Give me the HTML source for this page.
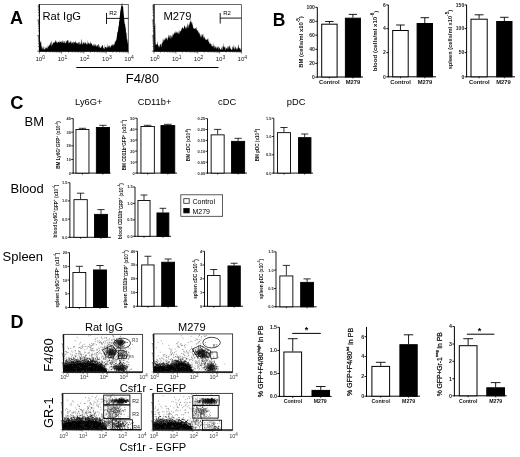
<!DOCTYPE html>
<html><head><meta charset="utf-8"><style>
html,body{margin:0;padding:0;background:#fff;overflow:hidden;width:520px;height:457px;}
svg{display:block;font-family:"Liberation Sans", sans-serif;filter:grayscale(1);}
</style></head><body>
<svg width="520" height="457" viewBox="0 0 520 457">
<defs><filter id="bl" x="-5%" y="-5%" width="110%" height="110%"><feGaussianBlur stdDeviation="0.3"/></filter><filter id="bl2"><feGaussianBlur stdDeviation="0.5"/></filter></defs>
<rect width="520" height="457" fill="#fff"/>
<text x="10" y="24.3" font-size="18" font-weight="bold" fill="#000">A</text>
<rect x="39.4" y="4.5" width="88.9" height="46.6" fill="none" stroke="#444" stroke-width="0.8"/>
<line x1="39.4" y1="4.2" x2="39.4" y2="51.6" stroke="#000" stroke-width="1.1"/>
<line x1="38.9" y1="51.1" x2="128.3" y2="51.1" stroke="#000" stroke-width="1.1"/>
<line x1="37.2" y1="51.1" x2="39.4" y2="51.1" stroke="#222" stroke-width="0.6"/>
<line x1="37.9" y1="46.42" x2="39.4" y2="46.42" stroke="#222" stroke-width="0.6"/>
<line x1="37.9" y1="43.69" x2="39.4" y2="43.69" stroke="#222" stroke-width="0.6"/>
<line x1="37.9" y1="41.75" x2="39.4" y2="41.75" stroke="#222" stroke-width="0.6"/>
<line x1="37.9" y1="40.24" x2="39.4" y2="40.24" stroke="#222" stroke-width="0.6"/>
<line x1="37.9" y1="39.01" x2="39.4" y2="39.01" stroke="#222" stroke-width="0.6"/>
<line x1="37.9" y1="37.97" x2="39.4" y2="37.97" stroke="#222" stroke-width="0.6"/>
<line x1="37.9" y1="37.07" x2="39.4" y2="37.07" stroke="#222" stroke-width="0.6"/>
<line x1="37.9" y1="36.28" x2="39.4" y2="36.28" stroke="#222" stroke-width="0.6"/>
<line x1="37.2" y1="35.57" x2="39.4" y2="35.57" stroke="#222" stroke-width="0.6"/>
<line x1="37.9" y1="30.89" x2="39.4" y2="30.89" stroke="#222" stroke-width="0.6"/>
<line x1="37.9" y1="28.16" x2="39.4" y2="28.16" stroke="#222" stroke-width="0.6"/>
<line x1="37.9" y1="26.21" x2="39.4" y2="26.21" stroke="#222" stroke-width="0.6"/>
<line x1="37.9" y1="24.71" x2="39.4" y2="24.71" stroke="#222" stroke-width="0.6"/>
<line x1="37.9" y1="23.48" x2="39.4" y2="23.48" stroke="#222" stroke-width="0.6"/>
<line x1="37.9" y1="22.44" x2="39.4" y2="22.44" stroke="#222" stroke-width="0.6"/>
<line x1="37.9" y1="21.54" x2="39.4" y2="21.54" stroke="#222" stroke-width="0.6"/>
<line x1="37.9" y1="20.74" x2="39.4" y2="20.74" stroke="#222" stroke-width="0.6"/>
<line x1="37.2" y1="20.03" x2="39.4" y2="20.03" stroke="#222" stroke-width="0.6"/>
<line x1="37.9" y1="15.36" x2="39.4" y2="15.36" stroke="#222" stroke-width="0.6"/>
<line x1="37.9" y1="12.62" x2="39.4" y2="12.62" stroke="#222" stroke-width="0.6"/>
<line x1="37.9" y1="10.68" x2="39.4" y2="10.68" stroke="#222" stroke-width="0.6"/>
<line x1="37.9" y1="9.18" x2="39.4" y2="9.18" stroke="#222" stroke-width="0.6"/>
<line x1="37.9" y1="7.95" x2="39.4" y2="7.95" stroke="#222" stroke-width="0.6"/>
<line x1="37.9" y1="6.91" x2="39.4" y2="6.91" stroke="#222" stroke-width="0.6"/>
<line x1="37.9" y1="6.01" x2="39.4" y2="6.01" stroke="#222" stroke-width="0.6"/>
<line x1="37.9" y1="5.21" x2="39.4" y2="5.21" stroke="#222" stroke-width="0.6"/>
<line x1="39.4" y1="51.1" x2="39.4" y2="53.6" stroke="#222" stroke-width="0.6"/>
<line x1="46.09" y1="51.1" x2="46.09" y2="52.6" stroke="#222" stroke-width="0.6"/>
<line x1="50" y1="51.1" x2="50" y2="52.6" stroke="#222" stroke-width="0.6"/>
<line x1="52.78" y1="51.1" x2="52.78" y2="52.6" stroke="#222" stroke-width="0.6"/>
<line x1="54.93" y1="51.1" x2="54.93" y2="52.6" stroke="#222" stroke-width="0.6"/>
<line x1="56.69" y1="51.1" x2="56.69" y2="52.6" stroke="#222" stroke-width="0.6"/>
<line x1="58.18" y1="51.1" x2="58.18" y2="52.6" stroke="#222" stroke-width="0.6"/>
<line x1="59.47" y1="51.1" x2="59.47" y2="52.6" stroke="#222" stroke-width="0.6"/>
<line x1="60.61" y1="51.1" x2="60.61" y2="52.6" stroke="#222" stroke-width="0.6"/>
<line x1="61.62" y1="51.1" x2="61.62" y2="53.6" stroke="#222" stroke-width="0.6"/>
<line x1="68.32" y1="51.1" x2="68.32" y2="52.6" stroke="#222" stroke-width="0.6"/>
<line x1="72.23" y1="51.1" x2="72.23" y2="52.6" stroke="#222" stroke-width="0.6"/>
<line x1="75.01" y1="51.1" x2="75.01" y2="52.6" stroke="#222" stroke-width="0.6"/>
<line x1="77.16" y1="51.1" x2="77.16" y2="52.6" stroke="#222" stroke-width="0.6"/>
<line x1="78.92" y1="51.1" x2="78.92" y2="52.6" stroke="#222" stroke-width="0.6"/>
<line x1="80.41" y1="51.1" x2="80.41" y2="52.6" stroke="#222" stroke-width="0.6"/>
<line x1="81.7" y1="51.1" x2="81.7" y2="52.6" stroke="#222" stroke-width="0.6"/>
<line x1="82.83" y1="51.1" x2="82.83" y2="52.6" stroke="#222" stroke-width="0.6"/>
<line x1="83.85" y1="51.1" x2="83.85" y2="53.6" stroke="#222" stroke-width="0.6"/>
<line x1="90.54" y1="51.1" x2="90.54" y2="52.6" stroke="#222" stroke-width="0.6"/>
<line x1="94.45" y1="51.1" x2="94.45" y2="52.6" stroke="#222" stroke-width="0.6"/>
<line x1="97.23" y1="51.1" x2="97.23" y2="52.6" stroke="#222" stroke-width="0.6"/>
<line x1="99.38" y1="51.1" x2="99.38" y2="52.6" stroke="#222" stroke-width="0.6"/>
<line x1="101.14" y1="51.1" x2="101.14" y2="52.6" stroke="#222" stroke-width="0.6"/>
<line x1="102.63" y1="51.1" x2="102.63" y2="52.6" stroke="#222" stroke-width="0.6"/>
<line x1="103.92" y1="51.1" x2="103.92" y2="52.6" stroke="#222" stroke-width="0.6"/>
<line x1="105.06" y1="51.1" x2="105.06" y2="52.6" stroke="#222" stroke-width="0.6"/>
<line x1="106.08" y1="51.1" x2="106.08" y2="53.6" stroke="#222" stroke-width="0.6"/>
<line x1="112.77" y1="51.1" x2="112.77" y2="52.6" stroke="#222" stroke-width="0.6"/>
<line x1="116.68" y1="51.1" x2="116.68" y2="52.6" stroke="#222" stroke-width="0.6"/>
<line x1="119.46" y1="51.1" x2="119.46" y2="52.6" stroke="#222" stroke-width="0.6"/>
<line x1="121.61" y1="51.1" x2="121.61" y2="52.6" stroke="#222" stroke-width="0.6"/>
<line x1="123.37" y1="51.1" x2="123.37" y2="52.6" stroke="#222" stroke-width="0.6"/>
<line x1="124.86" y1="51.1" x2="124.86" y2="52.6" stroke="#222" stroke-width="0.6"/>
<line x1="126.15" y1="51.1" x2="126.15" y2="52.6" stroke="#222" stroke-width="0.6"/>
<line x1="127.28" y1="51.1" x2="127.28" y2="52.6" stroke="#222" stroke-width="0.6"/>
<line x1="128.3" y1="51.1" x2="128.3" y2="53.6" stroke="#222" stroke-width="0.6"/>
<text x="40.2" y="61.3" font-size="6.1" text-anchor="middle" fill="#222">10<tspan font-size="5" dy="-2.6">0</tspan></text>
<text x="62.42" y="61.3" font-size="6.1" text-anchor="middle" fill="#222">10<tspan font-size="5" dy="-2.6">1</tspan></text>
<text x="84.65" y="61.3" font-size="6.1" text-anchor="middle" fill="#222">10<tspan font-size="5" dy="-2.6">2</tspan></text>
<text x="106.88" y="61.3" font-size="6.1" text-anchor="middle" fill="#222">10<tspan font-size="5" dy="-2.6">3</tspan></text>
<text x="129.1" y="61.3" font-size="6.1" text-anchor="middle" fill="#222">10<tspan font-size="5" dy="-2.6">4</tspan></text>
<path d="M40 51.1 L39.6 42.57 L39.9 43.11 L40.2 42.11 L40.5 43.02 L40.8 40.56 L41.1 41.52 L41.4 45.81 L41.7 46.6 L42 49.51 L42.3 48.98 L42.6 46.2 L42.9 48.33 L43.2 46.03 L43.5 47.81 L43.8 49.45 L44.1 49.61 L44.4 49.1 L44.7 49.63 L45 45.42 L45.3 49.66 L45.6 48.21 L45.9 47.64 L46.2 46.93 L46.5 47.81 L46.8 48.13 L47.1 48.77 L47.4 44.84 L47.7 49.06 L48 47.37 L48.3 45.84 L48.6 47.24 L48.9 45.08 L49.2 45.52 L49.5 44.32 L49.8 46.18 L50.1 42.73 L50.4 42.58 L50.7 43.6 L51 46.1 L51.3 46.02 L51.6 42.11 L51.9 40.31 L52.2 43.79 L52.5 44.77 L52.8 44.91 L53.1 42.32 L53.4 42.67 L53.7 42.76 L54 42.63 L54.3 42.19 L54.6 43.09 L54.9 41.4 L55.2 42.33 L55.5 40.27 L55.8 40.4 L56.1 40.6 L56.4 42.2 L56.7 41.76 L57 43.14 L57.3 43.13 L57.6 41.42 L57.9 42.84 L58.2 41.93 L58.5 41.98 L58.8 41.73 L59.1 41.63 L59.4 43.55 L59.7 41.48 L60 40.01 L60.3 42.21 L60.6 41.81 L60.9 42.16 L61.2 40.99 L61.5 42.88 L61.8 41.99 L62.1 40.57 L62.4 40.78 L62.7 42.34 L63 43.14 L63.3 43.06 L63.6 40.23 L63.9 42.86 L64.2 40.96 L64.5 41.19 L64.8 43.14 L65.1 43.17 L65.4 43.28 L65.7 43.05 L66 40.01 L66.3 42.63 L66.6 41.44 L66.9 40.83 L67.2 39.83 L67.5 40.83 L67.8 39.96 L68.1 42.72 L68.4 43.66 L68.7 39.78 L69 40.93 L69.3 43.04 L69.6 42.14 L69.9 43.06 L70.2 41.64 L70.5 42.57 L70.8 40.15 L71.1 41.14 L71.4 44.43 L71.7 41.78 L72 43.24 L72.3 41.81 L72.6 42.46 L72.9 43.72 L73.2 41.03 L73.5 44.75 L73.8 41.14 L74.1 42.09 L74.4 42.25 L74.7 43.23 L75 41.63 L75.3 41.37 L75.6 43.8 L75.9 39.88 L76.2 43.38 L76.5 42.48 L76.8 43.48 L77.1 42.47 L77.4 43.84 L77.7 43.82 L78 42 L78.3 42.32 L78.6 42.77 L78.9 44.87 L79.2 44.72 L79.5 42.14 L79.8 41.59 L80.1 43.81 L80.4 44.36 L80.7 44.14 L81 41.58 L81.3 38.41 L81.6 41.02 L81.9 44.73 L82.2 41.63 L82.5 44 L82.8 45.16 L83.1 41.79 L83.4 43.4 L83.7 41.77 L84 44 L84.3 43.67 L84.6 41.48 L84.9 43.92 L85.2 43.03 L85.5 43.06 L85.8 41.37 L86.1 45.45 L86.4 42.06 L86.7 44.6 L87 43.65 L87.3 44.18 L87.6 39.49 L87.9 45.33 L88.2 43.45 L88.5 42.47 L88.8 42.58 L89.1 43.12 L89.4 44.72 L89.7 43.17 L90 43.71 L90.3 44.48 L90.6 41.32 L90.9 42.49 L91.2 43.6 L91.5 42.94 L91.8 44.37 L92.1 44.39 L92.4 45.9 L92.7 44.57 L93 46.17 L93.3 45.73 L93.6 44.71 L93.9 43.82 L94.2 45.68 L94.5 46.48 L94.8 43.83 L95.1 43.89 L95.4 46.72 L95.7 44.35 L96 44.68 L96.3 46.13 L96.6 46.98 L96.9 45.13 L97.2 45.31 L97.5 45.63 L97.8 44.8 L98.1 47.93 L98.4 45.35 L98.7 43.73 L99 44.62 L99.3 45.92 L99.6 47.57 L99.9 47.33 L100.2 47.96 L100.5 47.86 L100.8 47.65 L101.1 45.47 L101.4 46.56 L101.7 48.01 L102 46.09 L102.3 44.83 L102.6 44.89 L102.9 46.26 L103.2 48.74 L103.5 48.18 L103.8 47.89 L104.1 44.21 L104.4 49.06 L104.7 48.92 L105 46.9 L105.3 47.47 L105.6 46.66 L105.9 47.01 L106.2 47.12 L106.5 48.54 L106.8 47.79 L107.1 42.82 L107.4 47.42 L107.7 46.75 L108 48.29 L108.3 45.86 L108.6 45.59 L108.9 47.03 L109.2 45.65 L109.5 44.66 L109.8 48.09 L110.1 45.93 L110.4 46.65 L110.7 48.16 L111 45.3 L111.3 45.95 L111.6 44.07 L111.9 46.48 L112.2 45.82 L112.5 44.38 L112.8 43.64 L113.1 46.03 L113.4 45.6 L113.7 43.98 L114 44.35 L114.3 41.33 L114.6 45.33 L114.9 44.31 L115.2 40.53 L115.5 41.65 L115.8 41.34 L116.1 39.04 L116.4 40.66 L116.7 37.32 L117 35.76 L117.3 32.65 L117.6 31.39 L117.9 31.99 L118.2 28.92 L118.5 26.34 L118.8 26.09 L119.1 21.44 L119.4 20.94 L119.7 16.81 L120 15.03 L120.3 10.81 L120.6 10.54 L120.9 8 L121.2 6.6 L121.5 5.14 L121.8 4.49 L122.1 2.18 L122.4 6.56 L122.7 6.46 L123 5.74 L123.3 9.18 L123.6 13.07 L123.9 16.03 L124.2 19.87 L124.5 22.06 L124.8 24.61 L125.1 23.87 L125.4 28.42 L125.7 26.3 L126 33.55 L126.3 31.69 L126.6 34.9 L126.9 39.47 L127.2 39.09 L127.5 41.21 L127.8 44.01 L128.1 41.41 L128.1 51.1 Z" fill="#000"/>
<text x="42.5" y="20" font-size="11.2" fill="#000">Rat IgG</text>
<line x1="106.5" y1="12.9" x2="106.5" y2="24" stroke="#000" stroke-width="0.9"/>
<line x1="106.5" y1="18.4" x2="128.3" y2="18.4" stroke="#000" stroke-width="0.9"/>
<text x="109.2" y="15.3" font-size="6" fill="#000">R2</text>
<rect x="154" y="4.6" width="87.5" height="46.5" fill="none" stroke="#444" stroke-width="0.8"/>
<line x1="154" y1="4.3" x2="154" y2="51.6" stroke="#000" stroke-width="1.1"/>
<line x1="153.5" y1="51.1" x2="241.5" y2="51.1" stroke="#000" stroke-width="1.1"/>
<line x1="151.8" y1="51.1" x2="154" y2="51.1" stroke="#222" stroke-width="0.6"/>
<line x1="152.5" y1="46.43" x2="154" y2="46.43" stroke="#222" stroke-width="0.6"/>
<line x1="152.5" y1="43.7" x2="154" y2="43.7" stroke="#222" stroke-width="0.6"/>
<line x1="152.5" y1="41.77" x2="154" y2="41.77" stroke="#222" stroke-width="0.6"/>
<line x1="152.5" y1="40.27" x2="154" y2="40.27" stroke="#222" stroke-width="0.6"/>
<line x1="152.5" y1="39.04" x2="154" y2="39.04" stroke="#222" stroke-width="0.6"/>
<line x1="152.5" y1="38" x2="154" y2="38" stroke="#222" stroke-width="0.6"/>
<line x1="152.5" y1="37.1" x2="154" y2="37.1" stroke="#222" stroke-width="0.6"/>
<line x1="152.5" y1="36.31" x2="154" y2="36.31" stroke="#222" stroke-width="0.6"/>
<line x1="151.8" y1="35.6" x2="154" y2="35.6" stroke="#222" stroke-width="0.6"/>
<line x1="152.5" y1="30.93" x2="154" y2="30.93" stroke="#222" stroke-width="0.6"/>
<line x1="152.5" y1="28.2" x2="154" y2="28.2" stroke="#222" stroke-width="0.6"/>
<line x1="152.5" y1="26.27" x2="154" y2="26.27" stroke="#222" stroke-width="0.6"/>
<line x1="152.5" y1="24.77" x2="154" y2="24.77" stroke="#222" stroke-width="0.6"/>
<line x1="152.5" y1="23.54" x2="154" y2="23.54" stroke="#222" stroke-width="0.6"/>
<line x1="152.5" y1="22.5" x2="154" y2="22.5" stroke="#222" stroke-width="0.6"/>
<line x1="152.5" y1="21.6" x2="154" y2="21.6" stroke="#222" stroke-width="0.6"/>
<line x1="152.5" y1="20.81" x2="154" y2="20.81" stroke="#222" stroke-width="0.6"/>
<line x1="151.8" y1="20.1" x2="154" y2="20.1" stroke="#222" stroke-width="0.6"/>
<line x1="152.5" y1="15.43" x2="154" y2="15.43" stroke="#222" stroke-width="0.6"/>
<line x1="152.5" y1="12.7" x2="154" y2="12.7" stroke="#222" stroke-width="0.6"/>
<line x1="152.5" y1="10.77" x2="154" y2="10.77" stroke="#222" stroke-width="0.6"/>
<line x1="152.5" y1="9.27" x2="154" y2="9.27" stroke="#222" stroke-width="0.6"/>
<line x1="152.5" y1="8.04" x2="154" y2="8.04" stroke="#222" stroke-width="0.6"/>
<line x1="152.5" y1="7" x2="154" y2="7" stroke="#222" stroke-width="0.6"/>
<line x1="152.5" y1="6.1" x2="154" y2="6.1" stroke="#222" stroke-width="0.6"/>
<line x1="152.5" y1="5.31" x2="154" y2="5.31" stroke="#222" stroke-width="0.6"/>
<line x1="154" y1="51.1" x2="154" y2="53.6" stroke="#222" stroke-width="0.6"/>
<line x1="160.59" y1="51.1" x2="160.59" y2="52.6" stroke="#222" stroke-width="0.6"/>
<line x1="164.44" y1="51.1" x2="164.44" y2="52.6" stroke="#222" stroke-width="0.6"/>
<line x1="167.17" y1="51.1" x2="167.17" y2="52.6" stroke="#222" stroke-width="0.6"/>
<line x1="169.29" y1="51.1" x2="169.29" y2="52.6" stroke="#222" stroke-width="0.6"/>
<line x1="171.02" y1="51.1" x2="171.02" y2="52.6" stroke="#222" stroke-width="0.6"/>
<line x1="172.49" y1="51.1" x2="172.49" y2="52.6" stroke="#222" stroke-width="0.6"/>
<line x1="173.76" y1="51.1" x2="173.76" y2="52.6" stroke="#222" stroke-width="0.6"/>
<line x1="174.87" y1="51.1" x2="174.87" y2="52.6" stroke="#222" stroke-width="0.6"/>
<line x1="175.88" y1="51.1" x2="175.88" y2="53.6" stroke="#222" stroke-width="0.6"/>
<line x1="182.46" y1="51.1" x2="182.46" y2="52.6" stroke="#222" stroke-width="0.6"/>
<line x1="186.31" y1="51.1" x2="186.31" y2="52.6" stroke="#222" stroke-width="0.6"/>
<line x1="189.05" y1="51.1" x2="189.05" y2="52.6" stroke="#222" stroke-width="0.6"/>
<line x1="191.16" y1="51.1" x2="191.16" y2="52.6" stroke="#222" stroke-width="0.6"/>
<line x1="192.9" y1="51.1" x2="192.9" y2="52.6" stroke="#222" stroke-width="0.6"/>
<line x1="194.36" y1="51.1" x2="194.36" y2="52.6" stroke="#222" stroke-width="0.6"/>
<line x1="195.63" y1="51.1" x2="195.63" y2="52.6" stroke="#222" stroke-width="0.6"/>
<line x1="196.75" y1="51.1" x2="196.75" y2="52.6" stroke="#222" stroke-width="0.6"/>
<line x1="197.75" y1="51.1" x2="197.75" y2="53.6" stroke="#222" stroke-width="0.6"/>
<line x1="204.34" y1="51.1" x2="204.34" y2="52.6" stroke="#222" stroke-width="0.6"/>
<line x1="208.19" y1="51.1" x2="208.19" y2="52.6" stroke="#222" stroke-width="0.6"/>
<line x1="210.92" y1="51.1" x2="210.92" y2="52.6" stroke="#222" stroke-width="0.6"/>
<line x1="213.04" y1="51.1" x2="213.04" y2="52.6" stroke="#222" stroke-width="0.6"/>
<line x1="214.77" y1="51.1" x2="214.77" y2="52.6" stroke="#222" stroke-width="0.6"/>
<line x1="216.24" y1="51.1" x2="216.24" y2="52.6" stroke="#222" stroke-width="0.6"/>
<line x1="217.51" y1="51.1" x2="217.51" y2="52.6" stroke="#222" stroke-width="0.6"/>
<line x1="218.62" y1="51.1" x2="218.62" y2="52.6" stroke="#222" stroke-width="0.6"/>
<line x1="219.62" y1="51.1" x2="219.62" y2="53.6" stroke="#222" stroke-width="0.6"/>
<line x1="226.21" y1="51.1" x2="226.21" y2="52.6" stroke="#222" stroke-width="0.6"/>
<line x1="230.06" y1="51.1" x2="230.06" y2="52.6" stroke="#222" stroke-width="0.6"/>
<line x1="232.8" y1="51.1" x2="232.8" y2="52.6" stroke="#222" stroke-width="0.6"/>
<line x1="234.91" y1="51.1" x2="234.91" y2="52.6" stroke="#222" stroke-width="0.6"/>
<line x1="236.65" y1="51.1" x2="236.65" y2="52.6" stroke="#222" stroke-width="0.6"/>
<line x1="238.11" y1="51.1" x2="238.11" y2="52.6" stroke="#222" stroke-width="0.6"/>
<line x1="239.38" y1="51.1" x2="239.38" y2="52.6" stroke="#222" stroke-width="0.6"/>
<line x1="240.5" y1="51.1" x2="240.5" y2="52.6" stroke="#222" stroke-width="0.6"/>
<line x1="241.5" y1="51.1" x2="241.5" y2="53.6" stroke="#222" stroke-width="0.6"/>
<text x="154.8" y="61.3" font-size="6.1" text-anchor="middle" fill="#222">10<tspan font-size="5" dy="-2.6">0</tspan></text>
<text x="176.68" y="61.3" font-size="6.1" text-anchor="middle" fill="#222">10<tspan font-size="5" dy="-2.6">1</tspan></text>
<text x="198.55" y="61.3" font-size="6.1" text-anchor="middle" fill="#222">10<tspan font-size="5" dy="-2.6">2</tspan></text>
<text x="220.43" y="61.3" font-size="6.1" text-anchor="middle" fill="#222">10<tspan font-size="5" dy="-2.6">3</tspan></text>
<text x="242.3" y="61.3" font-size="6.1" text-anchor="middle" fill="#222">10<tspan font-size="5" dy="-2.6">4</tspan></text>
<path d="M154.3 51.1 L154.3 25.15 L154.6 25.91 L154.9 25.67 L155.2 22.53 L155.5 42.09 L155.8 45.29 L156.1 44.29 L156.4 44.96 L156.7 44.56 L157 43.67 L157.3 44.07 L157.6 40.68 L157.9 44.5 L158.2 47.96 L158.5 44.92 L158.8 46.04 L159.1 44.59 L159.4 46.76 L159.7 47.68 L160 44.78 L160.3 44.06 L160.6 43.82 L160.9 45.31 L161.2 47.46 L161.5 45.26 L161.8 43.2 L162.1 43.47 L162.4 42.44 L162.7 41.81 L163 37.93 L163.3 39.72 L163.6 42.41 L163.9 39.67 L164.2 40.32 L164.5 38.33 L164.8 41.22 L165.1 37.71 L165.4 37.8 L165.7 39.95 L166 38.6 L166.3 39.26 L166.6 37.7 L166.9 37.01 L167.2 40.32 L167.5 40.21 L167.8 37.39 L168.1 37.98 L168.4 37.11 L168.7 35.1 L169 34.74 L169.3 35.4 L169.6 38.7 L169.9 36.24 L170.2 35.06 L170.5 35.65 L170.8 38.72 L171.1 38.56 L171.4 36.36 L171.7 36.27 L172 34.41 L172.3 37.99 L172.6 35.91 L172.9 33.09 L173.2 35.64 L173.5 33.3 L173.8 34.65 L174.1 33.81 L174.4 32.43 L174.7 32 L175 34.1 L175.3 31.94 L175.6 33.45 L175.9 30.57 L176.2 31.57 L176.5 32.45 L176.8 33.2 L177.1 31.82 L177.4 33.48 L177.7 31.71 L178 33.95 L178.3 34.35 L178.6 32.27 L178.9 30.65 L179.2 33.88 L179.5 32.54 L179.8 29.42 L180.1 31.55 L180.4 30.59 L180.7 31.91 L181 30.79 L181.3 29.93 L181.6 28.7 L181.9 28.43 L182.2 27.75 L182.5 27.72 L182.8 27.02 L183.1 28.35 L183.4 29.08 L183.7 28.68 L184 27.3 L184.3 26.38 L184.6 24.93 L184.9 25.89 L185.2 26.87 L185.5 29.55 L185.8 27.12 L186.1 28.06 L186.4 25.79 L186.7 27.61 L187 29.35 L187.3 26.57 L187.6 22.76 L187.9 25.18 L188.2 28.39 L188.5 25.68 L188.8 24.39 L189.1 24.1 L189.4 25.79 L189.7 22.22 L190 22.59 L190.3 21.36 L190.6 21.67 L190.9 18.73 L191.2 21.56 L191.5 24.11 L191.8 21.76 L192.1 23.86 L192.4 26.86 L192.7 21.48 L193 26.2 L193.3 27.75 L193.6 29.07 L193.9 27.67 L194.2 28.58 L194.5 28.51 L194.8 29.14 L195.1 28.17 L195.4 27.98 L195.7 28.14 L196 29.82 L196.3 26.49 L196.6 28.84 L196.9 30.61 L197.2 30.13 L197.5 30.23 L197.8 31.66 L198.1 29.98 L198.4 33.17 L198.7 31.89 L199 33.31 L199.3 34.1 L199.6 31.38 L199.9 35.42 L200.2 36.69 L200.5 33.43 L200.8 37.89 L201.1 33.63 L201.4 35.04 L201.7 38.53 L202 35.16 L202.3 36.49 L202.6 34.47 L202.9 34.03 L203.2 33.64 L203.5 39.1 L203.8 36.66 L204.1 37.71 L204.4 38.73 L204.7 35.75 L205 37.73 L205.3 39.55 L205.6 40.02 L205.9 38.98 L206.2 39.22 L206.5 39.77 L206.8 40.34 L207.1 39.79 L207.4 39.59 L207.7 37.69 L208 40.95 L208.3 42.32 L208.6 41.19 L208.9 37.32 L209.2 44.11 L209.5 41.91 L209.8 44.64 L210.1 42.62 L210.4 43.87 L210.7 44.07 L211 44.44 L211.3 43.8 L211.6 46.36 L211.9 45.72 L212.2 46.29 L212.5 46.7 L212.8 45.94 L213.1 41.9 L213.4 46.76 L213.7 44.79 L214 48.88 L214.3 47 L214.6 45.09 L214.9 47.08 L215.2 48.48 L215.5 45.84 L215.8 46.93 L216.1 46.14 L216.4 47.63 L216.7 49.05 L217 48.09 L217.3 46.53 L217.6 47.3 L217.9 48.45 L218.2 46.13 L218.5 46.37 L218.8 50.33 L219.1 47.4 L219.4 47.28 L219.7 48.26 L220 49 L220.3 48.89 L220.6 50.11 L220.9 49.48 L221.2 46.24 L221.5 50.42 L221.8 47.32 L222.1 50.02 L222.4 49.24 L222.7 46.28 L223 46.32 L223.3 47.86 L223.6 42.5 L223.9 46.86 L224.2 47.84 L224.5 46.44 L224.8 46.55 L225.1 50.14 L225.4 49.86 L225.7 46.15 L226 48.23 L226.3 47.75 L226.6 49.29 L226.9 47.45 L227.2 49.74 L227.5 46.6 L227.8 46.48 L228.1 49.72 L228.4 45.72 L228.7 46.47 L229 48.65 L229.3 46.38 L229.6 45.2 L229.9 46.12 L230.2 47.5 L230.5 48.57 L230.8 49.01 L231.1 48.66 L231.4 49.73 L231.7 50.34 L232 49.23 L232.3 49.72 L232.6 46.05 L232.9 47.29 L233.2 44.42 L233.5 48.4 L233.8 46.72 L234.1 49.94 L234.4 48.85 L234.7 48.04 L235 45.33 L235.3 49.81 L235.6 46.58 L235.9 46.91 L236.2 48.13 L236.5 48.44 L236.8 50.21 L237.1 48.09 L237.4 49.56 L237.7 48.53 L238 45.63 L238.3 44.22 L238.6 46.32 L238.9 48.31 L239.2 47.92 L239.5 47.41 L239.8 48.67 L240.1 49.51 L240.4 47.75 L240.7 50.54 L241 49.95 L241.3 44.73 L241.3 51.1 Z" fill="#000"/>
<text x="163.4" y="20" font-size="11.2" fill="#000">M279</text>
<line x1="220.2" y1="13" x2="220.2" y2="23.6" stroke="#000" stroke-width="0.9"/>
<line x1="220.2" y1="18.1" x2="241.5" y2="18.1" stroke="#000" stroke-width="0.9"/>
<text x="223.2" y="14.8" font-size="6" fill="#000">R2</text>
<line x1="76.3" y1="67.5" x2="218.5" y2="67.5" stroke="#000" stroke-width="1"/>
<text x="125.8" y="82.9" font-size="13" fill="#000">F4/80</text>
<text x="272.8" y="25.8" font-size="17.5" font-weight="bold" fill="#000">B</text>
<line x1="317.3" y1="7.3" x2="317.3" y2="77.5" stroke="#000" stroke-width="1"/>
<line x1="316.8" y1="77" x2="363" y2="77" stroke="#000" stroke-width="1"/>
<line x1="315.3" y1="7.3" x2="317.3" y2="7.3" stroke="#000" stroke-width="0.9"/>
<text x="314.9" y="9.1" font-size="5" font-weight="bold" text-anchor="end" fill="#222">100</text>
<line x1="315.3" y1="21.3" x2="317.3" y2="21.3" stroke="#000" stroke-width="0.9"/>
<text x="314.9" y="23.1" font-size="5" font-weight="bold" text-anchor="end" fill="#222">80</text>
<line x1="315.3" y1="35.2" x2="317.3" y2="35.2" stroke="#000" stroke-width="0.9"/>
<text x="314.9" y="37" font-size="5" font-weight="bold" text-anchor="end" fill="#222">60</text>
<line x1="315.3" y1="49.3" x2="317.3" y2="49.3" stroke="#000" stroke-width="0.9"/>
<text x="314.9" y="51.1" font-size="5" font-weight="bold" text-anchor="end" fill="#222">40</text>
<line x1="315.3" y1="63.4" x2="317.3" y2="63.4" stroke="#000" stroke-width="0.9"/>
<text x="314.9" y="65.2" font-size="5" font-weight="bold" text-anchor="end" fill="#222">20</text>
<line x1="315.3" y1="77.2" x2="317.3" y2="77.2" stroke="#000" stroke-width="0.9"/>
<text x="314.9" y="79" font-size="5" font-weight="bold" text-anchor="end" fill="#222">0</text>
<line x1="329.4" y1="23.7" x2="329.4" y2="21.5" stroke="#000" stroke-width="0.9"/>
<line x1="325.14" y1="21.5" x2="333.66" y2="21.5" stroke="#000" stroke-width="0.9"/>
<rect x="321.7" y="24.2" width="15.4" height="52.8" fill="#fff" stroke="#000" stroke-width="1"/>
<line x1="329.4" y1="77" x2="329.4" y2="78.5" stroke="#000" stroke-width="0.8"/>
<line x1="352.9" y1="17.7" x2="352.9" y2="14.4" stroke="#000" stroke-width="0.9"/>
<line x1="348.74" y1="14.4" x2="357.06" y2="14.4" stroke="#000" stroke-width="0.9"/>
<rect x="345.4" y="18.2" width="15" height="58.8" fill="#000" stroke="#000" stroke-width="1"/>
<line x1="352.9" y1="77" x2="352.9" y2="78.5" stroke="#000" stroke-width="0.8"/>
<text x="329.4" y="84" font-size="5.8" font-weight="bold" text-anchor="middle" fill="#111">Control</text>
<text x="352.9" y="84" font-size="5.8" font-weight="bold" text-anchor="middle" fill="#111">M279</text>
<text x="300.6" y="42" font-size="5.85" font-weight="bold" text-anchor="middle" fill="#111" transform="rotate(-90 300.6 42)" dominant-baseline="central">BM (cells/ml x10<tspan font-size="4.6" dy="-2.7">-5</tspan><tspan dy="2.7">)</tspan></text>
<line x1="388.3" y1="4.9" x2="388.3" y2="77.3" stroke="#000" stroke-width="1"/>
<line x1="387.8" y1="76.8" x2="436" y2="76.8" stroke="#000" stroke-width="1"/>
<line x1="386.3" y1="4.9" x2="388.3" y2="4.9" stroke="#000" stroke-width="0.9"/>
<text x="385.9" y="6.7" font-size="5" font-weight="bold" text-anchor="end" fill="#222">6</text>
<line x1="386.3" y1="28.6" x2="388.3" y2="28.6" stroke="#000" stroke-width="0.9"/>
<text x="385.9" y="30.4" font-size="5" font-weight="bold" text-anchor="end" fill="#222">4</text>
<line x1="386.3" y1="52.6" x2="388.3" y2="52.6" stroke="#000" stroke-width="0.9"/>
<text x="385.9" y="54.4" font-size="5" font-weight="bold" text-anchor="end" fill="#222">2</text>
<line x1="386.3" y1="76.8" x2="388.3" y2="76.8" stroke="#000" stroke-width="0.9"/>
<text x="385.9" y="78.6" font-size="5" font-weight="bold" text-anchor="end" fill="#222">0</text>
<line x1="400.45" y1="30" x2="400.45" y2="25" stroke="#000" stroke-width="0.9"/>
<line x1="396.16" y1="25" x2="404.74" y2="25" stroke="#000" stroke-width="0.9"/>
<rect x="392.7" y="30.5" width="15.5" height="46.3" fill="#fff" stroke="#000" stroke-width="1"/>
<line x1="400.45" y1="76.8" x2="400.45" y2="78.3" stroke="#000" stroke-width="0.8"/>
<line x1="424.8" y1="23" x2="424.8" y2="17.7" stroke="#000" stroke-width="0.9"/>
<line x1="420.54" y1="17.7" x2="429.06" y2="17.7" stroke="#000" stroke-width="0.9"/>
<rect x="417.1" y="23.5" width="15.4" height="53.3" fill="#000" stroke="#000" stroke-width="1"/>
<line x1="424.8" y1="76.8" x2="424.8" y2="78.3" stroke="#000" stroke-width="0.8"/>
<text x="400.6" y="84" font-size="5.8" font-weight="bold" text-anchor="middle" fill="#111">Control</text>
<text x="424.9" y="84" font-size="5.8" font-weight="bold" text-anchor="middle" fill="#111">M279</text>
<text x="374.9" y="41" font-size="6.1" font-weight="bold" text-anchor="middle" fill="#111" transform="rotate(-90 374.9 41)" dominant-baseline="central">blood (cells/ml x10<tspan font-size="4.6" dy="-2.7">-6</tspan><tspan dy="2.7">)</tspan></text>
<line x1="466.6" y1="4.9" x2="466.6" y2="77.3" stroke="#000" stroke-width="1"/>
<line x1="466.1" y1="76.8" x2="515" y2="76.8" stroke="#000" stroke-width="1"/>
<line x1="464.6" y1="4.9" x2="466.6" y2="4.9" stroke="#000" stroke-width="0.9"/>
<text x="464.2" y="6.7" font-size="5" font-weight="bold" text-anchor="end" fill="#222">150</text>
<line x1="464.6" y1="28.6" x2="466.6" y2="28.6" stroke="#000" stroke-width="0.9"/>
<text x="464.2" y="30.4" font-size="5" font-weight="bold" text-anchor="end" fill="#222">100</text>
<line x1="464.6" y1="52.6" x2="466.6" y2="52.6" stroke="#000" stroke-width="0.9"/>
<text x="464.2" y="54.4" font-size="5" font-weight="bold" text-anchor="end" fill="#222">50</text>
<line x1="464.6" y1="76.8" x2="466.6" y2="76.8" stroke="#000" stroke-width="0.9"/>
<text x="464.2" y="78.6" font-size="5" font-weight="bold" text-anchor="end" fill="#222">0</text>
<line x1="479.1" y1="18.7" x2="479.1" y2="14.8" stroke="#000" stroke-width="0.9"/>
<line x1="474.63" y1="14.8" x2="483.57" y2="14.8" stroke="#000" stroke-width="0.9"/>
<rect x="471" y="19.2" width="16.2" height="57.6" fill="#fff" stroke="#000" stroke-width="1"/>
<line x1="479.1" y1="76.8" x2="479.1" y2="78.3" stroke="#000" stroke-width="0.8"/>
<line x1="504.35" y1="21" x2="504.35" y2="17.3" stroke="#000" stroke-width="0.9"/>
<line x1="500.11" y1="17.3" x2="508.59" y2="17.3" stroke="#000" stroke-width="0.9"/>
<rect x="496.7" y="21.5" width="15.3" height="55.3" fill="#000" stroke="#000" stroke-width="1"/>
<line x1="504.35" y1="76.8" x2="504.35" y2="78.3" stroke="#000" stroke-width="0.8"/>
<text x="479.4" y="84" font-size="5.8" font-weight="bold" text-anchor="middle" fill="#111">Control</text>
<text x="503.5" y="84" font-size="5.8" font-weight="bold" text-anchor="middle" fill="#111">M279</text>
<text x="450.1" y="39.6" font-size="5.7" font-weight="bold" text-anchor="middle" fill="#111" transform="rotate(-90 450.1 39.6)" dominant-baseline="central">spleen (cells/ml x10<tspan font-size="4.6" dy="-2.7">-5</tspan><tspan dy="2.7">)</tspan></text>
<text x="10.2" y="109.3" font-size="18.3" font-weight="bold" fill="#000">C</text>
<text x="24.5" y="125.9" font-size="13" fill="#000">BM</text>
<text x="10.5" y="193.1" font-size="13" fill="#000">Blood</text>
<text x="2.6" y="260.6" font-size="13" fill="#000">Spleen</text>
<text x="75.1" y="104.9" font-size="9.3" fill="#000">Ly6G+</text>
<text x="137.7" y="104.9" font-size="9.3" fill="#000">CD11b+</text>
<text x="218.1" y="104.9" font-size="9.3" fill="#000">cDC</text>
<text x="286.8" y="104.9" font-size="9.3" fill="#000">pDC</text>
<line x1="73.2" y1="118.5" x2="73.2" y2="173.6" stroke="#000" stroke-width="0.9"/>
<line x1="72.7" y1="173.1" x2="110.6" y2="173.1" stroke="#000" stroke-width="0.9"/>
<line x1="71.2" y1="118.6" x2="73.2" y2="118.6" stroke="#000" stroke-width="0.81"/>
<text x="70.8" y="120" font-size="3.9" font-weight="bold" text-anchor="end" fill="#222">40</text>
<line x1="71.2" y1="132.2" x2="73.2" y2="132.2" stroke="#000" stroke-width="0.81"/>
<text x="70.8" y="133.6" font-size="3.9" font-weight="bold" text-anchor="end" fill="#222">30</text>
<line x1="71.2" y1="145.8" x2="73.2" y2="145.8" stroke="#000" stroke-width="0.81"/>
<text x="70.8" y="147.2" font-size="3.9" font-weight="bold" text-anchor="end" fill="#222">20</text>
<line x1="71.2" y1="159.5" x2="73.2" y2="159.5" stroke="#000" stroke-width="0.81"/>
<text x="70.8" y="160.9" font-size="3.9" font-weight="bold" text-anchor="end" fill="#222">10</text>
<line x1="71.2" y1="173.1" x2="73.2" y2="173.1" stroke="#000" stroke-width="0.81"/>
<text x="70.8" y="174.5" font-size="3.9" font-weight="bold" text-anchor="end" fill="#222">0</text>
<line x1="82.45" y1="129" x2="82.45" y2="128.3" stroke="#000" stroke-width="0.81"/>
<line x1="78.84" y1="128.3" x2="86.06" y2="128.3" stroke="#000" stroke-width="0.81"/>
<rect x="75.95" y="129.45" width="13" height="43.65" fill="#fff" stroke="#000" stroke-width="0.9"/>
<line x1="82.45" y1="173.1" x2="82.45" y2="174.6" stroke="#000" stroke-width="0.72"/>
<line x1="102.9" y1="127" x2="102.9" y2="125.3" stroke="#000" stroke-width="0.81"/>
<line x1="99.26" y1="125.3" x2="106.54" y2="125.3" stroke="#000" stroke-width="0.81"/>
<rect x="96.35" y="127.45" width="13.1" height="45.65" fill="#000" stroke="#000" stroke-width="0.9"/>
<line x1="102.9" y1="173.1" x2="102.9" y2="174.6" stroke="#000" stroke-width="0.72"/>
<text x="58.4" y="145" font-size="4.6" font-weight="bold" text-anchor="middle" fill="#111" transform="rotate(-90 58.4 145)" dominant-baseline="central">BM Ly6G<tspan font-size="3" dy="-1.5">+</tspan><tspan dy="1.5">GFP<tspan font-size="3" dy="-1.5">+</tspan><tspan dy="1.5"> (x10<tspan font-size="3" dy="-1.8">-4</tspan><tspan dy="1.8">)</tspan></text>
<line x1="137.1" y1="118.2" x2="137.1" y2="173.6" stroke="#000" stroke-width="0.9"/>
<line x1="136.6" y1="173.1" x2="177" y2="173.1" stroke="#000" stroke-width="0.9"/>
<line x1="135.1" y1="118.2" x2="137.1" y2="118.2" stroke="#000" stroke-width="0.81"/>
<text x="134.7" y="119.6" font-size="3.9" font-weight="bold" text-anchor="end" fill="#222">50</text>
<line x1="135.1" y1="129.2" x2="137.1" y2="129.2" stroke="#000" stroke-width="0.81"/>
<text x="134.7" y="130.6" font-size="3.9" font-weight="bold" text-anchor="end" fill="#222">40</text>
<line x1="135.1" y1="140.1" x2="137.1" y2="140.1" stroke="#000" stroke-width="0.81"/>
<text x="134.7" y="141.5" font-size="3.9" font-weight="bold" text-anchor="end" fill="#222">30</text>
<line x1="135.1" y1="151.1" x2="137.1" y2="151.1" stroke="#000" stroke-width="0.81"/>
<text x="134.7" y="152.5" font-size="3.9" font-weight="bold" text-anchor="end" fill="#222">20</text>
<line x1="135.1" y1="162.1" x2="137.1" y2="162.1" stroke="#000" stroke-width="0.81"/>
<text x="134.7" y="163.5" font-size="3.9" font-weight="bold" text-anchor="end" fill="#222">10</text>
<line x1="135.1" y1="173.1" x2="137.1" y2="173.1" stroke="#000" stroke-width="0.81"/>
<text x="134.7" y="174.5" font-size="3.9" font-weight="bold" text-anchor="end" fill="#222">0</text>
<line x1="147.65" y1="126" x2="147.65" y2="125.3" stroke="#000" stroke-width="0.81"/>
<line x1="143.93" y1="125.3" x2="151.37" y2="125.3" stroke="#000" stroke-width="0.81"/>
<rect x="140.95" y="126.45" width="13.4" height="46.65" fill="#fff" stroke="#000" stroke-width="0.9"/>
<line x1="147.65" y1="173.1" x2="147.65" y2="174.6" stroke="#000" stroke-width="0.72"/>
<line x1="167.85" y1="125.1" x2="167.85" y2="124.3" stroke="#000" stroke-width="0.81"/>
<line x1="164.03" y1="124.3" x2="171.67" y2="124.3" stroke="#000" stroke-width="0.81"/>
<rect x="160.95" y="125.55" width="13.8" height="47.55" fill="#000" stroke="#000" stroke-width="0.9"/>
<line x1="167.85" y1="173.1" x2="167.85" y2="174.6" stroke="#000" stroke-width="0.72"/>
<text x="124.1" y="145" font-size="4.6" font-weight="bold" text-anchor="middle" fill="#111" transform="rotate(-90 124.1 145)" dominant-baseline="central">BM CD11b<tspan font-size="3" dy="-1.5">+</tspan><tspan dy="1.5">GFP<tspan font-size="3" dy="-1.5">+</tspan><tspan dy="1.5"> (x10<tspan font-size="3" dy="-1.8">-4</tspan><tspan dy="1.8">)</tspan></text>
<line x1="207.5" y1="118.6" x2="207.5" y2="173.6" stroke="#000" stroke-width="0.9"/>
<line x1="207" y1="173.1" x2="247" y2="173.1" stroke="#000" stroke-width="0.9"/>
<line x1="205.5" y1="118.6" x2="207.5" y2="118.6" stroke="#000" stroke-width="0.81"/>
<text x="205.1" y="120" font-size="3.9" font-weight="bold" text-anchor="end" fill="#222">0.25</text>
<line x1="205.5" y1="129.5" x2="207.5" y2="129.5" stroke="#000" stroke-width="0.81"/>
<text x="205.1" y="130.9" font-size="3.9" font-weight="bold" text-anchor="end" fill="#222">0.20</text>
<line x1="205.5" y1="140.4" x2="207.5" y2="140.4" stroke="#000" stroke-width="0.81"/>
<text x="205.1" y="141.8" font-size="3.9" font-weight="bold" text-anchor="end" fill="#222">0.15</text>
<line x1="205.5" y1="151.3" x2="207.5" y2="151.3" stroke="#000" stroke-width="0.81"/>
<text x="205.1" y="152.7" font-size="3.9" font-weight="bold" text-anchor="end" fill="#222">0.10</text>
<line x1="205.5" y1="162.2" x2="207.5" y2="162.2" stroke="#000" stroke-width="0.81"/>
<text x="205.1" y="163.6" font-size="3.9" font-weight="bold" text-anchor="end" fill="#222">0.05</text>
<line x1="205.5" y1="173.1" x2="207.5" y2="173.1" stroke="#000" stroke-width="0.81"/>
<text x="205.1" y="174.5" font-size="3.9" font-weight="bold" text-anchor="end" fill="#222">0.00</text>
<line x1="217.65" y1="134.4" x2="217.65" y2="129.4" stroke="#000" stroke-width="0.81"/>
<line x1="214.04" y1="129.4" x2="221.26" y2="129.4" stroke="#000" stroke-width="0.81"/>
<rect x="211.15" y="134.85" width="13" height="38.25" fill="#fff" stroke="#000" stroke-width="0.9"/>
<line x1="217.65" y1="173.1" x2="217.65" y2="174.6" stroke="#000" stroke-width="0.72"/>
<line x1="238.1" y1="140.9" x2="238.1" y2="138.3" stroke="#000" stroke-width="0.81"/>
<line x1="234.46" y1="138.3" x2="241.74" y2="138.3" stroke="#000" stroke-width="0.81"/>
<rect x="231.55" y="141.35" width="13.1" height="31.75" fill="#000" stroke="#000" stroke-width="0.9"/>
<line x1="238.1" y1="173.1" x2="238.1" y2="174.6" stroke="#000" stroke-width="0.72"/>
<text x="188.4" y="145" font-size="4.6" font-weight="bold" text-anchor="middle" fill="#111" transform="rotate(-90 188.4 145)" dominant-baseline="central">BM cDC (x10<tspan font-size="3" dy="-1.8">-6</tspan><tspan dy="1.8">)</tspan></text>
<line x1="273.8" y1="118.2" x2="273.8" y2="173.6" stroke="#000" stroke-width="0.9"/>
<line x1="273.3" y1="173.1" x2="313" y2="173.1" stroke="#000" stroke-width="0.9"/>
<line x1="271.8" y1="118.2" x2="273.8" y2="118.2" stroke="#000" stroke-width="0.81"/>
<text x="271.4" y="119.6" font-size="3.9" font-weight="bold" text-anchor="end" fill="#222">1.5</text>
<line x1="271.8" y1="136.5" x2="273.8" y2="136.5" stroke="#000" stroke-width="0.81"/>
<text x="271.4" y="137.9" font-size="3.9" font-weight="bold" text-anchor="end" fill="#222">1.0</text>
<line x1="271.8" y1="154.8" x2="273.8" y2="154.8" stroke="#000" stroke-width="0.81"/>
<text x="271.4" y="156.2" font-size="3.9" font-weight="bold" text-anchor="end" fill="#222">0.5</text>
<line x1="271.8" y1="173.1" x2="273.8" y2="173.1" stroke="#000" stroke-width="0.81"/>
<text x="271.4" y="174.5" font-size="3.9" font-weight="bold" text-anchor="end" fill="#222">0.0</text>
<line x1="283.95" y1="132.2" x2="283.95" y2="127.5" stroke="#000" stroke-width="0.81"/>
<line x1="280.34" y1="127.5" x2="287.56" y2="127.5" stroke="#000" stroke-width="0.81"/>
<rect x="277.45" y="132.65" width="13" height="40.45" fill="#fff" stroke="#000" stroke-width="0.9"/>
<line x1="283.95" y1="173.1" x2="283.95" y2="174.6" stroke="#000" stroke-width="0.72"/>
<line x1="304.7" y1="137.2" x2="304.7" y2="134" stroke="#000" stroke-width="0.81"/>
<line x1="301.22" y1="134" x2="308.18" y2="134" stroke="#000" stroke-width="0.81"/>
<rect x="298.45" y="137.65" width="12.5" height="35.45" fill="#000" stroke="#000" stroke-width="0.9"/>
<line x1="304.7" y1="173.1" x2="304.7" y2="174.6" stroke="#000" stroke-width="0.72"/>
<text x="257.4" y="145" font-size="4.6" font-weight="bold" text-anchor="middle" fill="#111" transform="rotate(-90 257.4 145)" dominant-baseline="central">BM pDC (x10<tspan font-size="3" dy="-1.8">-6</tspan><tspan dy="1.8">)</tspan></text>
<line x1="69.9" y1="182.7" x2="69.9" y2="237.8" stroke="#000" stroke-width="0.9"/>
<line x1="69.4" y1="237.3" x2="111" y2="237.3" stroke="#000" stroke-width="0.9"/>
<line x1="67.9" y1="182.7" x2="69.9" y2="182.7" stroke="#000" stroke-width="0.81"/>
<text x="67.5" y="184.1" font-size="3.9" font-weight="bold" text-anchor="end" fill="#222">1.5</text>
<line x1="67.9" y1="200.9" x2="69.9" y2="200.9" stroke="#000" stroke-width="0.81"/>
<text x="67.5" y="202.3" font-size="3.9" font-weight="bold" text-anchor="end" fill="#222">1.0</text>
<line x1="67.9" y1="219.1" x2="69.9" y2="219.1" stroke="#000" stroke-width="0.81"/>
<text x="67.5" y="220.5" font-size="3.9" font-weight="bold" text-anchor="end" fill="#222">0.5</text>
<line x1="67.9" y1="237.3" x2="69.9" y2="237.3" stroke="#000" stroke-width="0.81"/>
<text x="67.5" y="238.7" font-size="3.9" font-weight="bold" text-anchor="end" fill="#222">0.0</text>
<line x1="80.6" y1="199.2" x2="80.6" y2="193.2" stroke="#000" stroke-width="0.81"/>
<line x1="76.91" y1="193.2" x2="84.29" y2="193.2" stroke="#000" stroke-width="0.81"/>
<rect x="73.95" y="199.65" width="13.3" height="37.65" fill="#fff" stroke="#000" stroke-width="0.9"/>
<line x1="80.6" y1="237.3" x2="80.6" y2="238.8" stroke="#000" stroke-width="0.72"/>
<line x1="101" y1="213.9" x2="101" y2="209.6" stroke="#000" stroke-width="0.81"/>
<line x1="97.41" y1="209.6" x2="104.59" y2="209.6" stroke="#000" stroke-width="0.81"/>
<rect x="94.55" y="214.35" width="12.9" height="22.95" fill="#000" stroke="#000" stroke-width="0.9"/>
<line x1="101" y1="237.3" x2="101" y2="238.8" stroke="#000" stroke-width="0.72"/>
<text x="55.7" y="211" font-size="4.6" font-weight="bold" text-anchor="middle" fill="#111" transform="rotate(-90 55.7 211)" dominant-baseline="central">blood Ly6G<tspan font-size="3" dy="-1.5">+</tspan><tspan dy="1.5">GFP<tspan font-size="3" dy="-1.5">+</tspan><tspan dy="1.5"> (x10<tspan font-size="3" dy="-1.8">-4</tspan><tspan dy="1.8">)</tspan></text>
<line x1="135" y1="187" x2="135" y2="236.8" stroke="#000" stroke-width="0.9"/>
<line x1="134.5" y1="236.3" x2="171" y2="236.3" stroke="#000" stroke-width="0.9"/>
<line x1="133" y1="187" x2="135" y2="187" stroke="#000" stroke-width="0.81"/>
<text x="132.6" y="188.4" font-size="3.9" font-weight="bold" text-anchor="end" fill="#222">1.5</text>
<line x1="133" y1="203.4" x2="135" y2="203.4" stroke="#000" stroke-width="0.81"/>
<text x="132.6" y="204.8" font-size="3.9" font-weight="bold" text-anchor="end" fill="#222">1.0</text>
<line x1="133" y1="219.9" x2="135" y2="219.9" stroke="#000" stroke-width="0.81"/>
<text x="132.6" y="221.3" font-size="3.9" font-weight="bold" text-anchor="end" fill="#222">0.5</text>
<line x1="133" y1="236.3" x2="135" y2="236.3" stroke="#000" stroke-width="0.81"/>
<text x="132.6" y="237.7" font-size="3.9" font-weight="bold" text-anchor="end" fill="#222">0.0</text>
<line x1="144" y1="200" x2="144" y2="195" stroke="#000" stroke-width="0.81"/>
<line x1="140.62" y1="195" x2="147.38" y2="195" stroke="#000" stroke-width="0.81"/>
<rect x="137.95" y="200.45" width="12.1" height="35.85" fill="#fff" stroke="#000" stroke-width="0.9"/>
<line x1="144" y1="236.3" x2="144" y2="237.8" stroke="#000" stroke-width="0.72"/>
<line x1="162.9" y1="212.5" x2="162.9" y2="208.3" stroke="#000" stroke-width="0.81"/>
<line x1="159.57" y1="208.3" x2="166.23" y2="208.3" stroke="#000" stroke-width="0.81"/>
<rect x="156.95" y="212.95" width="11.9" height="23.35" fill="#000" stroke="#000" stroke-width="0.9"/>
<line x1="162.9" y1="236.3" x2="162.9" y2="237.8" stroke="#000" stroke-width="0.72"/>
<text x="120.9" y="211" font-size="4.6" font-weight="bold" text-anchor="middle" fill="#111" transform="rotate(-90 120.9 211)" dominant-baseline="central">blood CD11b<tspan font-size="3" dy="-1.5">+</tspan><tspan dy="1.5">GFP<tspan font-size="3" dy="-1.5">+</tspan><tspan dy="1.5"> (x10<tspan font-size="3" dy="-1.8">-4</tspan><tspan dy="1.8">)</tspan></text>
<rect x="180.8" y="194.8" width="41.8" height="21.5" fill="none" stroke="#333" stroke-width="0.8"/>
<rect x="183.8" y="198.7" width="5.4" height="4.6" fill="#fff" stroke="#222" stroke-width="0.8"/>
<rect x="183.8" y="208.5" width="5.4" height="4.4" fill="#000" stroke="#000" stroke-width="0.8"/>
<text x="192.5" y="203.9" font-size="7" fill="#000">Control</text>
<text x="192.5" y="214" font-size="7" fill="#000">M279</text>
<line x1="69.5" y1="252.5" x2="69.5" y2="308" stroke="#000" stroke-width="0.9"/>
<line x1="69" y1="307.5" x2="108.75" y2="307.5" stroke="#000" stroke-width="0.9"/>
<line x1="67.5" y1="252.7" x2="69.5" y2="252.7" stroke="#000" stroke-width="0.81"/>
<text x="67.1" y="254.1" font-size="3.9" font-weight="bold" text-anchor="end" fill="#222">20</text>
<line x1="67.5" y1="266.4" x2="69.5" y2="266.4" stroke="#000" stroke-width="0.81"/>
<text x="67.1" y="267.8" font-size="3.9" font-weight="bold" text-anchor="end" fill="#222">15</text>
<line x1="67.5" y1="280.1" x2="69.5" y2="280.1" stroke="#000" stroke-width="0.81"/>
<text x="67.1" y="281.5" font-size="3.9" font-weight="bold" text-anchor="end" fill="#222">10</text>
<line x1="67.5" y1="293.8" x2="69.5" y2="293.8" stroke="#000" stroke-width="0.81"/>
<text x="67.1" y="295.2" font-size="3.9" font-weight="bold" text-anchor="end" fill="#222">5</text>
<line x1="67.5" y1="307.5" x2="69.5" y2="307.5" stroke="#000" stroke-width="0.81"/>
<text x="67.1" y="308.9" font-size="3.9" font-weight="bold" text-anchor="end" fill="#222">0</text>
<line x1="79.38" y1="272" x2="79.38" y2="266.3" stroke="#000" stroke-width="0.81"/>
<line x1="75.8" y1="266.3" x2="82.95" y2="266.3" stroke="#000" stroke-width="0.81"/>
<rect x="72.95" y="272.45" width="12.85" height="35.05" fill="#fff" stroke="#000" stroke-width="0.9"/>
<line x1="79.38" y1="307.5" x2="79.38" y2="309" stroke="#000" stroke-width="0.72"/>
<line x1="100" y1="269.5" x2="100" y2="265.5" stroke="#000" stroke-width="0.81"/>
<line x1="96.36" y1="265.5" x2="103.64" y2="265.5" stroke="#000" stroke-width="0.81"/>
<rect x="93.45" y="269.95" width="13.1" height="37.55" fill="#000" stroke="#000" stroke-width="0.9"/>
<line x1="100" y1="307.5" x2="100" y2="309" stroke="#000" stroke-width="0.72"/>
<text x="57.1" y="280" font-size="4.6" font-weight="bold" text-anchor="middle" fill="#111" transform="rotate(-90 57.1 280)" dominant-baseline="central">spleen Ly6G<tspan font-size="3" dy="-1.5">+</tspan><tspan dy="1.5">GFP<tspan font-size="3" dy="-1.5">+</tspan><tspan dy="1.5"> (x10<tspan font-size="3" dy="-1.8">-4</tspan><tspan dy="1.8">)</tspan></text>
<line x1="137.5" y1="251.25" x2="137.5" y2="306.75" stroke="#000" stroke-width="0.9"/>
<line x1="137" y1="306.25" x2="177.5" y2="306.25" stroke="#000" stroke-width="0.9"/>
<line x1="135.5" y1="251.25" x2="137.5" y2="251.25" stroke="#000" stroke-width="0.81"/>
<text x="135.1" y="252.65" font-size="3.9" font-weight="bold" text-anchor="end" fill="#222">40</text>
<line x1="135.5" y1="265" x2="137.5" y2="265" stroke="#000" stroke-width="0.81"/>
<text x="135.1" y="266.4" font-size="3.9" font-weight="bold" text-anchor="end" fill="#222">30</text>
<line x1="135.5" y1="278.75" x2="137.5" y2="278.75" stroke="#000" stroke-width="0.81"/>
<text x="135.1" y="280.15" font-size="3.9" font-weight="bold" text-anchor="end" fill="#222">20</text>
<line x1="135.5" y1="292.5" x2="137.5" y2="292.5" stroke="#000" stroke-width="0.81"/>
<text x="135.1" y="293.9" font-size="3.9" font-weight="bold" text-anchor="end" fill="#222">10</text>
<line x1="135.5" y1="306.25" x2="137.5" y2="306.25" stroke="#000" stroke-width="0.81"/>
<text x="135.1" y="307.65" font-size="3.9" font-weight="bold" text-anchor="end" fill="#222">0</text>
<line x1="147.88" y1="264.5" x2="147.88" y2="256.25" stroke="#000" stroke-width="0.81"/>
<line x1="144.43" y1="256.25" x2="151.32" y2="256.25" stroke="#000" stroke-width="0.81"/>
<rect x="141.7" y="264.95" width="12.35" height="41.3" fill="#fff" stroke="#000" stroke-width="0.9"/>
<line x1="147.88" y1="306.25" x2="147.88" y2="307.75" stroke="#000" stroke-width="0.72"/>
<line x1="168.12" y1="261.75" x2="168.12" y2="259" stroke="#000" stroke-width="0.81"/>
<line x1="164.55" y1="259" x2="171.7" y2="259" stroke="#000" stroke-width="0.81"/>
<rect x="161.7" y="262.2" width="12.85" height="44.05" fill="#000" stroke="#000" stroke-width="0.9"/>
<line x1="168.12" y1="306.25" x2="168.12" y2="307.75" stroke="#000" stroke-width="0.72"/>
<text x="125.5" y="279" font-size="4.6" font-weight="bold" text-anchor="middle" fill="#111" transform="rotate(-90 125.5 279)" dominant-baseline="central">spleen CD11b<tspan font-size="3" dy="-1.5">+</tspan><tspan dy="1.5">GFP<tspan font-size="3" dy="-1.5">+</tspan><tspan dy="1.5"> (x10<tspan font-size="3" dy="-1.8">-4</tspan><tspan dy="1.8">)</tspan></text>
<line x1="204.5" y1="251.25" x2="204.5" y2="306.75" stroke="#000" stroke-width="0.9"/>
<line x1="204" y1="306.25" x2="243" y2="306.25" stroke="#000" stroke-width="0.9"/>
<line x1="202.5" y1="251.25" x2="204.5" y2="251.25" stroke="#000" stroke-width="0.81"/>
<text x="202.1" y="252.65" font-size="3.9" font-weight="bold" text-anchor="end" fill="#222">4</text>
<line x1="202.5" y1="265" x2="204.5" y2="265" stroke="#000" stroke-width="0.81"/>
<text x="202.1" y="266.4" font-size="3.9" font-weight="bold" text-anchor="end" fill="#222">3</text>
<line x1="202.5" y1="278.75" x2="204.5" y2="278.75" stroke="#000" stroke-width="0.81"/>
<text x="202.1" y="280.15" font-size="3.9" font-weight="bold" text-anchor="end" fill="#222">2</text>
<line x1="202.5" y1="292.5" x2="204.5" y2="292.5" stroke="#000" stroke-width="0.81"/>
<text x="202.1" y="293.9" font-size="3.9" font-weight="bold" text-anchor="end" fill="#222">1</text>
<line x1="202.5" y1="306.25" x2="204.5" y2="306.25" stroke="#000" stroke-width="0.81"/>
<text x="202.1" y="307.65" font-size="3.9" font-weight="bold" text-anchor="end" fill="#222">0</text>
<line x1="213.75" y1="275" x2="213.75" y2="269.5" stroke="#000" stroke-width="0.81"/>
<line x1="210.24" y1="269.5" x2="217.26" y2="269.5" stroke="#000" stroke-width="0.81"/>
<rect x="207.45" y="275.45" width="12.6" height="30.8" fill="#fff" stroke="#000" stroke-width="0.9"/>
<line x1="213.75" y1="306.25" x2="213.75" y2="307.75" stroke="#000" stroke-width="0.72"/>
<line x1="234.12" y1="265.5" x2="234.12" y2="263.25" stroke="#000" stroke-width="0.81"/>
<line x1="230.68" y1="263.25" x2="237.57" y2="263.25" stroke="#000" stroke-width="0.81"/>
<rect x="227.95" y="265.95" width="12.35" height="40.3" fill="#000" stroke="#000" stroke-width="0.9"/>
<line x1="234.12" y1="306.25" x2="234.12" y2="307.75" stroke="#000" stroke-width="0.72"/>
<text x="195.5" y="279" font-size="4.6" font-weight="bold" text-anchor="middle" fill="#111" transform="rotate(-90 195.5 279)" dominant-baseline="central">spleen cDC (x10<tspan font-size="3" dy="-1.8">-5</tspan><tspan dy="1.8">)</tspan></text>
<line x1="276" y1="251.8" x2="276" y2="307.3" stroke="#000" stroke-width="0.9"/>
<line x1="275.5" y1="306.8" x2="316.6" y2="306.8" stroke="#000" stroke-width="0.9"/>
<line x1="274" y1="251.8" x2="276" y2="251.8" stroke="#000" stroke-width="0.81"/>
<text x="273.6" y="253.2" font-size="3.9" font-weight="bold" text-anchor="end" fill="#222">1.5</text>
<line x1="274" y1="270.1" x2="276" y2="270.1" stroke="#000" stroke-width="0.81"/>
<text x="273.6" y="271.5" font-size="3.9" font-weight="bold" text-anchor="end" fill="#222">1.0</text>
<line x1="274" y1="288.5" x2="276" y2="288.5" stroke="#000" stroke-width="0.81"/>
<text x="273.6" y="289.9" font-size="3.9" font-weight="bold" text-anchor="end" fill="#222">0.5</text>
<line x1="274" y1="306.8" x2="276" y2="306.8" stroke="#000" stroke-width="0.81"/>
<text x="273.6" y="308.2" font-size="3.9" font-weight="bold" text-anchor="end" fill="#222">0.0</text>
<line x1="286.35" y1="275.5" x2="286.35" y2="265.4" stroke="#000" stroke-width="0.81"/>
<line x1="282.74" y1="265.4" x2="289.96" y2="265.4" stroke="#000" stroke-width="0.81"/>
<rect x="279.85" y="275.95" width="13" height="30.85" fill="#fff" stroke="#000" stroke-width="0.9"/>
<line x1="286.35" y1="306.8" x2="286.35" y2="308.3" stroke="#000" stroke-width="0.72"/>
<line x1="307.1" y1="281.9" x2="307.1" y2="278.9" stroke="#000" stroke-width="0.81"/>
<line x1="303.51" y1="278.9" x2="310.69" y2="278.9" stroke="#000" stroke-width="0.81"/>
<rect x="300.65" y="282.35" width="12.9" height="24.45" fill="#000" stroke="#000" stroke-width="0.9"/>
<line x1="307.1" y1="306.8" x2="307.1" y2="308.3" stroke="#000" stroke-width="0.72"/>
<text x="261.25" y="279" font-size="4.6" font-weight="bold" text-anchor="middle" fill="#111" transform="rotate(-90 261.25 279)" dominant-baseline="central">spleen pDC (x10<tspan font-size="3" dy="-1.8">-5</tspan><tspan dy="1.8">)</tspan></text>
<text x="10.6" y="327.7" font-size="18" font-weight="bold" fill="#000">D</text>
<text x="104" y="331" font-size="11" text-anchor="middle" fill="#000">Rat IgG</text>
<text x="191.8" y="330.6" font-size="11" text-anchor="middle" fill="#000">M279</text>
<text x="53.4" y="355" font-size="13" text-anchor="middle" fill="#000" transform="rotate(-90 53.4 355)">F4/80</text>
<text x="52.7" y="412.7" font-size="12.8" text-anchor="middle" fill="#000" transform="rotate(-90 52.7 412.7)">GR-1</text>
<text x="119.7" y="391.7" font-size="11.1" fill="#000">Csf1r - EGFP</text>
<text x="119.5" y="450.8" font-size="11.1" fill="#000">Csf1r - EGFP</text>
<path d="M65.3 354.3h.8M78.8 344h.8M78.8 361.6h.8M89.5 345.9h.8M67.1 369.9h.8M85.7 368.2h.8M88.7 371.2h.8M98.1 365.4h.8M66.5 366.6h.8M66.3 364.3h.8M102.9 357h.8M84.9 352.3h.8M91.5 357.5h.8M117 342.1h.8M83.9 349.7h.8M67.6 368.7h.8M101 370.2h.8M99.3 342.6h.8M96.9 357.7h.8M105.9 337.9h.8M71.6 366.7h.8M109.2 367.9h.8M77.4 362.5h.8M101.4 343.2h.8M96.3 368.2h.8M88.1 346.5h.8M91.9 360h.8M93.2 360.8h.8M107.6 351.7h.8M79.5 361.6h.8M89.7 365h.8M89.7 350.1h.8M112.5 342.4h.8M86.4 367.5h.8M106.4 338h.8M102.9 349.5h.8M87.2 347h.8M91.6 356.3h.8M66.5 367.6h.8M79.7 358h.8M83.5 364.1h.8M86.1 362.4h.8M85.6 355h.8M104.3 369.5h.8M84.4 364h.8M80.8 370.1h.8M96.9 338h.8M76 368.9h.8M70.5 367h.8M94.5 343.9h.8M75.7 356.7h.8M74.6 360.7h.8M82.2 358h.8M97.1 349.4h.8M89.2 344.4h.8M84.3 359.3h.8M81.7 359.7h.8M90.9 367.1h.8M72 360.6h.8M83.5 361h.8M119.2 339.6h.8M73.4 347.1h.8M73.4 346.9h.8M92.3 344.6h.8M69.1 367.3h.8M89.9 361.9h.8M91.1 350.8h.8M105.6 369.5h.8M85.7 358.4h.8M115.7 350.8h.8M90.8 360.6h.8M98.1 369.6h.8M94.6 361.9h.8M72.7 363.6h.8M86.8 363.2h.8M87.2 361.8h.8M67.9 365.3h.8M95.5 370h.8M68.5 362.7h.8M72.2 362h.8M69.1 364.9h.8M72 355.6h.8M68.8 359.2h.8M96.3 352.7h.8M90 347.7h.8M82.5 358.8h.8M69.1 368.1h.8M99.1 348.7h.8M85.2 369h.8M78.4 347.8h.8M100 341.9h.8M103.4 370.6h.8M77.3 361.3h.8M69.1 359.3h.8M104.4 352.8h.8M100.7 369.7h.8M67.7 360.8h.8M68.3 352.3h.8M84.1 357.3h.8M94.9 371h.8M91.3 362.5h.8M91.8 354.6h.8M93 358.9h.8M90.1 366.8h.8M109.1 338.7h.8M65.7 360.3h.8M93.7 364.9h.8M79 347.4h.8M105.9 369h.8M74.3 363.3h.8M92.3 360.2h.8M90.3 335.3h.8M91.7 371.2h.8M80.2 358.4h.8M83.8 362.6h.8M85.6 361.5h.8M64.2 355h.8M105.2 356.2h.8M89.3 355.6h.8M65.3 362.8h.8M77.3 370.9h.8M83.1 361.6h.8M107.7 345.7h.8M93.3 345h.8M66.4 352.6h.8M93.1 369.3h.8M85.2 359.4h.8M89.1 358.3h.8M92.5 358.3h.8M71 356.2h.8M71.8 369.4h.8M119.5 354.2h.8M66.3 360.4h.8M92.5 369.4h.8M68 360.5h.8M85.8 355.2h.8M109.7 344.6h.8M80 342.7h.8M86.5 362.6h.8M75.1 362.4h.8M119.7 343.4h.8M106.8 343.8h.8M112.1 349.1h.8M76.9 367.2h.8M85.2 356.4h.8M103.4 341.7h.8M113.9 339h.8M83.3 363.3h.8M100.9 369.4h.8M77.9 353.4h.8M86.4 359.2h.8M91.3 356.1h.8M96 356.6h.8M64.7 362.4h.8M116.2 338.6h.8M71.4 361.4h.8M94.2 365h.8M97.5 354.7h.8M90.6 358.8h.8M78 369.5h.8M92.3 361.6h.8M112.7 343.6h.8M80.1 362.3h.8M87 364.9h.8M65.2 351.5h.8M84.7 357.8h.8M90.2 359.6h.8M67.9 362.6h.8M72.1 368.4h.8M88.2 360.5h.8M86.6 357.8h.8M110.7 343.9h.8M105.4 364.4h.8M74.7 351h.8M73.2 357.6h.8M80.3 361.8h.8M95.7 361.3h.8M77.6 365.8h.8M113.2 343.5h.8M97.1 356.1h.8M95.5 370.9h.8M118.6 343.1h.8M72.2 367.7h.8M97.3 341h.8M87 362.6h.8M111.3 352h.8M80.2 357.6h.8M100.2 364h.8M91.5 364h.8M65.5 354h.8M100.8 343.1h.8M76.4 367.9h.8M66.8 367.2h.8M109.7 350.2h.8M106.3 370.2h.8M113.5 339.3h.8M100.3 370.2h.8M80.5 369.2h.8M80.4 366.2h.8M82.3 363.2h.8M107.6 369.2h.8M70 348.4h.8M86.6 361.3h.8M73.6 368.1h.8M86.6 349h.8M67.4 370.7h.8M111.2 348.1h.8M95.9 368.1h.8M77 361.8h.8M97.3 370.8h.8M104.7 349.8h.8M92.4 350.1h.8M67.2 365h.8M84.7 363.8h.8M80.1 359.4h.8M83 363.2h.8M98.5 353.3h.8M91.6 358h.8M113.4 336.1h.8M67.6 370h.8M90.5 370h.8M96.2 354.4h.8M91.3 343.5h.8M106 357.8h.8M112.7 338h.8M78.9 363.4h.8M77.8 360.3h.8M99.5 352.2h.8M98 351.5h.8M84.4 346.3h.8M100.4 370.4h.8M118.8 344.1h.8M101.5 344.8h.8M70.7 367.2h.8M77.5 360.4h.8M66.1 359.3h.8M80.9 355.2h.8M83.8 370.6h.8M69.7 362.4h.8M105.8 346.9h.8M80.1 347.9h.8M69 364.5h.8M83.1 365.5h.8M88.7 353.8h.8M95.3 367.1h.8M73.9 370.8h.8M77.9 367.9h.8M70.5 364.6h.8M70.8 365.7h.8M71 358.2h.8M71.9 365.7h.8M80.5 363h.8M101.8 347.9h.8M83.8 365.1h.8M67 367.9h.8M83.6 357.1h.8M99.7 365.4h.8M95.9 356.2h.8M85.9 365.5h.8M94.7 355h.8M102.8 359.4h.8M94.6 358.9h.8M89.9 345.9h.8M92.4 345.3h.8M87.5 353.3h.8M90.9 368.2h.8M77.9 355h.8M67.5 361.8h.8M82 368.2h.8M72.1 359.4h.8M85.5 346.5h.8M82.7 354.4h.8M82.3 357.8h.8M85.3 369.5h.8M72.1 366h.8M90.9 346h.8M92.2 360.2h.8M99.8 353.3h.8M91 369h.8M75.4 356.2h.8M95.6 353.8h.8M66.9 352.7h.8M97 352.5h.8M80.1 364.7h.8M86.5 365.7h.8M74.3 355.2h.8M79.2 360.5h.8M90.4 348.1h.8M65.4 364.5h.8M77.1 365.8h.8M101.2 353.7h.8M110.9 360.6h.8M93.9 350.7h.8M70.3 368.6h.8M96.9 367.3h.8M75.7 361.6h.8M92.2 363h.8M73.8 363.4h.8M80.2 361.5h.8M68 348.7h.8M113.9 364.7h.8M90 368.5h.8M94 362.8h.8M75.1 350.6h.8M100.1 365.5h.8M83 370h.8M68.1 362.8h.8M71.3 351.2h.8M94.3 364.4h.8M72.5 352.1h.8M79 351.5h.8M96.9 352.6h.8M79.7 353.3h.8M102.3 362.1h.8M84.7 358.5h.8M96.6 365.6h.8M84.1 362.5h.8M92.9 350.9h.8M89.6 364.9h.8M80.3 366h.8M94.3 360.3h.8M65 360.7h.8M94 370.1h.8M91.7 353.4h.8M92.5 359h.8M105.8 369.3h.8M101.6 343.2h.8M69 361.8h.8M93.3 359.1h.8M90.7 370.5h.8M87.9 352.7h.8M107 346.5h.8M100.1 365.8h.8M80.5 348.5h.8M100.9 337.9h.8M93.1 359.8h.8M84.8 367.9h.8M74.3 346.5h.8M90 363.4h.8M70.7 362.3h.8M113.5 354h.8M74.1 370.3h.8M79.4 360.8h.8M65.1 368.2h.8M72.7 367.7h.8M100.1 370.7h.8M70.7 369.5h.8M94.4 353.2h.8M72.7 364.8h.8M81.1 354.2h.8M92.7 348.3h.8M79.7 365.6h.8M104.8 370.5h.8M82 369.9h.8M86.6 370.5h.8M110.4 351.5h.8M91 345.9h.8M79.3 357h.8M66.9 369.6h.8M109.6 353.9h.8M76.5 362.9h.8M102.6 365.1h.8M96.2 369.3h.8M96.1 367h.8M78.9 353.9h.8M101.5 356h.8M88.5 370.7h.8M73.1 359.5h.8M101.9 347.7h.8M80 364h.8M69.2 360h.8M96.1 361.9h.8M77.6 369.4h.8M85.2 355.5h.8M99 359.2h.8M75 363.6h.8M98.3 347.9h.8M97.5 359.2h.8M80.6 368.9h.8M90.7 366.3h.8M86.7 368.1h.8M94 368.5h.8M88.5 357.9h.8M75.4 353.4h.8M105.2 369.4h.8M103.7 350.9h.8M91.2 354.6h.8M88.9 352.3h.8M85.6 366.4h.8M80.9 346.5h.8M92.3 366.8h.8M104.5 368h.8M99.1 370.4h.8M100.6 370.4h.8M67.9 365.3h.8M77.5 361h.8M98.2 359.4h.8M71.6 371h.8M80.8 365.2h.8M72.9 364.1h.8M105.2 356.7h.8M103.8 353.7h.8M75.8 367h.8M114.1 340.5h.8M102.2 370.9h.8M65.8 364.5h.8M110.1 362.4h.8M112.3 340.1h.8M90 360.9h.8M100.4 346.8h.8M97.4 362.1h.8M66.4 365.5h.8M94.6 339.5h.8M93.4 357.4h.8M78.9 356.3h.8M90.2 369.9h.8M77.6 361.4h.8M78.1 350.7h.8M94.9 369.3h.8M91.2 349.1h.8M94.6 361h.8M92 357.8h.8M87.6 359.4h.8M64.2 356.6h.8M88.1 360.6h.8M71.7 354.3h.8M108.7 348.8h.8M74.7 369.4h.8M82.9 357.1h.8M89 347.3h.8M97.9 359.7h.8M81 370.3h.8M104.8 364.9h.8M116.1 349.1h.8M90.5 367.1h.8M102 343.9h.8M76.1 365.9h.8M81.2 356.6h.8M121.8 345.1h.8M83.5 367.2h.8M67.9 359.2h.8M93.2 367.2h.8M91.8 359.5h.8M67.5 366.3h.8M80.2 360h.8M104.3 350.3h.8M90.5 361.9h.8M103.1 370.4h.8M112.3 335.6h.8M81.9 345.3h.8M97.5 361.9h.8M107.2 342.7h.8M100.5 369.2h.8M97.9 342h.8M67.5 347h.8M66.5 359.7h.8M116 341.6h.8M94.4 365.9h.8M118.5 341.8h.8M84 357.7h.8M99.5 359.9h.8M83.4 361.4h.8M71.6 366.8h.8M111.2 342.6h.8M104.5 369.5h.8M93.8 370.9h.8M81.5 348.4h.8M104.1 338h.8M74 360.6h.8M67.4 369.3h.8M99.9 366.8h.8M91.9 362.1h.8M101.3 362h.8M66.2 351.5h.8M68 367.4h.8M82 366.2h.8M80.1 369.9h.8M76.2 353.7h.8M103.8 347.5h.8M69.9 360.5h.8M95.3 341.4h.8M69.2 366.2h.8M73.1 371h.8M105.6 346.9h.8M69.3 371.2h.8M70.4 366.3h.8M78.8 352h.8M86.2 364.2h.8M70.1 367.5h.8M113.8 345.1h.8M76.5 367.6h.8M105.6 337.6h.8M108.7 344.5h.8M76.8 337.4h.8M101.7 369.9h.8M90.5 350h.8M104.7 341h.8M85.5 357.5h.8M100.7 342.2h.8M103.8 365.1h.8M91.2 363.3h.8M85.3 363.3h.8M82.7 370.6h.8M79.7 357.9h.8M70.7 362.3h.8M99 342.8h.8M89.1 359.5h.8M80.9 355.2h.8M113.3 336.4h.8M95.9 349.2h.8M91.8 350.5h.8M101.2 337h.8M78.9 365.9h.8M79.5 362.5h.8M102.3 366.2h.8M87.2 369.9h.8M101.4 368.8h.8M83.2 366.2h.8M81.6 362.7h.8M64.8 358.6h.8M91.9 348.5h.8M89.5 358.7h.8M69.6 365.2h.8M92 361.3h.8M97.3 360.3h.8M70.2 354.1h.8M90.7 355.6h.8M84.7 364.4h.8M74.9 356.7h.8M84.3 352.3h.8M90.8 367.6h.8M96.5 350.5h.8M73.7 357.7h.8M78.6 361.6h.8M100.8 349.9h.8M66.5 357.5h.8M69.5 363.7h.8M81.3 370.2h.8M71.7 365.7h.8M93.1 343.5h.8M93.6 354.9h.8M100.8 369.2h.8M85.9 365.6h.8M81.5 360.5h.8M66.7 359.7h.8M86 370.8h.8M99 357.9h.8M72.2 366.3h.8M99.3 340.7h.8M92.6 357.9h.8M93.1 364.1h.8M70.5 358.2h.8M118.3 342.8h.8M95.5 360.7h.8M72.9 357.2h.8M89.8 358.6h.8M72.9 363.4h.8M97.3 365.7h.8M80.3 354.4h.8M94 367.5h.8M68.6 357.4h.8M80.3 354h.8M81.9 360.6h.8M102.3 338.9h.8M69 368.3h.8M80.2 352.1h.8M96.7 371.2h.8M69.4 365h.8M79.8 363.7h.8M80.8 357h.8M82.6 360.9h.8M111.3 340h.8M82.1 347.3h.8M83.5 356.5h.8M85.6 355.3h.8M82.6 365.6h.8M83.6 363.9h.8M104.7 363.8h.8M99.1 350.4h.8M96.2 344.7h.8M82.4 346.1h.8M69.9 364.4h.8M109.4 342.1h.8M80.3 369.1h.8M85.4 364.2h.8M71.3 359.7h.8M102.8 365.2h.8M83.7 344.4h.8M70.7 358.7h.8M86.8 360.2h.8M106.1 371.1h.8M112.8 342.5h.8M88.6 362.3h.8M68.8 369.9h.8M88.5 367.5h.8M74.7 340.8h.8M69.6 367.5h.8M108.6 344.6h.8M86.8 361.2h.8M82.7 368.3h.8M94.8 364.2h.8M90.4 360.9h.8M119.7 343h.8M74.8 363h.8M66 365.3h.8M95.4 338.7h.8M77.2 358h.8M65.2 360.5h.8M87.6 364.5h.8M80.3 369h.8M67.8 348.7h.8M78.7 367.6h.8M80.9 365.8h.8M97.5 365.1h.8M88.1 361.1h.8M92.3 354.8h.8M88.3 335.8h.8M82.9 363h.8M104.9 350.3h.8M83.3 365.5h.8M97.6 359.2h.8M107.4 340h.8M85.5 364.4h.8M75.1 356.6h.8M81.3 367.8h.8M112 347h.8M86.8 358.5h.8M95.3 369.8h.8M80.4 359.8h.8M78.7 351.7h.8M104.3 358.4h.8M75.4 355.3h.8M76.7 362.9h.8M79.9 366h.8" stroke="#4a4a4a" stroke-width="0.8" stroke-opacity="0.75" filter="url(#bl)"/>
<path d="M64.5 365.3h.9M96.1 363.5h.9M90.9 361.7h.9M74.8 364.8h.9M78.4 361.5h.9M103.4 367.9h.9M98.6 365.7h.9M87.8 361.4h.9M75.4 361.3h.9M101.2 366.1h.9M87.2 364.6h.9M72.8 364h.9M73.2 364.6h.9M98.7 362.9h.9M96.7 363.7h.9M80.6 363.2h.9M64.3 365h.9M95 362.8h.9M66.1 364.9h.9M97 365.6h.9M92.4 364.4h.9M100 366.4h.9M87.6 361.2h.9M68.4 363h.9M87.6 363.7h.9M67.3 364.9h.9M100.6 363.2h.9M66.4 360.2h.9M91 361h.9M103.7 367h.9M73.3 362.9h.9M97.6 366h.9M101.7 364.3h.9M72.5 361.8h.9M99.8 366.6h.9M75.2 362.4h.9M86.2 365h.9M78.8 362.3h.9M64.2 364h.9M95.3 361.5h.9M76.4 359.9h.9M65.4 366.2h.9M64.9 364.7h.9M87.9 365.7h.9M84.6 359.8h.9M76.8 363.3h.9M70.8 364.8h.9M97.3 364.1h.9M66.1 364.1h.9M69.5 363.9h.9M70.6 364h.9M85.3 364.3h.9M100.4 368.3h.9M75.5 361.2h.9M91 362.1h.9M74.9 362.9h.9M101.3 364.3h.9M82.7 363.2h.9M69.5 358.5h.9M80.2 364.4h.9M73.3 358.4h.9M65.6 365h.9M99.5 365.7h.9M88 363.1h.9M79.3 363.5h.9M77.3 363.9h.9M100.7 364h.9M103.9 369.9h.9M73.5 358.6h.9M91.5 363.5h.9M97.6 363.7h.9M70.4 364.2h.9M71 359.2h.9M94.8 364h.9M70.4 364h.9M71.7 362.8h.9M69.4 364h.9M76.5 360.9h.9M72.2 364.4h.9M76.4 363.7h.9M73.6 364.3h.9M77.6 363.3h.9M77.1 364.9h.9M95.5 365.4h.9M84.7 361h.9M100.2 363.8h.9M91.7 363.7h.9M92.7 363h.9M84.2 363.2h.9M89 361.9h.9M80.7 363.2h.9M71.3 362.4h.9M90 361.2h.9M88.1 360.8h.9M78.3 363.6h.9M99.5 364.7h.9M72.8 363h.9M72.6 361.6h.9M86.7 363h.9M81.8 364.8h.9M92.7 360.2h.9M81.3 361.9h.9M68.7 364.9h.9M78.2 363.1h.9M91.6 361.1h.9M104.7 370.7h.9M101.9 362h.9M96.6 362.8h.9M67.5 366.7h.9M102.5 368.3h.9M103.9 362.4h.9M72.1 362.3h.9M95.5 359.7h.9M89.9 362.6h.9M71.6 359.4h.9M79.8 363.1h.9M68.9 366.2h.9M104.1 366.6h.9M74.9 363.6h.9M86.3 363.6h.9M70.1 364.9h.9M86.7 364.1h.9M83.8 358.2h.9M77.9 362.4h.9M96.6 365h.9M85.4 362h.9M100.3 365.4h.9M64.7 363.9h.9M101.7 367.4h.9M85.9 363.8h.9M85 362.9h.9M93.1 364.7h.9M68.9 363.1h.9M77.1 361.4h.9M89.3 364.6h.9M65.4 361.8h.9M100.5 366.1h.9M85.7 363.1h.9M77.9 364.8h.9M104.3 368.1h.9M96 360.9h.9M84.4 362.6h.9M67.2 366.2h.9M83.1 360h.9M97.2 359.1h.9M92.7 361.4h.9M71.2 361.7h.9M77.5 363.7h.9M72 363h.9M73.9 362.2h.9M65.3 365.9h.9M102.4 366.2h.9M85.2 363.2h.9M87.4 358.4h.9M82.9 363.8h.9M96.9 365.7h.9M98.6 366.1h.9M78.4 359.2h.9M80.2 365.2h.9M77 361.4h.9M92.9 363.7h.9M99.4 365.8h.9M88.6 361.6h.9M74.2 362.5h.9M105.6 370.7h.9M83.7 363.2h.9M71.2 363h.9M98.1 365h.9M65.6 364.1h.9M93.4 360.3h.9M69.4 363.9h.9M74.7 365.1h.9M70.2 364.5h.9M85.2 365.2h.9M88.8 358.9h.9M93.4 365.7h.9M92 360.6h.9M72.4 364.1h.9M76.6 361.8h.9M85.4 360.1h.9M98.3 363.6h.9M105.9 370h.9M76.7 359.4h.9M104.1 370.3h.9M67.9 363.6h.9M101.1 366.1h.9M103.1 368.1h.9M94.6 364.2h.9M87.1 363.1h.9M100.8 365.2h.9M85.3 361.5h.9M85.5 365.3h.9M84.5 361.1h.9M84.8 365.2h.9M92.5 361h.9M66.9 365.2h.9M74.7 359.6h.9M81.9 362.2h.9M77.6 364.9h.9M103.9 366.2h.9M88.6 364h.9M73 361.7h.9M69.2 363.3h.9M71.4 362.1h.9M92.1 362.7h.9M93.3 364.7h.9M88.2 363.1h.9M67 363.7h.9M99.9 367.5h.9M85.5 361.6h.9M95.5 364.8h.9M88.6 363.4h.9M75.9 362.2h.9M68.6 362.6h.9M75.6 364.3h.9M67 363.3h.9M77.8 362h.9M99.4 364.8h.9M86.1 363.5h.9M89.9 359.7h.9M66 365.2h.9M81.8 362.9h.9M78.1 364.3h.9M98.5 364.9h.9M94.8 364.1h.9M82.6 362.2h.9M92.2 363.5h.9M64.8 366.1h.9M78.6 363.2h.9M82.5 360.6h.9M64.3 364.6h.9M67.2 365.2h.9M75.1 364.2h.9M101.6 366.4h.9M74.4 363.2h.9M77.6 361.9h.9M84.1 360h.9M77.7 364.4h.9M81.6 363.1h.9M75.7 363.8h.9M101 364.4h.9M99.5 364.4h.9M92.9 358.9h.9M85.8 359.6h.9M72.7 362.9h.9M101.7 364.8h.9M88.5 363.6h.9M98.5 364.9h.9M98.5 367.4h.9M88.1 362.6h.9M84.6 363.8h.9M67.4 364.2h.9M94.5 361.1h.9M99.4 366.8h.9M79.7 364.6h.9M79.9 359.3h.9M98.5 366.6h.9M92.4 361.5h.9M92.8 361.2h.9M74.7 359.1h.9M72.9 362.4h.9M91.2 361.4h.9M103.4 367.7h.9M75.5 362.4h.9M80.2 361.3h.9M89.7 362h.9M93.3 365.1h.9M90.2 364.1h.9M76.8 363.1h.9M88.9 363.6h.9M71.7 365h.9M70.9 362.3h.9M93.2 363.7h.9M88.5 364.7h.9M87.2 363.3h.9M64.6 364h.9M92.3 363.5h.9M82 364.4h.9M99 362.1h.9M89.9 362.8h.9M103.3 369.8h.9M97.5 364.9h.9M103.3 370.5h.9M104 369h.9M98.7 367.3h.9M78.5 361.6h.9M92.4 361.8h.9M97 365.5h.9M103.1 369.4h.9M99.8 364.2h.9M73.2 361h.9M76.1 361.7h.9M80.2 358h.9M89.5 362.7h.9M66.9 362.6h.9M90.3 360h.9M71.3 361.6h.9M100.4 365.1h.9M71.6 362.8h.9M69.7 365.6h.9M87.2 362.9h.9M90.3 362.3h.9M104.7 368.9h.9M81.4 358.9h.9M103.1 370.7h.9M102.3 368.4h.9M102.3 367.6h.9M97.5 365.6h.9M98.3 362.8h.9M105.4 368.6h.9M85.8 362.8h.9M97.7 364.9h.9M68.8 365.5h.9M66.7 366.2h.9M86.4 360.2h.9M71.1 363.9h.9M82.4 362.9h.9M105.5 370.4h.9M83.2 362.9h.9M79.4 363.2h.9M86.6 360.3h.9M82 362.4h.9M67.1 361.7h.9M86.8 364.3h.9M99.4 365.1h.9M76.4 363h.9M90.8 364.1h.9M72.5 359.5h.9M85.8 363.4h.9M91.4 364.5h.9M69.6 361.9h.9M77.2 361.4h.9M102.4 367.2h.9M85.5 364.2h.9M89.3 361.6h.9M103.6 369.6h.9M81.5 360.7h.9M80.1 365.1h.9M96.7 358h.9M67.5 363.2h.9M91.4 361.1h.9M71.9 364.2h.9M71.1 364.6h.9M103.3 369.5h.9M75.7 364.9h.9M72.8 361.9h.9M72.5 363.6h.9M78.5 363.4h.9M74.6 363.5h.9M99.8 365.1h.9M99.2 365.2h.9M72.9 363.5h.9M82.5 362.9h.9M94.9 362.1h.9M65.8 365.7h.9M104 366.8h.9M70.2 364.4h.9M75.8 364.3h.9M98.5 365h.9M72.9 361.4h.9M90.4 360.1h.9M102.1 367.7h.9M74.1 360.3h.9M103 369.7h.9M102.9 367.5h.9M97.1 363.7h.9M80.8 361.1h.9M104.8 369.4h.9M75.2 362.5h.9M94.8 365.5h.9M98 365.6h.9M90.4 360.8h.9M73.3 363.8h.9M71.1 361.2h.9M89.6 361.9h.9M85.9 362.6h.9M95.9 364.1h.9M96.4 363.2h.9M95.2 362.3h.9M65.6 363.6h.9M87.2 362.1h.9M72.5 363.8h.9M65.7 363.9h.9M86.7 358.7h.9M101.8 365.5h.9M87.5 362.1h.9M76.2 363.5h.9M97.2 361.8h.9M97.3 365.8h.9M86.9 365.4h.9M76.3 359.5h.9M86.9 362h.9M65.1 363h.9M79.8 364.4h.9M101.8 367h.9M68.4 361.4h.9M105.7 369.1h.9M104.3 365.4h.9M68.8 364.5h.9M92.3 364.2h.9M95 358.3h.9M77 362.9h.9M71 363.9h.9M76 360.7h.9M65 365.9h.9M104.5 370.4h.9M100.8 364.6h.9M75.6 361h.9M103.1 366h.9M66.3 363.5h.9M99.2 367.2h.9M82.5 363h.9M64.8 364h.9M101.4 366h.9M104.5 370.1h.9M74 365.1h.9M79.9 363.5h.9M75.1 364.4h.9M65.6 361.3h.9M68.4 358.4h.9M92.4 363.3h.9M103.7 370h.9M70 363.5h.9M70 360.4h.9M88.5 365.1h.9M101.3 364.2h.9M81.1 363.4h.9M101 366.4h.9M64.5 363h.9M74.8 364.5h.9M83.9 359.9h.9M91.8 361.4h.9M68.8 364.2h.9M71.9 364.2h.9M84.1 362.2h.9M95.6 361.5h.9M94.1 361.6h.9M72.6 364.6h.9M90.2 363.3h.9M102.2 369.2h.9M69.4 360h.9M83.5 361.6h.9M74.4 361.9h.9M65.6 362.9h.9M82.7 365.3h.9M83.2 363h.9M79.8 363.4h.9M66.7 363.8h.9M82.3 364.2h.9M97.2 362.5h.9M85 363.8h.9M93.6 362.2h.9M72.1 363.7h.9M72.3 364.9h.9M78.6 360.8h.9M66.1 366.2h.9M90.9 364.5h.9M79.8 362.3h.9M89.1 363.6h.9M69.7 363h.9M104.9 368.8h.9M103.9 369.7h.9M66.5 361.7h.9M90 363.2h.9M101.2 366.6h.9M89 363.2h.9M66 361.1h.9M86.4 364.6h.9M94.5 362.5h.9M79.8 362h.9M91.1 361.8h.9M79.6 361.9h.9M78.3 361h.9M80.5 363.6h.9M71.8 363.3h.9M86.9 361.8h.9M84.2 360.7h.9M70.2 362.2h.9M87.9 361.5h.9M105.2 368.2h.9M99.2 362.7h.9M87.2 361.6h.9M103.3 368.4h.9M65.9 362.3h.9M103.7 370.3h.9M82.3 360.7h.9M104.5 369.9h.9M98.9 364.3h.9M93.8 361.8h.9" stroke="#111" stroke-width="0.9" stroke-opacity="0.85" filter="url(#bl)"/>
<path d="M63.6 365.01 L64.31 363.56 L65.02 363.66 L65.73 364.89 L66.44 364.21 L67.16 363.76 L67.87 362.97 L68.58 363.24 L69.29 363.28 L70 363.49 L70.71 363.71 L71.43 362.75 L72.14 363.83 L72.86 362.41 L73.57 363.96 L74.29 363.06 L75 363.53 L75.71 363.42 L76.43 362.78 L77.14 363.41 L77.86 363.64 L78.57 363.58 L79.29 363.36 L80 362.5 L80.71 363.24 L81.43 362.74 L82.14 363.21 L82.86 362 L83.57 362.98 L84.29 362.41 L85 362.86 L85.71 363.24 L86.43 362.29 L87.14 362.42 L87.86 363.24 L88.57 362.6 L89.29 363.03 L90 362.49 L90.7 363.26 L91.4 363.25 L92.1 363.11 L92.8 362.92 L93.5 363.05 L94.2 363.87 L94.9 364.02 L95.6 363.26 L96.3 363.41 L97 363.51 L97.8 364.62 L98.6 365.52 L99.4 364.45 L100.2 366.07 L101 365.47 L101.75 367.2 L102.5 367.69 L103.25 368.03 L104 369.48 L104.83 369.46 L105.67 371.05 L106.5 372.1 L63.6 372.1 Z" fill="#3c3c3c" fill-opacity="1"/>
<path d="M70.7 366.8h1M82.3 368.4h1M92.3 364.5h1M66.5 366.8h1M73.3 365.7h1M90.2 369h1M91.6 369.3h1M84.2 367.4h1M67.4 369.8h1M79.6 364.6h1M66.5 365.4h1M76.9 370.6h1M104.2 371h1M76.6 365.1h1M69.8 365.6h1M88 367.2h1M74.8 369.8h1M84.9 370.1h1M100.3 368.8h1M80.2 370.7h1M81.5 366.1h1M74.5 367.3h1M88.3 368.5h1M79.8 363.9h1M97 367.8h1M64.1 369.3h1M95.4 367.5h1M75.3 366.5h1M102.7 369.7h1M84.7 370.8h1M77.3 365h1M93.7 367.8h1M74.1 370.8h1M93.8 364.3h1M89.9 364h1M70.6 367.4h1M100 366.3h1M67.5 369.3h1M68.6 367.2h1M97.9 366.1h1M85.1 363.9h1M75.8 365.1h1M75.9 366.4h1M71.4 369.6h1M89.4 364h1M91.8 364.9h1M69.5 370h1M91.4 364.4h1M104.3 370h1M66.4 368.1h1M71.4 367.2h1M77 370.1h1M75.7 367.3h1M98.3 369.3h1M94.2 366.9h1M79.3 368.4h1M93 365.6h1M90.8 363.7h1M67.2 366.8h1M65.3 365.4h1M83.8 368.1h1M73.2 364h1M77.2 364.3h1M98.9 369.3h1M69 367.2h1M74 365.7h1M93.9 369.8h1M97.8 369.6h1M84.1 369.3h1M94.5 370.7h1M74.5 370h1M91.5 367.6h1M89.3 363.4h1M67.5 369.8h1M75.2 369.3h1M66.3 370.7h1M67.5 367.9h1M93.8 370.4h1M102.7 370.7h1M85.5 369.2h1M72.2 368.4h1M95.3 366.2h1M84.8 370.5h1M101.7 369.1h1M103.2 370.6h1M97.5 370h1M103.3 370.6h1M73.5 370.7h1M76.3 364.6h1M82.5 365.1h1M84.7 365.7h1M70.4 366h1M92.3 368.3h1M101 368.2h1M83 364.7h1M93.9 369.6h1M97.3 367.9h1M87.6 364.5h1M71.1 369h1M66.7 370h1M71.6 366.6h1M79.7 367.9h1M64.6 367.4h1M102.1 368.9h1M74.2 365.7h1M77.1 367.1h1M67.9 371h1M64.3 368.1h1M81.4 368.8h1M93.2 367h1M78.7 371h1M105.4 371.1h1M94.5 371.1h1M93.8 363.9h1M98.3 366.3h1M103.4 369h1M85.1 365.9h1M99.6 369.4h1M98.2 365.5h1M78 371h1M99.3 367.1h1M87.7 363.5h1M81 363.8h1M91.3 367.9h1M86.8 370.3h1M82.8 365.5h1M94.3 365.7h1M103.9 369.3h1M73.5 368.1h1M82.7 366.8h1M93.4 364.5h1M89.5 364h1M85.7 364.1h1M98.6 367.7h1M77.3 368.4h1M98.9 368.9h1M81.2 369.5h1M100.4 369.9h1M77.7 368.3h1M93.1 363.8h1M99.2 369.5h1M105.5 371.2h1M91.6 370.3h1M103.3 368.7h1M79.2 363.9h1M91.7 367.3h1M92.8 365.2h1M92.4 367h1M66.4 367.3h1M88.6 368.5h1M99.5 365.9h1M68.1 367.9h1M74.4 369.4h1M101.4 368.1h1M103.4 368.8h1M90.3 368.8h1M101.5 369.2h1M73.3 367.4h1M92 368.9h1M74.4 366h1M70.1 366.3h1M84.6 371.1h1M103.7 370.3h1M98.8 369.1h1M85.1 365.8h1M90.8 370.8h1M95.1 365.2h1M99.4 370.3h1M75.5 368h1M69.6 366.8h1M77.1 364h1M91 368.3h1M84.7 369h1M85.2 366.7h1M98.3 367.4h1M95.5 368.7h1M72.5 366.2h1M82.5 367.9h1M81.7 367.2h1M82 367.2h1M100 366.6h1M91.6 366.9h1M105.3 371h1M80.9 370.6h1M82.1 365.9h1M81.5 370.2h1M102.8 369h1M68.8 365.4h1M81.7 366.1h1M101.3 368.5h1M103.4 369.2h1M91.9 367.8h1M74 366.9h1M93.2 369.6h1M85.3 366.1h1M67.6 368.8h1M95.5 364.5h1M101.5 368.1h1M95.8 367.5h1M82.4 366.3h1M101.5 367.6h1M92.2 370.4h1M65.5 367.1h1M63.8 368.7h1M92.6 369.4h1M86.3 366.1h1M88.8 367h1M87.9 363.6h1M89.5 369h1M81.3 364.5h1M73.7 363.9h1M80.7 364.7h1M90.5 369.7h1M87.1 367h1M84.7 365.3h1M91.9 370.1h1M96.5 368.9h1M75.3 368.7h1M99.6 367.1h1M72.9 369.5h1M91.3 364.4h1M77 366.2h1M63.9 370.9h1M80.5 368.5h1M73.6 366.2h1M98.7 369.2h1M92.1 367.8h1M99.5 365.7h1M99.8 370.2h1M98.1 365.4h1M92.3 370.6h1M71.5 368.6h1M68.1 364.8h1M69.3 370.9h1M103.5 368.9h1M72.3 367h1M73.9 365.4h1M66.9 367.1h1M89.1 367.6h1M70.2 368.1h1M93 366.7h1M99 370.7h1M72.5 367.6h1M68.4 369.4h1M78.9 368.1h1M70.4 365.6h1M78 369.8h1M95.7 364.5h1M94.8 365.2h1M98.4 365.9h1M71.3 368.4h1M70.3 365.9h1M77.8 367.5h1M90 365.3h1M72.5 369.6h1M103.3 370.4h1M103.4 369.6h1M78.7 364.6h1M72.7 369.3h1M94.1 364.3h1M100.7 371h1M99 369h1M63.9 365.7h1M67 365.2h1M83.1 363.6h1M72 364.6h1M91.4 366.4h1M98.7 366.8h1M96.3 365.6h1M69.4 368.5h1M75.4 369.2h1M89.3 364h1M102 371h1M77.9 368.6h1M73.6 366.2h1M102.2 369.1h1M75.6 369.5h1M104.1 369.8h1M77.6 364.5h1M100.7 367.9h1M104 370.7h1M95.1 366.7h1M92.3 363.9h1M73.2 370.8h1M84.5 363.8h1M87.6 365.5h1M91.3 369.9h1M100.1 366.5h1M103.9 370.7h1M64.8 368.7h1M73.1 367.8h1M67.9 369.9h1M100.2 368h1M73.2 369.7h1M89 369.9h1M84.2 363.8h1M77.1 366.3h1M80.5 363.8h1M82.3 369.8h1M68.4 370.1h1M81.7 366.6h1M87.3 370.4h1M68.4 370.9h1M74.7 364.4h1M72.3 364.8h1M90.5 370.3h1M65.2 370.3h1M86.2 365.9h1M65.7 368.8h1M81 366h1M70.5 368.3h1M64.1 369.7h1M65.3 370.1h1M102.6 368h1M94 366.2h1M82.3 367.4h1M65 370.7h1M73 371.1h1M67.7 367.6h1M65.2 370.7h1M95.2 365h1M93.6 367.2h1M99.2 369.8h1M100 367.4h1M75.3 365.9h1M81.3 364.5h1M77.6 365.1h1M77.6 369.4h1M105.4 371.1h1M67.2 370.1h1M87.2 365.6h1M81.4 366.5h1M65.5 367.7h1M69.9 367.2h1M84.2 363.4h1M67.2 370h1M95 367.4h1M97.5 367.5h1M89.3 370.6h1M93.4 366.5h1M89.8 369.3h1M101.5 367.2h1M80.8 369.9h1M67.6 371h1M92.3 371h1M99.8 368.5h1M79.4 370.7h1M80.9 365.4h1M69.5 368.4h1M99.5 370.6h1M91 368.6h1M92.3 369.9h1M91.6 367.8h1M83.1 366.7h1M70.2 365.9h1M99.6 370.6h1M95.3 364.9h1M90.9 363.7h1M67.1 370.6h1M95.8 364.7h1M98.8 370.7h1M86.6 367.6h1M77.2 367.9h1M84.5 370.3h1M83.5 370.1h1M92.8 368.1h1M88.4 363.4h1M90.5 370.9h1M66.4 369.3h1M71.4 369.2h1M92 364.4h1M93.5 367.7h1M94.4 368.7h1M69.7 370.2h1M69 368.7h1M97.6 369.5h1M103 369.2h1M104.5 370.3h1M79.9 368.9h1M75.5 365h1M72.9 370.1h1M96.9 370.7h1M78.4 366.2h1M73 365h1M80.8 363.5h1M71.1 370.9h1M73.2 367.4h1M101.1 370.1h1M95.6 366.2h1M67.2 366.5h1M103.3 370.8h1M94.1 369.8h1M66.7 366.6h1M72.3 370.8h1M99.4 365.9h1M65.9 370.7h1M79.6 364.9h1M96.5 366.4h1M84.3 367.7h1M95.2 365.1h1M69.8 369.2h1M78.7 368.3h1M98 369.1h1M82.9 366.6h1M104.8 370.4h1M76.4 365.5h1M68 366.8h1M75.1 364.5h1M104.8 370.6h1M66.9 370.3h1M83.1 368.6h1M91.9 365.9h1M91.8 365.6h1M105.4 371.1h1M98.2 370.9h1M79.2 369.8h1M70 370.1h1M91.8 366.2h1M84.1 363.4h1M97.8 368.8h1M103.3 369.8h1M78.5 363.8h1M65.9 370.7h1M97.9 369.2h1M67.8 369.2h1M68.9 369.9h1M73.6 367.7h1M96.8 365.1h1M66.9 366.9h1M67.3 369h1M82.6 367.1h1M102.7 369.9h1M101.6 367.8h1M92.7 365.2h1M89.6 367.5h1M86.5 367h1M69.7 369.8h1M91 369.3h1M65 366h1M102.6 369.9h1M67.8 370.3h1M102.9 370.2h1M83.7 365.9h1M66.8 366.9h1M105.4 371.1h1M77.4 366.9h1M86.6 364.6h1M104.7 370.5h1M102.5 369.3h1M79.1 367.3h1M86.9 363.7h1M95.7 370.8h1M87.1 363.8h1M66 369.9h1M64.1 367.8h1M99.3 368h1M75 367.5h1M89.3 365.4h1M101.1 366.9h1M68.3 368.2h1M82.7 369.6h1M72.5 368.6h1M80.1 365.4h1M88.1 369.9h1M91.1 364.7h1M100.8 369.5h1M97.7 366.6h1M86.6 363.3h1M92.8 368.2h1M82.7 366.6h1M89.4 369.7h1M71.7 370.9h1M78.8 367.6h1M82.4 369.5h1M85.1 365.8h1M66.4 368.3h1M101.9 370.9h1M71.3 368.7h1M102.6 370.8h1M67.6 369.3h1M100 366.1h1M74.4 366.8h1M65.4 369.8h1M89.7 368.1h1M90.9 366.5h1M76.4 363.7h1M85 364h1M74.6 369.8h1M79.8 364.5h1M86.2 366.9h1M98.9 366h1M69 367.7h1M79.1 364.9h1M87.8 370h1M101.4 367.2h1M98.5 365.9h1M101.5 368.1h1M76.9 367.7h1M89.8 363.3h1M68.5 369.9h1M84.2 366.3h1M88.6 369.7h1M70.6 364.8h1M95.1 365.8h1M99.6 370h1M78.1 370.4h1M103.2 369.3h1M66.7 366.6h1M89.6 365.1h1M83 369.1h1M69.9 366.1h1M77.4 364.1h1M78.6 363.6h1M98.3 366.6h1M99.5 366.6h1M95.4 366.4h1M73 363.9h1M91.1 365.4h1M86.5 367h1M68.1 368.5h1M66.1 367h1M96.3 367.2h1M94.4 368.5h1M73.2 367.9h1M99.3 369.8h1M98.3 369.7h1M94.2 364.9h1M73.7 364.5h1M98.1 367.3h1M85.6 368.8h1M90.6 370.9h1M82.7 364.7h1M69.9 366.5h1M87.3 369.9h1M82.7 368.3h1M83.1 369.5h1M82.6 363.8h1M103.6 369.5h1M71.2 365.4h1M68.3 367.7h1M91.9 368.7h1M65.3 366.9h1M74.9 366.3h1M102.4 368.9h1M98.8 369.6h1M93.5 366.7h1M92.6 369.9h1M101.1 368.2h1M84.9 368.6h1M80.6 363.4h1M86.9 368.1h1M100.5 370.2h1M80.7 370.5h1M98.3 366.1h1M71.4 370.7h1M70.1 367.5h1M78.2 366.8h1M105.5 371.2h1M89.5 370.2h1M86.5 365.5h1M95.2 370.5h1M74.7 369.9h1M104.2 369.9h1M86.6 370.3h1M67.2 370.5h1M98.9 366.5h1M78.1 368.1h1M94.5 370.7h1M77.1 369.3h1M82.1 366.3h1M104.6 370h1M80.5 366.7h1M92.8 364.2h1M97.3 368.8h1M66.7 368.4h1M67.3 365.5h1M66.8 366.7h1M86.6 368.6h1M102.8 370.2h1M90.8 369.9h1M63.7 366.2h1M87 364.1h1M85.6 363.6h1M81.1 368.7h1M103.4 368.9h1M91.7 369h1M75.6 367.4h1M91.3 370.7h1M64.8 370.4h1M70.6 366.8h1M91.8 368.6h1M88.3 365.4h1M75.8 365.4h1M101.6 368.5h1M102 368h1M87.6 364.2h1M69.6 365h1M80 371h1M80.9 364.5h1M66.5 367.9h1M72.1 369.1h1M98.5 368.6h1M70.9 366.7h1M81.7 369.6h1M77.9 365.2h1M95.2 368.3h1M95.3 370h1M79 368.6h1M67.5 367h1M64.7 366.3h1M81.1 369.4h1M73.8 370.8h1M80 369.8h1M68.8 366.3h1M77.7 370.4h1M93.2 366.8h1M80 368.1h1M99.6 370.7h1M67.6 367.2h1M72.5 366.7h1M103.8 370h1M71.3 364.7h1M68.6 370.7h1M77.3 370.7h1M104.6 370.8h1M94.3 368.4h1M71.1 364.1h1M73.5 364.7h1M76.8 370.6h1M89.6 365.3h1M76.6 365.9h1M66.3 369h1M80.6 366.4h1M70.2 365.4h1M75.2 370.4h1M81.6 368.5h1M81.6 367.2h1M94.8 369.7h1M64.5 370.2h1M79.8 366.6h1M97.9 369.8h1M94.8 365.5h1M89 363.9h1M86 368.6h1M84.9 367.8h1M72.3 368h1M69 364.9h1M95.5 366.7h1M73.7 369.4h1M95.1 369.9h1M84.3 366.5h1M69.3 368.2h1M89.7 365.6h1M79.3 370.6h1M70.2 365.8h1M67 364.8h1M95.2 365.7h1M79.2 370.5h1M71.1 366.4h1M85.9 368.1h1M89.9 369.6h1M70.2 364.6h1M64.2 366.7h1M82.2 364.6h1M100.9 368.4h1M88.4 368.3h1M71.1 368h1M78.8 368.4h1M95.7 366.9h1M73.6 365.4h1M97.1 369.4h1M66.8 367.1h1M103.8 369.6h1M91 369.1h1M94.1 364.8h1M95.3 364.7h1M98.5 368.6h1M93.5 365.8h1M94.7 366.5h1M85.1 363.7h1M105.5 371.2h1M89.3 365.7h1M69.7 369.2h1M66.8 367h1M97.6 366.6h1M91.6 364h1M90.1 368h1M83.8 369h1M98.2 368.8h1M76.7 370.5h1M98 370.2h1M95.1 369.2h1M70.7 370.8h1M79.5 363.4h1M66.1 365.5h1M64.8 365.8h1M76.7 364.6h1M79.7 364.3h1M66.1 367.2h1M84 367.7h1M70.9 369.9h1M71.4 367.5h1M86.5 369.3h1M84 369.5h1M91 367.3h1M96.5 370.4h1M92.6 365.1h1M65 370.7h1M102.4 369.2h1M102.3 371h1M75.1 368.9h1M84.7 363.5h1M67.4 369.4h1M86.9 366.4h1M67.5 365.2h1M69.4 368.8h1M89 365.2h1M81.3 369.1h1M84.4 365.7h1M86.5 368.8h1M91.1 364.8h1M102.5 369h1M97.9 369.2h1M81.3 365.1h1M100.2 369.5h1M72 368.3h1M69 370.1h1M96 368.9h1M96.3 370.5h1M80.3 366.5h1M91.4 366.3h1M87.9 369h1M103.4 370.8h1M101.9 370.5h1M70.9 370.6h1M77.6 369.3h1M73.8 367.2h1M80.1 368.8h1M79.4 370.1h1M65.6 365.8h1M85.6 366.9h1" stroke="#000" stroke-width="1" stroke-opacity="0.9" filter="url(#bl)"/>
<path d="M118 342.9h.8M115.7 345.9h.8M119.5 341.5h.8M125.7 342.3h.8M119.6 344.5h.8M119 347.3h.8M119.5 343h.8M121.2 339.2h.8M115.5 342.5h.8M120.9 342.5h.8M118 340.2h.8M119.1 341.7h.8M121.7 342.6h.8M119.4 343.2h.8M121.3 343.9h.8M121 343.1h.8M121.5 346h.8M123.1 343h.8M120.4 345.6h.8M117.4 341.2h.8M121.2 341.6h.8M122.2 341.8h.8M118.6 344.1h.8M121.2 342.6h.8M121.9 341h.8M124.4 343.1h.8M120.6 343.8h.8M116.5 340.9h.8M115.3 344.1h.8M120.7 341.8h.8M120.3 340.3h.8M116.4 342.6h.8M118.8 342.7h.8M115.8 343.7h.8M121.5 343.5h.8M118.3 343.3h.8M120.5 341.6h.8M119.8 345.8h.8M119.5 342.3h.8M119.9 342.6h.8M122.2 344.3h.8M119.7 341.8h.8M124.1 341.7h.8M120.5 341.9h.8M118.7 345.4h.8M117.7 341h.8M123.4 341h.8M119.9 343.1h.8M116.3 341.8h.8M121.4 343.7h.8M121.8 340.2h.8M116.1 340.4h.8M119.3 344.7h.8M123.8 345.5h.8M116.6 341.3h.8M119.8 345.5h.8M127.2 342.5h.8M118.5 341.4h.8M121.8 342.3h.8M120.6 344.2h.8M119.5 342.9h.8M117 341.6h.8M121.5 343h.8M121.5 343.8h.8M120.5 344h.8M121.8 343h.8M120.9 344.6h.8M119.2 340.7h.8M118.7 342.4h.8M116.7 344.4h.8M120.2 342.3h.8M115.8 340.4h.8M121.2 342.1h.8M124.5 341.7h.8M120.4 340.4h.8M121.2 342.3h.8M118.8 344.4h.8M118.8 343.5h.8M116.8 345.1h.8M123.5 342.5h.8M118.3 343.1h.8M120 341.9h.8M124.1 342.7h.8M122.1 342.1h.8M121.3 343.1h.8M118.7 344.8h.8M114.8 342.6h.8M120.3 345.4h.8M117.1 343.7h.8M122.2 342.9h.8M117.4 342.8h.8M121 341.8h.8M119.4 343.3h.8M117.8 343h.8M121.7 340.6h.8M118.4 340h.8M118.9 341h.8M119.7 343.3h.8M123.1 343.4h.8M120.4 342.1h.8M117.8 342.8h.8M122.6 341.3h.8M121.3 344h.8M119.7 340.1h.8M119.8 345.3h.8M120.4 340.3h.8M120.4 344h.8M119.9 341.4h.8M122 340.2h.8M118.1 341.1h.8M119.6 346h.8M119.4 342.2h.8M122.9 340.4h.8M119.4 343.2h.8M119.4 342.6h.8M119.1 341.7h.8M121 343h.8M118.5 342.1h.8M121.1 342.4h.8M120.3 343.9h.8M122 341.1h.8M122.9 341.7h.8M118.9 343.2h.8M115.8 343.3h.8M119.5 342.9h.8M123.3 343.9h.8M120.2 343.5h.8M120.5 343.3h.8M119 343.8h.8M120.8 342.8h.8M120.9 341.2h.8M119.8 343.7h.8M120.2 342.8h.8M122.7 343.4h.8M117.6 341.9h.8M120.9 344.1h.8M115.2 343h.8M121.8 344.3h.8M121.3 340.4h.8M120 343.8h.8M115.4 341.4h.8M118.7 344.2h.8M124.3 341.9h.8M116.1 341.7h.8M119.6 341.2h.8M124.5 342.6h.8M119.1 343.4h.8M120.5 341.2h.8M122.1 344.4h.8M118.5 342.6h.8M118.3 346h.8M121.9 344.7h.8M120.4 342.4h.8M117.7 341.8h.8M118 344.9h.8M118.5 343.6h.8M117.7 343.4h.8M115.9 344h.8M121 346.8h.8M120.2 339.7h.8M123.4 346.5h.8M118.3 344h.8M118 346.2h.8M120 344h.8M118.3 340.7h.8M122.5 341.8h.8M114.4 342.8h.8M121.5 341.6h.8M118 344.7h.8M114.8 340.7h.8M117.6 342.8h.8M121.4 345.4h.8M117 340.5h.8M121.2 340.8h.8M119.8 341.1h.8M122.2 346.9h.8M119.5 338h.8M121.3 341.7h.8M117.4 340.2h.8M121.3 340.7h.8" stroke="#111" stroke-width="0.8" stroke-opacity="0.9" filter="url(#bl)"/>
<path d="M104.6 354.1h.8M107.2 352h.8M109.3 352.5h.8M107 350h.8M109.3 353.2h.8M106.9 352.5h.8M110.7 353.9h.8M109.3 353.4h.8M109.5 352.7h.8M106.3 350.5h.8M109.3 349.1h.8M108.7 353.4h.8M112.4 356.1h.8M109.9 353.6h.8M111.7 351.4h.8M108.8 354.9h.8M109.7 351.7h.8M115.3 350.7h.8M114.7 350.2h.8M109.1 351.4h.8M108.8 352.8h.8M113.1 355.7h.8M109.9 349.8h.8M109.2 354.5h.8M105.7 351.7h.8M110.9 353.8h.8M111.6 352.3h.8M110 352.1h.8M109.9 350.4h.8M109.1 354.5h.8M113.9 353.1h.8M118.3 346.6h.8M113.2 350.3h.8M111.1 354.2h.8M112.4 352.1h.8M109.1 350.9h.8M111 354.6h.8M113.3 350.2h.8M112.5 353.1h.8M113 351.4h.8M107.6 352.3h.8M109.1 354.3h.8M111 347h.8M112.2 349.9h.8M113.3 351.9h.8M107.2 350.4h.8M112.4 354.1h.8M111.1 353.4h.8M109 352.9h.8M113.7 354.5h.8M107.2 351.7h.8M114.9 354.5h.8M110.7 354h.8M112 352.7h.8M109.9 353.3h.8M113.3 354.4h.8M110.6 351.4h.8M113.2 352.7h.8M113.5 347.8h.8M105.2 351.9h.8M111.2 352.3h.8M106.5 353.3h.8M106 354.5h.8M108.6 355.9h.8M114.5 355.4h.8M120.1 348.9h.8M111.2 353.7h.8M107.5 351.7h.8M114 352.3h.8M109.2 353.9h.8M112 357h.8M110.1 352.4h.8M114.9 349.8h.8M111.5 354.3h.8M111.2 350.5h.8M109.5 352h.8M110.1 352.2h.8M114.1 353.5h.8M111.6 351.3h.8M111.6 353.4h.8M110.3 352.5h.8M111 353.1h.8M110.4 351.1h.8M113.3 349.9h.8M110.6 352.8h.8M110.6 357.2h.8M108.8 351.1h.8M108 356.1h.8M113.4 358.3h.8M109.6 354h.8M111.2 353.4h.8M112 349.7h.8M108.8 349.2h.8M110.2 350.1h.8M117 352.7h.8M112.1 355.1h.8M110 354.3h.8M117.3 350.3h.8M111.6 352.5h.8M110.2 353.6h.8M113.4 353.9h.8M108.5 354.8h.8M113.2 352.8h.8M106.4 353.9h.8M109.7 352.5h.8M110.8 355.6h.8M110.7 354.3h.8M106.9 349.3h.8M109.6 349.4h.8M113 348h.8M113.1 353.6h.8M111 354.3h.8M111.4 352.3h.8M105.2 357.9h.8M113.4 350.2h.8M111 352.5h.8M111.3 352.5h.8M107.1 352.8h.8M114.3 354.8h.8M113.4 350.8h.8M111 351.1h.8M110.7 354h.8M112.2 349.3h.8M111 352.1h.8M111.3 352.8h.8M108.8 348.5h.8M111.7 354.2h.8M111 349.1h.8M114 350.3h.8M114.7 352.6h.8M111.5 349.2h.8M113.1 350h.8M114.5 353.1h.8M107.5 353.5h.8M111 356.6h.8M111.3 354.6h.8M112.7 350.5h.8M109 354.5h.8M111 351.2h.8M111.3 352.7h.8M110.1 352h.8M110.5 351.9h.8M112.9 351.5h.8M112.6 349h.8M110 354h.8M112.3 353.7h.8M108.5 355.5h.8M108 354.4h.8M107.6 350.3h.8M112 352.8h.8M112.3 355.1h.8M112.7 356.6h.8M111.1 354.6h.8M106.4 352.5h.8M109.3 352.1h.8M110.9 357.5h.8M109.1 349.2h.8M111.4 354.3h.8M105.9 353.6h.8M112.4 352.4h.8M110.4 353.3h.8M110.1 350.4h.8M113.7 353h.8M115.5 351.8h.8M110.6 349.7h.8M110.5 351.6h.8M116.2 351.2h.8M108 350.8h.8M111.5 351.8h.8M112 350.3h.8M108.6 355.4h.8M110.3 356.9h.8M112.7 353h.8M110.3 356.2h.8M111.6 351.3h.8M111.7 354.8h.8M110.1 352.3h.8M108.6 351.4h.8M109.4 353.3h.8M104 353.1h.8M116.6 352.2h.8M108.3 353.1h.8M115.1 349.2h.8M109.2 351h.8M112.3 353.6h.8M106.7 355.2h.8M114.5 353h.8M110.5 349.3h.8M112.5 350.6h.8M111 351.9h.8M107.4 348.4h.8M111.2 352.5h.8M110 349.9h.8M110.1 349.3h.8M107.5 353.2h.8M111.5 351.6h.8M105.7 348.8h.8M107.3 348.1h.8M110.5 351.9h.8M111.7 351.3h.8M113.2 351.2h.8M111.5 351.3h.8M111.3 353.5h.8M112.2 351.2h.8M109.8 352.7h.8M114.5 351.3h.8M111.5 348.9h.8M107.5 349.2h.8M110.3 355.3h.8M109.1 352.1h.8M113.1 350.4h.8M113.2 354.5h.8M108.7 351.7h.8M114.1 350.7h.8M112.7 352.5h.8M111 351.2h.8M107.6 357h.8M114.5 352.7h.8M110.4 354.6h.8M113.2 351.5h.8M109.6 351.9h.8M112.6 350.6h.8M111 355.4h.8M109.5 354h.8M104.6 354.6h.8M110.2 354.1h.8M111 351.4h.8M110 353.7h.8M113.3 353.7h.8M110.1 349.4h.8M108.8 352.3h.8M104.3 346.2h.8M114.7 353.6h.8M112 354h.8M111 354.2h.8M113.1 350.6h.8M112.1 350.6h.8M115.9 351.4h.8M109.6 354.8h.8M109.4 352.4h.8M109.6 350.6h.8M112.9 353.1h.8M108.6 352.6h.8M110.2 354.3h.8M115.1 349.3h.8M112.7 356.1h.8M109.9 350.3h.8M111.7 351.5h.8M108 352.7h.8M108.1 354.1h.8M109.2 354.5h.8M107 348.1h.8M110.5 351.3h.8M112.7 354.9h.8M111 350h.8M106.4 352.2h.8M112.8 356.4h.8M109.4 353.1h.8M106.8 351.3h.8M112.4 351.2h.8" stroke="#111" stroke-width="0.8" stroke-opacity="0.9" filter="url(#bl)"/>
<path d="M117.3 355.2h.8M125.6 357.2h.8M124 352.4h.8M126.3 351h.8M126.1 356.3h.8M121.1 359.2h.8M118.9 355.8h.8M126.3 356.1h.8M121.6 352.7h.8M118.8 358.5h.8M126.3 356.7h.8M113.4 350.9h.8M124.5 355.3h.8M121.8 354h.8M121 356.1h.8M121.4 357.7h.8M123.2 355.2h.8M118.7 355h.8M120.6 358.1h.8M118.9 353.1h.8M123.5 352.4h.8M119 351.1h.8M121.6 352.2h.8M121.2 355.7h.8M123.4 356.7h.8M124.1 354.2h.8M118.4 355.8h.8M119.4 363.4h.8M120.3 355.3h.8M119.9 355.9h.8M128.6 354.2h.8M124.1 356.2h.8M122.8 355.7h.8M118.9 357.9h.8M119.7 355.6h.8M118.2 357.6h.8M121.5 354.1h.8M119 355.6h.8M118.5 353.7h.8M125.6 354.6h.8M121.8 357.2h.8M124.2 355.2h.8M122.2 357.2h.8M123.7 354.9h.8M122.4 356.3h.8M128.3 352.2h.8M123.9 356.1h.8M117.3 355.7h.8M119.2 356.5h.8M126.2 352.4h.8M128.4 355.7h.8M125.8 355.7h.8M119 354.3h.8M115.9 356.6h.8M120.4 352.6h.8M121.7 354.7h.8M118.2 353.5h.8M126.2 356.5h.8M119.7 355.3h.8M124.3 357.1h.8M122.2 356h.8M123.4 351.9h.8M123.2 353.8h.8M121.9 355h.8M121.6 356.3h.8M120.5 355.6h.8M119.7 353.5h.8M125.8 351.7h.8M122.8 357.2h.8M122.6 353.1h.8M124.5 355.7h.8M117.3 358.8h.8M115.9 359.4h.8M122.5 356h.8M122.9 360h.8M126.3 351.3h.8M125.6 353.4h.8M121.7 356.3h.8M116.3 353.6h.8M120.6 353.7h.8M121.8 355.2h.8M121.6 360.8h.8M118.2 356.3h.8M116.1 350.6h.8M117.8 355h.8M120.4 354.8h.8M120.3 354.4h.8M118.7 353.6h.8M124.7 355.6h.8M122 357.1h.8M121.7 354h.8M127.8 358.3h.8M122 354.9h.8M121.1 353.3h.8M121.1 357.3h.8M122.3 355.9h.8M124.8 353.4h.8M116.9 359.5h.8M119.2 355.2h.8M120 353.1h.8M117.9 357.1h.8M124.6 354.9h.8M121.2 353.9h.8M115.6 354h.8M128.6 357.9h.8M120.5 355.7h.8M126.3 355.1h.8M120.4 353.9h.8M120 355.9h.8M124 351.7h.8M121.6 351.6h.8M122.7 354.6h.8M125.5 351.5h.8M113.4 359.1h.8M123.4 358.3h.8M118 356.5h.8M125.6 358.4h.8M121.8 353h.8M119.1 360h.8M122.9 355.2h.8" stroke="#222" stroke-width="0.8" stroke-opacity="0.8" filter="url(#bl)"/>
<path d="M119 341.3h.8M121.2 344.6h.8M106.1 351.3h.8M121.4 353.5h.8M112 347.5h.8M103.8 354.9h.8M123.6 345.2h.8M118.5 358.2h.8M110.8 345.8h.8M123.8 354.8h.8M118.1 350.1h.8M103.7 348.1h.8M112.4 351.6h.8M105.7 347.8h.8M113.6 342.1h.8M121.7 340h.8M106.5 348.1h.8M108.7 350.9h.8M124.6 349.2h.8M132.3 344.7h.8M112.9 355.9h.8M116.6 348.2h.8M120.1 346.5h.8M111.1 351.7h.8M110.6 354.7h.8M125.7 355h.8M123.7 357.4h.8M122.6 344.8h.8M118.9 345.3h.8M123 353.2h.8M122 354.1h.8M122.4 350.2h.8M120.8 347.1h.8M111.2 346.6h.8M109.9 349h.8M127.6 346.6h.8M112.2 350.4h.8M122.8 351.4h.8M113 347.1h.8M104.7 354.7h.8M121.5 350h.8M108.6 342.3h.8M119.7 348.6h.8M120.4 346.4h.8M117.9 351.6h.8M117.6 359h.8M121.6 349.2h.8M120.8 339.3h.8M116.7 342.5h.8M106.7 345.6h.8M125.2 349.1h.8M107.1 348.2h.8M109 343h.8M114.7 353.8h.8M114.1 348.4h.8M117.9 356h.8M113.7 352.6h.8M123.3 352.4h.8M110.8 349h.8M123.2 350h.8M107.4 346.1h.8M123.1 343.1h.8M107 348h.8M114 348.4h.8M117.7 357.3h.8M104.5 343.8h.8M105.2 342.1h.8M111 351.1h.8M120.2 347.6h.8M108.6 339.9h.8M108.4 350.4h.8M118.5 347.6h.8M106.3 340.7h.8M110.8 343.1h.8M120.7 351.2h.8M122 354.7h.8M120.3 349h.8M116.2 351.4h.8M125.7 356.3h.8M112.8 344.1h.8M116 348.5h.8M118.7 347.9h.8M117.5 347.3h.8M111.4 340.1h.8M116.9 345.6h.8M103.7 347.2h.8M115.9 345.5h.8M111 355.7h.8M111.9 361.2h.8M120.2 352.2h.8M109.5 346.2h.8M119 342.9h.8M118.9 352.5h.8M107.2 345.6h.8M105.7 352.4h.8M113.9 350.5h.8M119.8 343.1h.8M115.3 343.9h.8M118.6 348.3h.8M113.8 354.7h.8M120.2 345.8h.8M103 342.5h.8M122.8 347.1h.8M108.6 349.4h.8M109.2 350.6h.8M113.8 347.3h.8M112.6 350h.8M120.5 351.8h.8M120.6 345.3h.8M124.9 342.7h.8M129.7 348.6h.8M108.1 351.1h.8M119.6 349.8h.8M110 345.8h.8M120.2 349.8h.8M123.8 358.6h.8M118 348.5h.8M114.7 351.3h.8M117.4 343h.8M117.3 348.3h.8M111 352.3h.8M120.6 348.9h.8M117.3 352.2h.8M114.9 352.8h.8M113 350.7h.8M123.3 351.3h.8M109.6 349.6h.8M113.8 350.5h.8M119.8 345.3h.8M128.2 347.8h.8M110.3 345.6h.8M122.8 351.9h.8M108.3 344.1h.8M128.5 352.6h.8M119.5 338.6h.8M109.7 346.6h.8M122.4 346.3h.8M115.8 349.7h.8M122.5 341.7h.8M116.6 347h.8M122.1 355.1h.8M113 346.2h.8M117.3 346.7h.8M119.2 343.8h.8M110.2 353.9h.8M117.1 343.9h.8M120.8 354.1h.8M115.3 350.7h.8M114.4 351.5h.8M127.8 359.6h.8M120 336.4h.8M109.7 347.9h.8M116.1 352.2h.8M115.7 340.9h.8M119.1 350.8h.8M106.1 349.3h.8M110.9 350.7h.8M119.4 350.9h.8M114.4 339.6h.8" stroke="#3a3a3a" stroke-width="0.8" stroke-opacity="0.7" filter="url(#bl)"/>
<path d="M125.2 365.6h.9M122.6 369h.9M116.5 369h.9M122 369.6h.9M126 370h.9M118 369.4h.9M112.7 366.7h.9M126.8 367.3h.9M121.8 365.4h.9M118.5 370h.9M120.9 369.7h.9M118.3 367.5h.9M117.6 368.3h.9M119.6 368.2h.9M117.2 368.8h.9M123.3 371h.9M122.1 364.5h.9M114.5 366.8h.9M123.1 367.7h.9M116.9 367.7h.9M120.6 365.2h.9M122.3 366.3h.9M116.7 370.3h.9M122.6 366.4h.9M123.1 362.8h.9M116.9 366.6h.9M120.3 367.5h.9M119.4 360.4h.9M124.4 363.3h.9M124.9 369.1h.9M119.8 368.8h.9M117.3 367.9h.9M123.6 365.2h.9M120.2 368.2h.9M116.4 368.3h.9M122.1 366.3h.9M121.4 366.9h.9M124.8 369.6h.9M115.7 366.5h.9M121.7 368.4h.9M115.7 366.4h.9M125.4 369h.9M121.6 367.9h.9M113.9 369.1h.9M113.9 365.7h.9M118.2 371h.9M118.3 365.5h.9M119.1 368.5h.9M120.8 369.6h.9M120.5 365.6h.9M121.1 369.6h.9M116.3 369.1h.9M122.3 363.8h.9M123 369.2h.9M113.9 370h.9M119 369.8h.9M120 369.5h.9M123.3 369.7h.9M120.6 369.4h.9M118.1 369.3h.9M122.7 366.1h.9M123.1 367.7h.9M111.8 363h.9M119.5 368.4h.9M123.1 371.2h.9M126 366.8h.9M122 367.8h.9M114.9 368.1h.9M119.6 367.8h.9M120.5 368.7h.9M119.1 368.7h.9M120.2 369.4h.9M118.1 370.3h.9M117.8 370.1h.9M116.2 369.6h.9M121 369.5h.9M119 369.3h.9M117.5 369h.9M122 364.6h.9M121.6 370h.9M120.4 368.3h.9M114.4 367.8h.9M118.5 370.8h.9M122.7 365.2h.9M118.9 370.8h.9M110.9 369.7h.9M119.9 366.8h.9M111.2 366.6h.9M121 365.8h.9M122.3 366.2h.9M118.9 368.2h.9M122.2 366.6h.9M122.2 368.6h.9M119.2 369.9h.9M112.7 368.2h.9M121.1 369.7h.9M120 369.4h.9M118.7 367.3h.9M121.1 363.8h.9M121.5 368.3h.9M123.4 369.4h.9M120.1 368.9h.9M119.2 367.2h.9M118.5 369.3h.9M123.2 366.4h.9M120.2 362.3h.9M119.4 364.3h.9M117.2 366.4h.9M118.5 370.2h.9M116.3 365.4h.9M124.3 368.7h.9M123.5 370.6h.9M119.2 366.3h.9M119.5 366.3h.9M122.8 370h.9M119.3 367.1h.9M116.8 368.8h.9M121.1 369h.9M121.1 365.3h.9M114.7 369.1h.9M125.2 367.2h.9M123.5 360.4h.9M120.3 369.1h.9M126.6 361.8h.9M115.2 367.9h.9M115.1 366.9h.9M120.4 368.8h.9M119 366.3h.9M122.1 366.7h.9M119.5 367.4h.9M118.5 368.9h.9M121.1 369.9h.9M118.7 363.5h.9M118.5 369.3h.9M123.3 369.1h.9M121.7 370.7h.9M119.9 361.1h.9M119.3 363.1h.9M119.7 370.5h.9M123 370.4h.9M120 364.9h.9M123.3 367.6h.9M123.1 369h.9M120.4 368.8h.9M114 366.5h.9M116.6 367.2h.9M116 368h.9M117.2 364.7h.9M122.2 369.1h.9M122.4 370.3h.9M116.5 370.9h.9M120.4 369.2h.9M117.2 369.6h.9M119.8 366.4h.9M120.9 367.3h.9M116.7 367.2h.9M119.9 366.3h.9M121.5 368.1h.9M118.9 369.1h.9M124.2 368.2h.9M118.4 364.8h.9M121.1 368.1h.9M124.2 367.9h.9M122.5 366.5h.9M124.1 371h.9M118.4 368.5h.9M121.5 366.4h.9M121.3 368.6h.9M127.4 366.7h.9M115.2 366.7h.9M119.5 367.9h.9M125.2 368.1h.9M119.8 366.8h.9M120.3 362.5h.9M126.4 364.9h.9M124.2 367h.9M118.8 368.9h.9M122.7 368.9h.9M123.5 367.1h.9M122.3 368.2h.9M123.8 368h.9M128.5 364.8h.9M115.5 369.1h.9M118.2 369.4h.9M122.4 369.3h.9M115.9 365.3h.9M119.3 361h.9M116.4 369.5h.9M116 370.7h.9M120 365.6h.9M120.9 369.5h.9M122.4 369.1h.9M116.2 368.3h.9M115.5 363.5h.9M117.5 367.1h.9M118.9 368.8h.9M118.1 367.1h.9M118.2 367.8h.9M115.1 365.6h.9M120.9 368.1h.9M120.3 370.4h.9M121.1 370.6h.9M124.4 370.1h.9M118.8 367.2h.9M120.2 366.8h.9M123.8 370.5h.9M122.4 370.3h.9M113.3 367.5h.9M122.8 368.7h.9M117.8 368.3h.9M126.5 366.1h.9M119.1 363.6h.9M123.9 365.5h.9M119.7 368h.9M116.9 368.9h.9M122 364.1h.9M119.7 363.6h.9M118.8 366.3h.9M113.2 366.8h.9M118.7 369.5h.9M117.4 366.2h.9M124.5 366.6h.9M126 368.7h.9M122.9 367.2h.9M124.5 368.7h.9M120 368.5h.9M115.8 366.8h.9M115.2 368.6h.9M114.1 368.6h.9M126.3 366.7h.9M116 367.5h.9M122.1 367.8h.9M122.4 366.9h.9M118.9 368.7h.9M113.7 368.3h.9M115.4 368.1h.9M117.7 365.5h.9M121.2 370.6h.9M117.3 368.7h.9M123.8 365.4h.9M123.5 367.7h.9M122.4 365.9h.9M118.9 369.1h.9M116.9 368.6h.9M111.4 369.3h.9M126.4 370.9h.9M118.1 366.8h.9M122.3 368.9h.9M115.7 370.6h.9M119.7 369.2h.9M126.4 367.8h.9M117.9 368.3h.9M123 369.2h.9M120.4 362.4h.9M124.3 367.9h.9M118.2 369.1h.9M118.3 367.2h.9M123.1 367.6h.9M130.7 369.2h.9" stroke="#111" stroke-width="0.9" stroke-opacity="0.9" filter="url(#bl)"/>
<path d="M112.3 362.2h.8M121.4 357.6h.8M101.3 357.9h.8M127 369h.8M112.5 352.4h.8M112.8 357.9h.8M111 361.1h.8M106.9 355.2h.8M105.5 363.7h.8M114.5 367.1h.8M112.3 363.3h.8M111.3 364.4h.8M115.1 361.2h.8M118 365.4h.8M123.2 367.5h.8M113.4 360h.8M103.2 365.8h.8M108.6 361.2h.8M122.7 356.9h.8M101.6 361.8h.8M115.6 369.4h.8M114.5 360.4h.8M108.4 370.4h.8M108.1 355.7h.8M117.8 355.2h.8M110.3 367h.8M108.1 360.8h.8M102.4 362.4h.8M123 368.6h.8M107.4 362.2h.8M119.1 364.8h.8M116.4 360.6h.8M113.7 365h.8M121.3 364.5h.8M103.1 358.8h.8M103.1 367.7h.8M103.9 368h.8M109.8 363.5h.8M114.3 362.5h.8M105.6 364.5h.8M112.7 361.1h.8M110.5 364.2h.8M109 360.5h.8M109.3 358.7h.8M109.7 355.3h.8M115 359.7h.8M105.1 364.6h.8M109.7 356.9h.8M109 359h.8M106.9 363.3h.8M109.7 369.9h.8M101.8 356.3h.8M108.4 364.7h.8M105.8 364.1h.8M120.6 356h.8M112.1 359.9h.8M105.5 363.7h.8M121.3 356.9h.8M110 357.6h.8M120.7 358.9h.8M103.6 356.9h.8M112.7 359.7h.8M118.8 366.8h.8M110.8 357.7h.8M118.5 367.8h.8M117.4 358.2h.8M117.8 359.2h.8M101.3 360.7h.8M115.2 364h.8M100.5 362.2h.8M110.2 363.7h.8M107.5 369.4h.8M116.4 369h.8M121.5 370.6h.8M119.1 362.7h.8M110.7 356.9h.8M118.2 358.2h.8M111.3 362.6h.8M123 358h.8M104.3 366.7h.8M108.2 358.2h.8M106.6 360h.8M106.9 361.1h.8M113.1 364.9h.8M107.4 364.5h.8M112.9 362.7h.8M112.3 358.5h.8M109.7 366.6h.8M118.9 367.2h.8M110.3 363h.8M106.1 362.9h.8M111.3 365.8h.8M106.9 354.5h.8M118 357.3h.8M122.8 362.6h.8M104.4 359.4h.8M115.8 367.5h.8M99.1 365.7h.8M105.2 359.6h.8M112.7 367.8h.8M103.4 353.6h.8M107.2 361.9h.8M117.6 367.9h.8M110.7 364.4h.8M112.3 366.9h.8M109.4 360.3h.8M114.2 367.3h.8M113.6 366.9h.8M115.3 357.4h.8M114.1 358.3h.8M117.8 356.7h.8M104.8 366.7h.8M108.6 352.9h.8M115.4 358.9h.8M128.3 362.5h.8M117.2 366h.8M102.7 363.5h.8M128.9 370.2h.8M114 368.1h.8M109.6 362.8h.8M115.8 363.6h.8M105.2 368.6h.8M106.4 364.8h.8M121.3 356.8h.8M111.2 366.8h.8M112.5 361.8h.8M109.3 360.6h.8M109.5 362.9h.8M113.9 361.6h.8M98.5 359.4h.8M111.3 362.3h.8M106.8 364.3h.8M104.7 364.1h.8M110.3 362.9h.8M115.2 363.9h.8M108.4 358h.8M120 356.8h.8M111.1 364.1h.8M109.2 360.2h.8M105.9 366h.8M112.7 368.3h.8M105.3 361.4h.8M104.7 357.3h.8M113.6 367.4h.8M105.6 358.6h.8M102.3 366.8h.8M126.4 367.9h.8M113 364.4h.8M103 358.4h.8M104.5 366.8h.8M116.2 362h.8" stroke="#3a3a3a" stroke-width="0.8" stroke-opacity="0.7" filter="url(#bl)"/>
<rect x="63.6" y="334.4" width="79" height="37.7" fill="none" stroke="#333" stroke-width="0.9"/>
<line x1="63.6" y1="334.4" x2="63.6" y2="372.1" stroke="#000" stroke-width="1.1"/>
<line x1="63.6" y1="372.1" x2="142.6" y2="372.1" stroke="#000" stroke-width="1.1"/>
<line x1="63.6" y1="372.1" x2="63.6" y2="374.1" stroke="#333" stroke-width="0.5"/>
<line x1="61.6" y1="372.1" x2="63.6" y2="372.1" stroke="#333" stroke-width="0.5"/>
<line x1="69.55" y1="372.1" x2="69.55" y2="373.3" stroke="#333" stroke-width="0.5"/>
<line x1="62.4" y1="369.26" x2="63.6" y2="369.26" stroke="#333" stroke-width="0.5"/>
<line x1="73.02" y1="372.1" x2="73.02" y2="373.3" stroke="#333" stroke-width="0.5"/>
<line x1="62.4" y1="367.6" x2="63.6" y2="367.6" stroke="#333" stroke-width="0.5"/>
<line x1="75.49" y1="372.1" x2="75.49" y2="373.3" stroke="#333" stroke-width="0.5"/>
<line x1="62.4" y1="366.43" x2="63.6" y2="366.43" stroke="#333" stroke-width="0.5"/>
<line x1="77.4" y1="372.1" x2="77.4" y2="373.3" stroke="#333" stroke-width="0.5"/>
<line x1="62.4" y1="365.51" x2="63.6" y2="365.51" stroke="#333" stroke-width="0.5"/>
<line x1="78.97" y1="372.1" x2="78.97" y2="373.3" stroke="#333" stroke-width="0.5"/>
<line x1="62.4" y1="364.77" x2="63.6" y2="364.77" stroke="#333" stroke-width="0.5"/>
<line x1="80.29" y1="372.1" x2="80.29" y2="373.3" stroke="#333" stroke-width="0.5"/>
<line x1="62.4" y1="364.13" x2="63.6" y2="364.13" stroke="#333" stroke-width="0.5"/>
<line x1="81.44" y1="372.1" x2="81.44" y2="373.3" stroke="#333" stroke-width="0.5"/>
<line x1="62.4" y1="363.59" x2="63.6" y2="363.59" stroke="#333" stroke-width="0.5"/>
<line x1="82.45" y1="372.1" x2="82.45" y2="373.3" stroke="#333" stroke-width="0.5"/>
<line x1="62.4" y1="363.11" x2="63.6" y2="363.11" stroke="#333" stroke-width="0.5"/>
<line x1="83.35" y1="372.1" x2="83.35" y2="374.1" stroke="#333" stroke-width="0.5"/>
<line x1="61.6" y1="362.68" x2="63.6" y2="362.68" stroke="#333" stroke-width="0.5"/>
<line x1="89.3" y1="372.1" x2="89.3" y2="373.3" stroke="#333" stroke-width="0.5"/>
<line x1="62.4" y1="359.84" x2="63.6" y2="359.84" stroke="#333" stroke-width="0.5"/>
<line x1="92.77" y1="372.1" x2="92.77" y2="373.3" stroke="#333" stroke-width="0.5"/>
<line x1="62.4" y1="358.18" x2="63.6" y2="358.18" stroke="#333" stroke-width="0.5"/>
<line x1="95.24" y1="372.1" x2="95.24" y2="373.3" stroke="#333" stroke-width="0.5"/>
<line x1="62.4" y1="357" x2="63.6" y2="357" stroke="#333" stroke-width="0.5"/>
<line x1="97.15" y1="372.1" x2="97.15" y2="373.3" stroke="#333" stroke-width="0.5"/>
<line x1="62.4" y1="356.09" x2="63.6" y2="356.09" stroke="#333" stroke-width="0.5"/>
<line x1="98.72" y1="372.1" x2="98.72" y2="373.3" stroke="#333" stroke-width="0.5"/>
<line x1="62.4" y1="355.34" x2="63.6" y2="355.34" stroke="#333" stroke-width="0.5"/>
<line x1="100.04" y1="372.1" x2="100.04" y2="373.3" stroke="#333" stroke-width="0.5"/>
<line x1="62.4" y1="354.71" x2="63.6" y2="354.71" stroke="#333" stroke-width="0.5"/>
<line x1="101.19" y1="372.1" x2="101.19" y2="373.3" stroke="#333" stroke-width="0.5"/>
<line x1="62.4" y1="354.16" x2="63.6" y2="354.16" stroke="#333" stroke-width="0.5"/>
<line x1="102.2" y1="372.1" x2="102.2" y2="373.3" stroke="#333" stroke-width="0.5"/>
<line x1="62.4" y1="353.68" x2="63.6" y2="353.68" stroke="#333" stroke-width="0.5"/>
<line x1="103.1" y1="372.1" x2="103.1" y2="374.1" stroke="#333" stroke-width="0.5"/>
<line x1="61.6" y1="353.25" x2="63.6" y2="353.25" stroke="#333" stroke-width="0.5"/>
<line x1="109.05" y1="372.1" x2="109.05" y2="373.3" stroke="#333" stroke-width="0.5"/>
<line x1="62.4" y1="350.41" x2="63.6" y2="350.41" stroke="#333" stroke-width="0.5"/>
<line x1="112.52" y1="372.1" x2="112.52" y2="373.3" stroke="#333" stroke-width="0.5"/>
<line x1="62.4" y1="348.75" x2="63.6" y2="348.75" stroke="#333" stroke-width="0.5"/>
<line x1="114.99" y1="372.1" x2="114.99" y2="373.3" stroke="#333" stroke-width="0.5"/>
<line x1="62.4" y1="347.58" x2="63.6" y2="347.58" stroke="#333" stroke-width="0.5"/>
<line x1="116.9" y1="372.1" x2="116.9" y2="373.3" stroke="#333" stroke-width="0.5"/>
<line x1="62.4" y1="346.66" x2="63.6" y2="346.66" stroke="#333" stroke-width="0.5"/>
<line x1="118.47" y1="372.1" x2="118.47" y2="373.3" stroke="#333" stroke-width="0.5"/>
<line x1="62.4" y1="345.92" x2="63.6" y2="345.92" stroke="#333" stroke-width="0.5"/>
<line x1="119.79" y1="372.1" x2="119.79" y2="373.3" stroke="#333" stroke-width="0.5"/>
<line x1="62.4" y1="345.28" x2="63.6" y2="345.28" stroke="#333" stroke-width="0.5"/>
<line x1="120.94" y1="372.1" x2="120.94" y2="373.3" stroke="#333" stroke-width="0.5"/>
<line x1="62.4" y1="344.74" x2="63.6" y2="344.74" stroke="#333" stroke-width="0.5"/>
<line x1="121.95" y1="372.1" x2="121.95" y2="373.3" stroke="#333" stroke-width="0.5"/>
<line x1="62.4" y1="344.26" x2="63.6" y2="344.26" stroke="#333" stroke-width="0.5"/>
<line x1="122.85" y1="372.1" x2="122.85" y2="374.1" stroke="#333" stroke-width="0.5"/>
<line x1="61.6" y1="343.82" x2="63.6" y2="343.82" stroke="#333" stroke-width="0.5"/>
<line x1="128.8" y1="372.1" x2="128.8" y2="373.3" stroke="#333" stroke-width="0.5"/>
<line x1="62.4" y1="340.99" x2="63.6" y2="340.99" stroke="#333" stroke-width="0.5"/>
<line x1="132.27" y1="372.1" x2="132.27" y2="373.3" stroke="#333" stroke-width="0.5"/>
<line x1="62.4" y1="339.33" x2="63.6" y2="339.33" stroke="#333" stroke-width="0.5"/>
<line x1="134.74" y1="372.1" x2="134.74" y2="373.3" stroke="#333" stroke-width="0.5"/>
<line x1="62.4" y1="338.15" x2="63.6" y2="338.15" stroke="#333" stroke-width="0.5"/>
<line x1="136.65" y1="372.1" x2="136.65" y2="373.3" stroke="#333" stroke-width="0.5"/>
<line x1="62.4" y1="337.24" x2="63.6" y2="337.24" stroke="#333" stroke-width="0.5"/>
<line x1="138.22" y1="372.1" x2="138.22" y2="373.3" stroke="#333" stroke-width="0.5"/>
<line x1="62.4" y1="336.49" x2="63.6" y2="336.49" stroke="#333" stroke-width="0.5"/>
<line x1="139.54" y1="372.1" x2="139.54" y2="373.3" stroke="#333" stroke-width="0.5"/>
<line x1="62.4" y1="335.86" x2="63.6" y2="335.86" stroke="#333" stroke-width="0.5"/>
<line x1="140.69" y1="372.1" x2="140.69" y2="373.3" stroke="#333" stroke-width="0.5"/>
<line x1="62.4" y1="335.31" x2="63.6" y2="335.31" stroke="#333" stroke-width="0.5"/>
<line x1="141.7" y1="372.1" x2="141.7" y2="373.3" stroke="#333" stroke-width="0.5"/>
<line x1="62.4" y1="334.83" x2="63.6" y2="334.83" stroke="#333" stroke-width="0.5"/>
<text x="64.5" y="379.2" font-size="5.6" text-anchor="middle" fill="#444">10<tspan font-size="4.5" dy="-2.2">0</tspan></text>
<text x="84.25" y="379.2" font-size="5.6" text-anchor="middle" fill="#444">10<tspan font-size="4.5" dy="-2.2">1</tspan></text>
<text x="104" y="379.2" font-size="5.6" text-anchor="middle" fill="#444">10<tspan font-size="4.5" dy="-2.2">2</tspan></text>
<text x="123.75" y="379.2" font-size="5.6" text-anchor="middle" fill="#444">10<tspan font-size="4.5" dy="-2.2">3</tspan></text>
<text x="143.5" y="379.2" font-size="5.6" text-anchor="middle" fill="#444">10<tspan font-size="4.5" dy="-2.2">4</tspan></text>
<ellipse cx="122.2" cy="343.2" rx="8.3" ry="5" fill="none" stroke="#000" stroke-width="0.7"/>
<path d="M102.3 349.9 L112.4 345.3 L116 350.4 L113.3 358.2 L106.4 356.8 Z" fill="none" stroke="#000" stroke-width="0.7"/>
<path d="M118.4 350.4 L124.8 350.8 L127.6 354.5 L126.2 358.6 L118.4 358.6 Z" fill="none" stroke="#000" stroke-width="0.7"/>
<text x="132.1" y="342.3" font-size="4.6" fill="#444">R3</text>
<text x="128.7" y="357.7" font-size="4.2" fill="#444">R5</text>
<path d="M185.4 365.5h.8M178.3 357.4h.8M184.1 362.9h.8M180.6 343.6h.8M179.1 359.7h.8M185 364.2h.8M159.9 359.2h.8M176 365.4h.8M181.9 349.4h.8M178.5 368.9h.8M157.4 365.1h.8M154.8 361.5h.8M180 369.7h.8M174.5 361.1h.8M161.3 367.1h.8M159.8 366.1h.8M159 367.6h.8M183.8 357.5h.8M156 370.8h.8M204.4 351.4h.8M157.9 364.3h.8M179 347.2h.8M201.3 336.5h.8M194.7 340.5h.8M198.9 335.1h.8M170 359.6h.8M176.3 365.2h.8M160.3 369.3h.8M171.2 366.2h.8M185.4 367.1h.8M175.2 369.7h.8M168.2 364.6h.8M176.3 370.6h.8M197.3 339.6h.8M167.4 368.3h.8M176.6 360.7h.8M169.8 366.8h.8M200.5 340.6h.8M197.5 343.1h.8M157.4 360.6h.8M178.7 365.9h.8M168 368.9h.8M161.3 369.7h.8M203.5 346.5h.8M179.5 364.1h.8M185 344.7h.8M156.7 362.2h.8M187.5 358.7h.8M173.8 361.8h.8M172.6 370.8h.8M187.7 370.7h.8M190.6 336.3h.8M197.5 366.4h.8M174.2 364.7h.8M171 354.8h.8M156 364.4h.8M155.8 366.4h.8M166.5 357.5h.8M168.8 365.8h.8M197.6 350.1h.8M168.5 361.7h.8M165.2 366.8h.8M172 360h.8M196.4 348.9h.8M185 368.9h.8M170 352.6h.8M162.1 358.3h.8M184 346h.8M155.9 347.7h.8M183.4 366.2h.8M186 350.8h.8M178.4 347.4h.8M188.9 350.6h.8M171.9 352.4h.8M182.6 368h.8M177.4 356.7h.8M164.1 370.7h.8M159.8 361.1h.8M179.7 363.2h.8M157.3 362.5h.8M182.4 358.6h.8M186.2 370.4h.8M179.4 362.6h.8M155.8 370.8h.8M155.5 367.6h.8M165.4 370.6h.8M165.9 357.6h.8M164.8 370.3h.8M170 367.6h.8M201.3 338h.8M181.6 345.4h.8M187.8 353.1h.8M165.3 367.3h.8M174 352.6h.8M174.2 368.2h.8M168.6 356.3h.8M187.9 342.5h.8M164.3 366h.8M177.3 360.8h.8M182.1 345.6h.8M177.4 346.9h.8M180.8 362.9h.8M186.4 366.8h.8M183.1 361.5h.8M173.2 364.9h.8M193.2 356h.8M173.3 355.1h.8M198 342.2h.8M189.8 352h.8M162.3 343.7h.8M164.6 363.2h.8M184.4 368.4h.8M186.4 359.1h.8M175.1 356.5h.8M169.4 368.7h.8M163.1 362.6h.8M159.9 362.5h.8M181.1 345.4h.8M190.3 341.3h.8M186.1 351.8h.8M181.5 361.9h.8M188.3 355.1h.8M170.4 365h.8M199.5 339.5h.8M173.4 367.4h.8M178.9 368.1h.8M203.4 340h.8M177.5 367h.8M163.5 355.9h.8M157.8 355.8h.8M162.7 356h.8M194.4 352.2h.8M161.7 366.9h.8M165.9 359.9h.8M164.7 363.3h.8M157.9 369.4h.8M164.1 370.2h.8M156.6 362.8h.8M163.3 359h.8M185.4 366.5h.8M167.6 370.7h.8M165.2 369.9h.8M204.2 336.4h.8M172.8 357.2h.8M168.5 362h.8M176.1 343.6h.8M184.7 364.5h.8M184.1 355.5h.8M157.6 342.6h.8M186.3 367h.8M182.7 361.7h.8M188.4 355.6h.8M174.3 362.8h.8M184.1 364.5h.8M189.3 360.9h.8M170.8 369.2h.8M156.6 365.2h.8M155.8 370.8h.8M185.1 357.7h.8M165.3 370h.8M185.5 370.7h.8M178.2 360.6h.8M182.6 338h.8M176.2 364.4h.8M160 366.2h.8M182.1 364.3h.8M177.4 371.1h.8M160 363.9h.8M184.9 347.7h.8M160.6 370.7h.8M169.8 368.3h.8M181.8 359.5h.8M177.3 343.1h.8M170 369.7h.8M160.8 340.9h.8M159.3 365.5h.8M163.7 369.9h.8M178 360.1h.8M185.1 368.3h.8M167.8 369.4h.8M172.2 370.4h.8M169.7 354.9h.8M173.8 360.7h.8M180.8 360.6h.8M179.4 357.3h.8M201.3 358.2h.8M183.5 362.4h.8M176.1 354.4h.8M177.6 364.2h.8M173.4 367h.8M170.8 368h.8M191 346.9h.8M191.2 357.1h.8M154.3 360.9h.8M185.4 367.8h.8M172.2 353.3h.8M168.5 359.2h.8M155.9 368.1h.8M160.9 360.8h.8M167.9 362.8h.8M177.4 356h.8M179.3 364h.8M203.6 335.1h.8M191.6 341.8h.8M156.7 367h.8M163.7 368h.8M175 371.1h.8M156.5 367.7h.8M200 343.8h.8M200.3 349.7h.8M175.7 357.2h.8M172.8 370.1h.8M181.7 369.4h.8M188 362.5h.8M171 354h.8M172 367h.8M170.8 354.2h.8M199 341.4h.8M188.8 367.7h.8M174.2 369h.8M166.8 362.8h.8M174 369.1h.8M184.2 370.2h.8M171.5 367.7h.8M165.4 356.2h.8M158.7 370.5h.8M171.7 359.7h.8M173.4 354.1h.8M183.6 351.7h.8M191.4 362.7h.8M191.4 364.9h.8M199 335.3h.8M165.3 367.5h.8M169.8 365.6h.8M195.8 344.1h.8M191.2 348.5h.8M175.8 361.4h.8M155.6 361.3h.8M181.3 353.4h.8M179.3 364.7h.8M184.7 367.7h.8M156.8 369.9h.8M180.8 366.8h.8M197.3 358.7h.8M206.3 335.4h.8M171.2 365.9h.8M157.1 359.8h.8M178.2 371.1h.8M158 367.4h.8M199.3 351.3h.8M191.5 357.1h.8M190.3 365h.8M163 369.8h.8M187.7 353.2h.8M193.1 354.6h.8M171.4 349.2h.8M181.7 357.9h.8M172.5 367h.8M182.8 354h.8M158.3 369.2h.8M184.3 370.6h.8M168 364.5h.8M177.8 346.3h.8M163.8 363.8h.8M183.6 351.2h.8M184.5 352.8h.8M164.3 366.5h.8M176.9 362.2h.8M168.5 345.3h.8M180.6 358.5h.8M163 354.7h.8M179.5 363.8h.8M163.6 360h.8M205.3 344.7h.8M170.5 351h.8M185.8 359.2h.8M198.2 336.7h.8M196.5 339.5h.8M164.4 354.4h.8M155.9 368.1h.8M165.6 360.3h.8M192.5 349.2h.8M163.3 367h.8M196.5 343.8h.8M203.1 344.3h.8M177.1 366.8h.8M192.7 367.7h.8M189.8 369.8h.8M159 367h.8M174.6 361.5h.8M178.2 359.8h.8M170.7 366.2h.8M166.9 361h.8M193.5 370.7h.8M175.6 351.6h.8M192 353.8h.8M158 367.1h.8M170.1 359.7h.8M174.7 349.1h.8M176 365.4h.8M192.8 369.8h.8M184.6 355.1h.8M167.8 356.5h.8M165.7 366.2h.8M169.9 349.6h.8M156.3 359.3h.8M205.1 336.1h.8M189.4 370h.8M165.4 369.6h.8M182.1 359.9h.8M186.2 361.3h.8M202.7 355h.8M158.7 367.6h.8M159.8 352.2h.8M172.7 366.7h.8M170.2 365.9h.8M177.3 365.6h.8M157.1 366.3h.8M182.5 369.7h.8M189 359.7h.8M155.2 365.7h.8M187.4 352.1h.8M180.1 344.3h.8M173 363.1h.8M158.1 363.8h.8M180.5 359.8h.8M192 350.7h.8M196.5 351.7h.8M182.7 349.7h.8M190.3 349.5h.8M169 361.8h.8M179 361.5h.8M176.2 368.1h.8M184.3 345.5h.8M160 368h.8M175.4 356.6h.8M161.9 365.8h.8M183.1 357.8h.8M177.4 345h.8M178 342h.8M202.5 359.8h.8M170.3 369.4h.8M195.5 338.8h.8M188.4 370.8h.8M167.6 362.3h.8M168.1 357.9h.8M174.9 361.7h.8M166.2 355.5h.8M157.8 361.4h.8M161.6 363.4h.8M171.2 358.6h.8M157.5 364h.8M178.3 357.1h.8M180.1 369.1h.8M159.2 358.6h.8M163 370.9h.8M176.8 364h.8M186.1 365.5h.8M183.4 370.9h.8M205 342.5h.8M173.5 357.7h.8M207.8 337.7h.8M170.3 365.8h.8M168.8 348.4h.8M182.2 356.8h.8M166.3 370.1h.8M183.1 354.3h.8M161.1 358h.8M191.7 352.6h.8M179.6 355.8h.8M198.7 341.8h.8M180.4 356.6h.8M209.9 337.3h.8M173.7 360.8h.8M156.1 368h.8M192.2 360.6h.8M170.8 351.2h.8M155.1 364.3h.8M180.8 335.8h.8" stroke="#4a4a4a" stroke-width="0.8" stroke-opacity="0.75" filter="url(#bl)"/>
<path d="M175.4 364.8h.9M188.1 364.8h.9M168.3 364.8h.9M188.7 367.3h.9M177 363.6h.9M188.8 366.6h.9M160 366.7h.9M170.7 363.5h.9M172.2 363.9h.9M160.9 364.2h.9M166.5 366.1h.9M162.1 363.9h.9M158.5 367.8h.9M175.1 364.4h.9M191.6 370.5h.9M165.1 366.3h.9M177.1 361h.9M157.7 365.4h.9M167.1 365.9h.9M175 365h.9M175.8 361.4h.9M176.8 360.8h.9M168.6 365.5h.9M159.5 364h.9M157.4 366.4h.9M165.7 366.3h.9M155.8 367.6h.9M167 366.3h.9M156.5 365.9h.9M181.1 362.4h.9M188.4 366h.9M191.3 369.8h.9M174.4 362.6h.9M180.6 362h.9M176.5 363.7h.9M155.7 367.2h.9M160.6 364.4h.9M155.7 367h.9M191.3 369.9h.9M165.8 368h.9M165.8 367.4h.9M154.3 362.7h.9M184.2 363.2h.9M169.5 365.6h.9M166.9 364.1h.9M190.1 366.4h.9M159.8 365.8h.9M162.7 367.9h.9M183.4 363.1h.9M173.3 363.7h.9M166.8 364.7h.9M176.7 362.3h.9M167.3 365.8h.9M169.7 363.9h.9M181.8 363.1h.9M157.4 368.1h.9M179.6 361.7h.9M183.9 362.6h.9M174.3 363.9h.9M183.9 365.5h.9M189.9 365.8h.9M187.7 365h.9M180.9 361.6h.9M155.3 366.8h.9M161.6 364.2h.9M178.7 362.7h.9M163.2 363.4h.9M174 363.7h.9M185.1 360.8h.9M187 366.6h.9M157.8 365.6h.9M154.6 363.8h.9M167.7 366.5h.9M158.3 365.4h.9M165.2 365.3h.9M166.5 366.6h.9M160.2 367h.9M184.3 363.4h.9M154.8 363.4h.9M164 364.5h.9M178.1 363.1h.9M175.6 360.6h.9M187.1 364.7h.9M161.7 368.3h.9M189.4 366.3h.9M165.4 365.7h.9M180.8 361.5h.9M158.4 366.8h.9M155.9 361.6h.9M162.4 363.8h.9M181.6 364.5h.9M170.7 364.6h.9M184.4 364.6h.9M158.3 366.6h.9M185.4 363.7h.9M175.4 365h.9M154.2 368h.9M163.5 365.8h.9M171.6 361.2h.9M155.8 364.4h.9M156.3 365.6h.9M178.2 361h.9M191.4 369.6h.9M183.1 363.7h.9M191.2 370.6h.9M183.6 364h.9M186.2 358.7h.9M172.8 365.6h.9M187.1 365.5h.9M161.6 365.3h.9M188.4 366.3h.9M183.8 363.2h.9M180.5 360.6h.9M163.3 366h.9M158.9 364.4h.9M165.2 366.6h.9M158.1 366.6h.9M182.5 359.3h.9M173.7 364.8h.9M188.7 365.2h.9M188.1 364.9h.9M188.5 363.9h.9M188.9 367.5h.9M159.1 363.7h.9M162.3 365.9h.9M171.6 365.8h.9M155.7 364.4h.9M173.9 365.7h.9M178.1 358.7h.9M187.7 367.6h.9M187.4 362.6h.9M166 367.1h.9M189.1 367.8h.9M187 364.4h.9M165.3 365.8h.9M175.4 363.9h.9M165.8 361.8h.9M179.6 359h.9M158.1 364.9h.9M166.1 363.6h.9M180.7 362.7h.9M187.7 364h.9M178.5 362.8h.9M156.9 364.1h.9M181.8 362.4h.9M168.3 367.1h.9M172.9 365.5h.9M187.6 365.8h.9M189.5 369.5h.9M179.5 364.3h.9M159.4 366.2h.9M157 366.5h.9M164 367.6h.9M177.4 362.3h.9M164.2 365.7h.9M184.2 364.7h.9M167.8 365.4h.9M170.6 364.5h.9M177.9 361.5h.9M158.3 366.7h.9M183.4 363.2h.9M188.6 368.2h.9M191.4 370.5h.9M186.7 365.5h.9M154.7 366.2h.9M189.5 368.3h.9M183.1 363.7h.9M183.8 360.6h.9M178 362.3h.9M167.7 365.7h.9M179.8 362.8h.9M160.4 367.3h.9M177.1 361.8h.9M181.9 363.2h.9M182.2 364.5h.9M178.1 363h.9M167.9 366.5h.9M184.4 362.3h.9M166.5 365.6h.9M159.3 366.3h.9M178 361.8h.9M180.5 363.1h.9M172.5 363.8h.9M178.4 364h.9M173.5 362.5h.9M182.5 363.1h.9M162.7 366.1h.9M170.8 364.9h.9M191.3 370.7h.9M165.7 364.8h.9M159.8 366h.9M191.3 369.6h.9M159.3 364.2h.9M190.3 370.4h.9M165.4 365.3h.9M180.1 360.3h.9M174.4 360.2h.9M173.3 363.4h.9M172.5 364.4h.9M171.1 364.6h.9M156.6 364.9h.9M173.2 363.2h.9M183.8 363.7h.9M162.9 364.8h.9M174.4 360.6h.9M186.4 364.3h.9M185.5 361.9h.9M178.6 362.4h.9M164.6 367.1h.9M163.4 367.8h.9M159.1 368.5h.9M154.4 366.8h.9M155.7 365.3h.9M162.7 362.3h.9M190.7 367.6h.9M158 367.6h.9M157.9 368.9h.9M180.9 363.3h.9M157.1 367.7h.9M159.6 364.7h.9M179.8 364.5h.9M189.5 364.8h.9M184.1 361.7h.9M174.6 363.3h.9M175.1 363h.9M167.9 364.1h.9M171.9 362.2h.9M190.9 368.2h.9M167 365h.9M172.8 365.4h.9M186.4 364.3h.9M175.5 362.5h.9M175 364.6h.9M183.7 361.1h.9M175.9 361.8h.9M179.5 363.7h.9M182.4 362.6h.9M175.8 362.8h.9M190.7 367.2h.9M171.2 362h.9M169.8 365.3h.9M184.9 364.3h.9M159.4 368.1h.9M176.2 361h.9M180.4 359.5h.9M169.4 365.5h.9M178.3 362.6h.9M169.4 365.4h.9M188.4 363.9h.9M189.5 367.6h.9M183.6 362.4h.9M158.7 367.8h.9M190.6 367.8h.9M177.8 362.9h.9M176.1 361.3h.9M187.9 365.3h.9M189.2 365.1h.9M184.5 364.8h.9M165.9 366.5h.9M167 364.6h.9M164.1 367.7h.9M166.5 363.4h.9M185.5 361.7h.9M158 364.9h.9M177.6 363.3h.9M176.2 364.2h.9M172.1 363.7h.9M156.1 364.6h.9M190 367.9h.9M172.3 360h.9M158.4 366h.9M163.4 365.3h.9M188 364.6h.9M177.4 361.8h.9M171.5 363.9h.9M180.8 365h.9M168.8 367.3h.9M158.9 367.2h.9M187.5 363.5h.9M188.9 365.6h.9M185.4 366h.9M189.6 367.9h.9M160.9 363.7h.9M189.8 367.8h.9M176.3 363h.9M162.3 366.6h.9M156.1 365.5h.9M159 367.4h.9M156.1 367.3h.9M166.9 365.7h.9M176.3 361.6h.9M175.5 363h.9M184.6 363.8h.9M157 364.4h.9M175.6 360.1h.9M187.9 367h.9M182.6 365h.9M178.2 364.7h.9M162.8 363.4h.9M173.3 361.2h.9M155.7 366.9h.9M168.2 366.4h.9M165.7 364h.9M159.1 366.9h.9M168.4 364.7h.9M156.2 364.3h.9M167.3 366h.9M161.4 365.8h.9M191.6 366.8h.9M168.6 365.8h.9M185.1 364.9h.9M179.6 361.8h.9M166.4 365.8h.9M172.2 365.3h.9M163.9 363.9h.9M184.4 364.2h.9M174 364.4h.9M182.8 364.1h.9M159.2 366.9h.9M167.3 366.2h.9M171.3 363.4h.9M154.5 366.6h.9M177.4 357.2h.9M181.2 363.3h.9M189.8 365.4h.9M183.8 363.1h.9M181.7 363.1h.9M179.1 364.4h.9M154.6 366.4h.9M168.4 362.2h.9M178.6 364.2h.9M181 362.5h.9M170.1 364.8h.9M189.7 369h.9M178.4 363.1h.9M186.9 363.1h.9M163.4 365.1h.9M181.2 363.6h.9M166.2 366.9h.9M165.8 366.6h.9M186.1 365.6h.9M187.8 362.6h.9M165.1 365.4h.9M177.2 361.9h.9M179.3 361.4h.9M173.6 363.9h.9M182.4 361.9h.9M180.9 363.6h.9M188.2 368.1h.9M163.2 364.3h.9M156.9 365.4h.9M154.8 363.8h.9M162.2 365.1h.9M175.2 360.7h.9M160.1 365.3h.9M172.3 361.8h.9M164.5 367.3h.9M177.6 360.4h.9M155 367.8h.9M157.5 368.3h.9M160.8 366.5h.9M181.8 364.4h.9M156.3 367.7h.9M160.1 365.2h.9M182.8 363.2h.9M166.7 365.4h.9M184.9 361.5h.9M160 365.4h.9" stroke="#111" stroke-width="0.9" stroke-opacity="0.85" filter="url(#bl)"/>
<path d="M153.7 366.37 L154.4 366.45 L155.1 366.06 L155.8 366.02 L156.5 366.07 L157.2 367 L157.9 366.38 L158.6 365.7 L159.3 366.24 L160 366.76 L160.75 366.83 L161.5 365.9 L162.25 365.99 L163 365.97 L163.75 366.01 L164.5 366.39 L165.25 366.61 L166 365.75 L166.8 365.46 L167.6 365.64 L168.4 366.07 L169.2 365.66 L170 365.63 L170.8 364.51 L171.6 364.46 L172.4 365.02 L173.2 363.08 L174 362.85 L174.8 363.54 L175.6 363.71 L176.4 362.72 L177.2 362.66 L178 361.83 L178.8 362.7 L179.6 363.22 L180.4 363.07 L181.2 362.07 L182 362.98 L182.8 363.11 L183.6 363.55 L184.4 362.57 L185.2 363.14 L186 363.73 L186.75 364.69 L187.5 364.76 L188.25 364.94 L189 366.7 L190 367.16 L191 369.83 L191.75 370.97 L192.5 372.1 L153.7 372.1 Z" fill="#444" fill-opacity="1"/>
<path d="M188.7 366.7h1M181.2 365.6h1M163.2 367.7h1M182.8 363.9h1M173.1 369.1h1M171.7 367.6h1M186.4 369h1M184.8 368.5h1M157.5 369.7h1M167.8 369.5h1M188.2 370.2h1M156.4 367.6h1M179.2 366.8h1M181.1 365.3h1M190 369.2h1M163.6 368.4h1M155.3 369.6h1M154.2 370.8h1M158 370.9h1M158.5 369.5h1M184.5 366.7h1M167.7 367.6h1M172.3 368.4h1M167.1 369.7h1M171.2 367.3h1M186.3 365.8h1M171.7 365.3h1M165 370h1M159.4 367.6h1M183.9 365.3h1M161.7 368.6h1M153.9 368.7h1M165.3 368h1M162.3 367.7h1M178.4 369.8h1M169.2 368.7h1M190.2 369.2h1M162.6 368.2h1M162.8 369.4h1M182.5 369.6h1M182.5 370.4h1M186.1 364.7h1M155.8 371h1M170.6 365.3h1M171.8 369.6h1M182.6 366h1M186.1 365.6h1M181.1 369.2h1M160.1 366.8h1M183.3 364.9h1M155.9 367.8h1M178.4 365.6h1M178.6 368.4h1M158.2 368.6h1M166.7 369.2h1M154.4 369.6h1M175 368.5h1M184.7 364.1h1M177.9 370.4h1M169.5 367.5h1M177.6 368.1h1M184.7 366.1h1M168.6 367.9h1M171.4 368.4h1M162.3 370.4h1M189.7 370.3h1M155.2 369.2h1M164.6 369.9h1M174.6 367h1M182.4 364.7h1M187.2 366.9h1M162.9 370.9h1M188.5 368.1h1M167.5 369.3h1M184.9 367.8h1M183.4 363.7h1M185.9 367.5h1M177 370.9h1M168.7 370.1h1M169.8 365.7h1M162.3 369h1M177.2 365.6h1M185.5 369.8h1M173.4 371h1M169 370.1h1M154.3 369.5h1M170.6 370.2h1M155.8 369.2h1M161 367.3h1M166 370.4h1M188.7 368.8h1M182.9 370h1M164.6 369.7h1M155.4 367.8h1M177.5 366.1h1M169.4 368.8h1M163.7 368.7h1M167.8 370.6h1M175.8 363.9h1M154.7 370.5h1M183.2 367.6h1M167.9 367.8h1M162.3 367.3h1M168.3 368h1M168.9 368h1M183.8 368.4h1M163.7 366.9h1M163.7 369.2h1M190.2 371h1M163.2 367.9h1M156.2 369.5h1M169.8 368h1M171 367h1M189.2 367.5h1M173.1 367.6h1M159.1 370.8h1M186.1 367.7h1M162 368.8h1M154 370.3h1M165.2 369.3h1M163.2 366.8h1M181.3 364.6h1M170.3 368h1M177.9 370.5h1M186.6 370.8h1M162.8 366.8h1M162.7 369.3h1M184.3 370.5h1M191.2 370.7h1M184.4 370.1h1M181.9 364.2h1M171.3 365.6h1M178.5 370.8h1M188.2 368.6h1M169.2 368.3h1M179.5 368.8h1M174.8 369.1h1M169.6 366.4h1M168 370.3h1M169.1 367h1M161.7 369.9h1M178.3 365.7h1M186.4 370.7h1M175 370h1M184.6 368.9h1M169.6 367.3h1M167 370h1M181.6 365h1M156 369.3h1M177 367.7h1M185.5 368.9h1M185.5 366h1M154.7 367.8h1M180.2 369.5h1M190.7 370.6h1M170.2 369.6h1M174 367.9h1M185 364.7h1M175.6 369.3h1M167.1 369.6h1M186.3 368.5h1M176.5 368h1M168.6 367.8h1M182.1 367h1M179.6 370.6h1M181.7 367h1M166 370.8h1M189.9 369.4h1M167.9 366.9h1M184.6 369h1M170.4 369.3h1M162.2 369.3h1M163.9 366.6h1M154.3 368h1M180.3 369.3h1M168.2 366.8h1M162.8 366.7h1M157.1 367.6h1M182.2 367.9h1M162.8 370.2h1M185.9 364.1h1M173.2 369.1h1M178.5 368.5h1M154.3 370h1M178.1 364.9h1M161.6 367h1M176.2 363.9h1M178.7 364.9h1M175.2 364.3h1M169.8 368.1h1M170.7 367.8h1M155.9 369.9h1M165.8 370h1M186.4 369.9h1M183 369h1M173.5 364.9h1M188.4 366.9h1M175.9 368h1M156.2 368.5h1M189.7 370.8h1M163.9 368.7h1M154 368h1M156.1 368.3h1M157.1 370.1h1M172.2 369h1M184.2 365h1M182.8 368.8h1M176.7 368h1M190.6 370.2h1M186.5 370.9h1M175.1 368.5h1M189.9 370.9h1M182.5 366.5h1M157.4 368.7h1M156.4 369.1h1M167.1 367.4h1M175.2 371h1M160.7 369.3h1M181.3 370.3h1M155.9 367.6h1M177.4 365.9h1M156.2 370.4h1M190.5 370.5h1M154.1 369.9h1M161 366.6h1M169.9 366.6h1M157.8 367.4h1M159.4 370.9h1M176.5 366.6h1M187.1 367.3h1M185.8 369.7h1M178.8 363h1M178 369.3h1M172.2 369.9h1M186.6 370h1M185.8 369.5h1M163 370.5h1M176.8 368.4h1M184.4 365h1M190.1 370.2h1M161.1 369.8h1M188.7 368h1M168.3 370.3h1M186.1 366.8h1M167.3 370.8h1M187.2 367.3h1M163 369.4h1M191.3 371.1h1M172.7 370.8h1M184.7 368.8h1M173.9 368h1M187.3 366.5h1M154.5 367.6h1M170.3 369.8h1M189 370h1M180.4 364.2h1M168 367.1h1M188.9 369.5h1M170.3 366.5h1M177.9 370.8h1M158.7 366.9h1M167.5 368.9h1M181.4 365.6h1M159.7 370.7h1M162.1 370.7h1M181.1 363.5h1M154 369.1h1M173.5 367.4h1M191.4 370.8h1M166.5 367.3h1M173.6 368.6h1M166.7 367.3h1M158.7 368.3h1M154.8 366.9h1M165.2 367.5h1M170.9 368.3h1M178.5 366.2h1M182.9 365.7h1M163.2 367.5h1M159.2 367.9h1M185.6 370.7h1M174.6 366.5h1M170.8 365.9h1M183.4 364.9h1M165.3 367.8h1M187.4 366h1M171.9 367.4h1M165.4 370h1M163.7 366.9h1M162.5 369.6h1M156.8 368.8h1M166.4 367h1M189.2 370.7h1M158.9 367.5h1M157.6 367.7h1M159.6 367.1h1M180.8 363.7h1M189.2 368.9h1M184.1 370.4h1M190.5 370.3h1M161.9 367.8h1M171.7 368.3h1M173.1 370.2h1M178.7 365.4h1M161.1 367.5h1M169.3 368.2h1M188.4 367.9h1M159.3 369.6h1M168.6 367.6h1M185.5 366.9h1M182.9 369.9h1M163.8 366.8h1M167.2 370.2h1M183.7 370.9h1M159.7 367.6h1M191 370.6h1M189.6 370.9h1M167.8 366.1h1M170 368.9h1M162.4 371h1M164.4 367.2h1M174.2 370.1h1M180.3 364.6h1M183.6 370.1h1M160.3 370.7h1M171.4 366.8h1M187 370.8h1M167.8 367.5h1M172.1 368.3h1M180 364.3h1M179.9 365.1h1M184.9 363.9h1M166.5 369.5h1M162.5 370.5h1M167.9 371.1h1M154.8 367.2h1M173.8 371.1h1M181.7 369.4h1M176.5 367h1M179.9 370.2h1M167 366.6h1M177.4 366.4h1M177.4 367.6h1M169.9 366h1M175.3 370.7h1M159.2 367.7h1M177.7 364.9h1M190.4 370.8h1M182.8 367.4h1M176.4 365h1M155.4 369.9h1M189.5 369.1h1M186.9 368.7h1M185.3 369h1M186.4 365.4h1M170.1 369.3h1M167.9 366.1h1M157.7 370.3h1M161.9 369.9h1M170.3 367.4h1M170.4 366.3h1M183.4 365.7h1M173.1 366h1M158.4 370.5h1M155.7 371.1h1M184.2 365.6h1M157.6 368.6h1M174 369.6h1M158.4 370.8h1M183.7 367.2h1M160.9 368.6h1M170.1 368.4h1M157 370.4h1M169.4 368.9h1M179.6 363.2h1M164 368.9h1M179.2 370.3h1M181.1 367.7h1M154 367.4h1M181.7 364.1h1M174.7 364.2h1M184.8 365.7h1M157.8 367.8h1M166.3 368.3h1M171 367.8h1M156.6 366.8h1M178.4 364.6h1M185.9 366.8h1M177.8 364.2h1M169.3 367.6h1M175.1 369.4h1M180.5 369.2h1M187.8 368.2h1M173 367.9h1M154.6 367.4h1M191.2 370.9h1M181.9 368.2h1M188.7 367.2h1M163 369.4h1M185.6 366.2h1M187.8 368.2h1M176.7 365.8h1M180.2 368.3h1M171.2 368.6h1M161 370h1M172.5 366.4h1M167.4 366.5h1M191.2 370.4h1M180 368.1h1M181.9 364.8h1M159.3 370.3h1M173.4 370.7h1M176.1 367.5h1M185.5 365.8h1M165.6 370.2h1M184.5 365.5h1M159.2 366.9h1M178 370.4h1M183.6 365h1M182.1 363.7h1M158.8 368.6h1M179.7 364.9h1M166.7 369.5h1M171.2 366.9h1M157.8 369.8h1M177.2 369.8h1M155.1 369.2h1M157.4 369.3h1M156.2 370.9h1M160.5 368.2h1M166.3 370.1h1M158.1 366.9h1M187.1 367h1M180 365.6h1M168.5 370.5h1M159.7 368.6h1M184 370h1M187 367.2h1M155.5 370.2h1M179.3 369.4h1M187 369.2h1M180.2 363.2h1M164.8 368.3h1M168.2 370.2h1M186.2 367.3h1M160.7 368.5h1M155 368.5h1M156.1 368.2h1M177.7 368.9h1M163.6 370.6h1M176.3 364.8h1M181.5 369.9h1M160.2 367.1h1M169.8 370.8h1M178.6 365.2h1M174 364.5h1M155.2 370.7h1M168.2 367.3h1M181.9 368.7h1M188 370.1h1M160.5 367.6h1M185.7 365.5h1M177.7 363.8h1M188 367h1M156.5 367.9h1M168.6 368.4h1M160.2 368.2h1M167.6 367.4h1M156.7 369.3h1M162 367.9h1M157.3 367.5h1M184.6 366.2h1M178.1 368.9h1M178.8 367.4h1M158.3 367.7h1M188.6 368.9h1M188.4 366.9h1M170.7 368.4h1M170.1 368.3h1M191.3 371.1h1M167.6 371h1M168.9 368.9h1M178.1 366.3h1M181.3 370.7h1M181.1 367.2h1M172.1 366.6h1M169.9 370.1h1M175.2 366.3h1M191.3 370.8h1M183.1 365.8h1M173.4 364.9h1M175.7 365.9h1M162.8 366.8h1M163.5 370.5h1M169 367h1M166.3 369.5h1M158.7 367.8h1M183.2 364.2h1M163 368.4h1M157.7 368.7h1M155.5 369.4h1M163.1 368.4h1M187.5 365.8h1M154.8 368.2h1M176.5 365.4h1M161.6 368.1h1M182.2 367.7h1M159 370.6h1M167 369.9h1M174.4 365.1h1M178.1 368.8h1M162.3 370.7h1M164.6 369.6h1M160.8 368.9h1M175.7 367.3h1M176.1 364.4h1M186.8 369.8h1M159.6 368.7h1M157.1 369.4h1M175.7 366.8h1M161.3 369.9h1M178.4 363.9h1M166.6 370.4h1M179.2 366.7h1M160.5 370.8h1M168.7 369.6h1M178.2 363.9h1M172 366h1M170.4 367.5h1M174.6 366h1M162 367.4h1M183.1 364.6h1M173.2 368.2h1M171.2 369.2h1M190.6 370h1M170.2 365.7h1M186.3 367.9h1M164.6 370.7h1M181.3 370.2h1M154.9 367.2h1M169 366.2h1M176.6 365.4h1M183.3 368.1h1M185.1 364.9h1M161.1 369h1M161.1 369h1M180.9 368.8h1M184.3 368.5h1M175.7 368.2h1M190.6 369.6h1M162.4 368.9h1M178.9 368.4h1M177.6 367.6h1M178.8 370.4h1M173.2 369.9h1M169.8 368h1M178.4 365h1M162.7 367.2h1M157.5 370.9h1M162.2 367h1M176 370.2h1M191.4 370.9h1M180.2 369.1h1M161.5 369.2h1M169 366.6h1M181.2 364.9h1M163.2 369.7h1M165.3 369.4h1M154.3 368.2h1M158.9 369.7h1M162.8 367.4h1M155.2 367h1M180 368.2h1M154.6 367.7h1M155.9 369h1M158.1 369.6h1M159.7 367.3h1M189.4 367.6h1M161.3 370.4h1M181.4 363h1M180.6 367.4h1M177 369.9h1M169 367.5h1M165.9 367.1h1M170.4 369h1M161.6 370.5h1M179.4 369h1M162.4 367.9h1M178.4 363.7h1M156.2 369.8h1M189 369.6h1M166.3 369.2h1M178.1 366.4h1M172.2 367.2h1M158.8 369.4h1" stroke="#000" stroke-width="1" stroke-opacity="0.9" filter="url(#bl)"/>
<path d="M201.3 354.2h.8M198.6 352.2h.8M207.8 353.2h.8M203.8 355h.8M199.2 351.9h.8M199.8 353.2h.8M202.7 353.2h.8M202.3 355.2h.8M204.3 351.1h.8M202 350.7h.8M206.2 353.2h.8M208.6 353.8h.8M207.5 357.4h.8M200.3 351.5h.8M204.5 355.7h.8M198 354.7h.8M200.4 357.1h.8M200 355.6h.8M203.4 354.4h.8M202.8 352h.8M200.2 357.8h.8M204 355.3h.8M201.5 354.8h.8M193.2 349.9h.8M199 351.7h.8M201.4 355.4h.8M203.3 355.8h.8M200 352.6h.8M202.7 354h.8M203.7 352.8h.8M206.6 349.6h.8M193.2 351.2h.8M206.1 355.9h.8M202 357h.8M200.1 353.5h.8M202.2 355.6h.8M197.9 355.3h.8M206.7 352.5h.8M203.3 353.3h.8M200 351.8h.8M201.5 356.5h.8M196.2 352.1h.8M204.2 353.5h.8M200.9 352.9h.8M201.7 350.2h.8M203.2 350.5h.8M207.4 356.2h.8M196.9 350.8h.8M197.5 348.9h.8M199.5 353.2h.8M199 355.1h.8M202.5 355.5h.8M203.1 352.7h.8M204.4 355.1h.8M205.3 356.7h.8M205.5 352.3h.8M195.3 351.2h.8M202.8 355h.8M198.4 349.8h.8M201.9 354.8h.8M194.6 353.8h.8M198.1 355.3h.8M206.4 356h.8M203.9 355.7h.8M198.8 350.6h.8M197.3 351.8h.8M201.6 353.4h.8M207.3 353.8h.8M203.3 352.1h.8M197.6 353h.8M195.9 356.4h.8M199.2 351.7h.8M203.6 353.5h.8M202.9 355.5h.8M201 351.3h.8M198.4 352.2h.8M198.3 352.9h.8M203 350.3h.8M204.6 350.9h.8M195.5 354.1h.8M199.7 351.5h.8M200.1 347.5h.8M204.8 350.7h.8M204.6 355.5h.8M202.4 349.7h.8M201.7 350.2h.8M202.3 356h.8M198.4 350.2h.8M199.3 351.8h.8M202 355.4h.8M202.4 351.7h.8M200.7 353.3h.8M196.4 353.2h.8M200.9 353h.8M204.4 353.2h.8M204.1 357.9h.8M201.9 354.8h.8M196.8 353h.8M198.4 345.8h.8M202.5 354.4h.8M200.9 352.6h.8M203.3 358.1h.8M201.9 355.2h.8M201.4 352.6h.8M206.1 354.1h.8M198.1 353.5h.8M198 352.2h.8M203.5 351.6h.8M198.8 354h.8M207.1 352.5h.8M202.4 352.6h.8M201.4 353.8h.8M198.9 354.9h.8M196.4 352.2h.8M201.8 352.2h.8M193.2 351.1h.8M201.4 353h.8M206.1 353.9h.8M198 353.5h.8M194.8 349.6h.8M199.1 352.7h.8M199.7 349.9h.8M204.1 353.5h.8M199.1 353.6h.8M202.1 353.7h.8M201.8 352h.8M203.2 355.5h.8M203 355.3h.8M202 356.5h.8M198.3 353.6h.8M202.2 357.9h.8M198.3 346.7h.8M198.3 354.2h.8M201.6 355.1h.8M201 352.4h.8M197.3 357.5h.8M204.8 358.4h.8M198 352.9h.8M206.3 352.3h.8M203.6 351.6h.8M202.9 355h.8M198.5 350h.8M199.6 352.8h.8M196 354.7h.8M208.4 353.4h.8M206.1 351.6h.8M199.5 350.3h.8M199.6 354.3h.8M202.7 356.9h.8M201.6 351.6h.8M198.5 356.2h.8M201.3 353.6h.8M202.3 354.6h.8M203.5 351.5h.8M196.9 354h.8M199.9 352.1h.8M200.3 355.6h.8M200.2 356.6h.8M200.9 350.6h.8M202.3 351.3h.8M208 350.6h.8M204.2 356.7h.8M200.2 350h.8M198.8 352.7h.8M205.4 352.3h.8M198.9 352.8h.8M202.1 346.4h.8M200.6 351h.8M201.6 351.2h.8M202.3 354.3h.8M206.6 355.9h.8M200.6 353.9h.8M200.5 353h.8M207.6 356.6h.8M201.8 349.1h.8M198.6 352.4h.8M203.4 354.7h.8M205.7 359.6h.8M201.6 352.4h.8M202 353.7h.8M198.5 353.5h.8M202.6 351.4h.8M203.6 357.1h.8M203.7 354.9h.8M204.9 354.5h.8M209.5 355.8h.8M203.6 356.5h.8M201.8 350.2h.8M200.7 352.7h.8M203.8 350.5h.8M202.3 355.8h.8M202 354h.8M199.2 352.2h.8M203.9 353.4h.8M208.2 353.1h.8M200.3 346.9h.8M205.2 354h.8M204.6 351.9h.8M204.9 352.5h.8M203.9 354h.8M200.6 349.1h.8M203.2 354.2h.8M202.1 350.9h.8M199.2 351.7h.8M199.6 353.9h.8M206.4 354.4h.8M205.9 355.6h.8M205.3 355.7h.8M199.7 352.7h.8M196.8 354.6h.8M207.6 355.1h.8M202.2 355.2h.8M199.5 350.6h.8M205.3 354.2h.8M203.7 353.4h.8M197.2 351.5h.8M201.7 355.1h.8M199.3 354.4h.8M208 353.6h.8M201.5 355.3h.8M201.9 350.8h.8M200.9 352.5h.8M203.5 356.1h.8M197.7 353h.8M198.3 355.3h.8M195.4 350.5h.8M202.8 355.9h.8M199 353.2h.8M198.6 348h.8M201.9 349.8h.8M201 349.7h.8M206.1 356.2h.8M202.1 353.1h.8M199.8 352.4h.8M200.8 354h.8M199 350.1h.8M203.4 354.9h.8M202.7 351.3h.8M200.5 351.4h.8M208.6 354.6h.8M203.1 351.2h.8M204.2 353h.8M195.4 354.5h.8M199.2 353.1h.8M198.1 352.4h.8M211.8 352.6h.8M196.9 353.8h.8M193.9 353.4h.8M202.3 356.5h.8M205.8 353.4h.8M198 354.1h.8M204.2 352.9h.8M203.8 354.2h.8M199.9 345.5h.8M201 354.9h.8M201.3 348.5h.8M201.1 354.5h.8M202.6 356.9h.8M203.3 353.6h.8M203.5 350.1h.8M198.8 351.7h.8M202.6 351.7h.8M202 355.3h.8M202 357.9h.8M197.7 352.1h.8M203.3 355.3h.8M208 353.5h.8M197.1 354.8h.8M201.6 351h.8M204.7 355.6h.8M202.1 356.2h.8M194.4 357.9h.8M204.7 350.8h.8M199.6 356.3h.8M197.6 356.9h.8M200.9 352.6h.8M203.9 350.2h.8M200.9 353h.8M201.2 357.7h.8M207 351.9h.8M198.5 350.6h.8M195.3 351.5h.8M202.7 351.8h.8M202.2 350.3h.8M202.3 350.4h.8M201.4 355.3h.8M199.2 354.3h.8M204.1 353.4h.8M203.5 354.6h.8M204.4 356.9h.8M201 355h.8M199 353.7h.8M200.6 351.3h.8M198.3 351.9h.8M201.9 357.7h.8M199.6 354.6h.8M199.7 352.5h.8M206.2 351.9h.8M206.1 353h.8M206.8 350.7h.8M199.7 354.8h.8M204.2 354.6h.8M199.8 352.3h.8M196.3 352.8h.8M192 351.4h.8M207.1 357h.8M200.9 351h.8M203.3 353h.8M197.1 352.8h.8M201.8 353h.8M192.8 355h.8M201.5 348.9h.8M203 354.9h.8M196.8 351.7h.8M202.9 353.8h.8M199.2 352.5h.8M198.2 348.1h.8M195.3 352.6h.8M203.6 351.5h.8M201.9 354.1h.8M202.1 352.9h.8M199.5 351.9h.8M199.7 348.2h.8M207.5 352.2h.8M194.8 354.7h.8M205.4 356.2h.8M202.3 354.5h.8M198.2 351.8h.8M202.3 357.4h.8M204.8 349.8h.8" stroke="#111" stroke-width="0.85" stroke-opacity="0.9" filter="url(#bl)"/>
<path d="M210.1 370h.8M207.2 367.4h.8M213.6 368.4h.8M210.9 365.9h.8M207.6 368.4h.8M205.6 370.6h.8M209.5 367.2h.8M210.2 366.9h.8M208.1 368.1h.8M210.5 368.5h.8M212.2 366h.8M208.5 365.5h.8M217.6 366.6h.8M212.6 369.9h.8M211.1 365.6h.8M204 364.2h.8M204.9 363.4h.8M211.3 366.8h.8M214.6 368.4h.8M211 365.2h.8M208.3 367.7h.8M206.1 369h.8M210 368.2h.8M208.4 368.4h.8M210.8 364.4h.8M210.7 367.9h.8M210.8 363.9h.8M212.7 363.6h.8M208.5 364.2h.8M209.3 371.1h.8M209 368.1h.8M209.9 367.3h.8M210.3 370.1h.8M211.4 369h.8M213 366.2h.8M209.7 366.5h.8M207.9 368.8h.8M213.4 366.7h.8M209.1 365.6h.8M204.8 369.6h.8M211.1 366.5h.8M215.7 368.9h.8M216.1 368.5h.8M213.8 365.4h.8M210.9 364.4h.8M204.8 369.6h.8M209.7 363.2h.8M211.9 366.3h.8M211.3 366.3h.8M212.4 369.6h.8M206.1 365.8h.8M209.7 366h.8M208.7 370.7h.8M210.3 367.5h.8M212.6 367.4h.8M213.7 371h.8M216.1 366.9h.8M211.7 364.4h.8M208.9 364.3h.8M212.9 368.3h.8M208.4 365.2h.8M211.9 367.5h.8M206.4 367.7h.8M215.3 369.8h.8M214.7 366.8h.8M209.2 369.8h.8M210.7 368.7h.8M211.8 371.1h.8M207.9 365h.8M211.1 366.6h.8M209.6 367h.8M210.4 365.8h.8M214.9 369.3h.8M212.7 364.6h.8M208.4 366.8h.8M214.1 368.9h.8M214.2 367.6h.8M212.5 365.5h.8M210.5 367.1h.8M208.3 368.3h.8M211.5 365.8h.8M208.4 368h.8M209.1 367.8h.8M204.4 366.8h.8M207.5 365.1h.8M213.9 370.6h.8M213.3 365.6h.8M208.6 367.8h.8M210.7 367.9h.8M215.3 367.2h.8M207.3 370.9h.8M214.1 362.3h.8M214.4 365.9h.8M207.3 367h.8M207.2 369.2h.8M207.5 370.7h.8M215 371h.8M213.6 367h.8M211.3 366.8h.8M213.1 371.2h.8M210.2 365.1h.8M211.9 366.5h.8M207.6 366.4h.8M207.6 366.2h.8M209.9 368.8h.8M212.4 365.2h.8M214.8 365.8h.8M208.9 370.4h.8M206.3 368.3h.8M211.2 369.6h.8M210.1 368.6h.8M210.7 365.9h.8M208.9 370.7h.8M210.5 364.1h.8M212.4 370.7h.8M208.2 370.7h.8M210 368h.8M211.7 369.3h.8M216.5 368.3h.8M214.2 368.1h.8M211.6 368.2h.8M208.1 368.2h.8M204.6 362.1h.8M209.7 364.8h.8M209.2 368.6h.8M213.8 368.7h.8M212 365.9h.8M212.6 365.1h.8M206.6 367h.8M211.3 369.2h.8M208.3 367.5h.8M206.3 366.9h.8M211.8 367.9h.8M213.6 368.4h.8M212.8 369.2h.8M213.7 370.5h.8M208.7 368.2h.8M213.7 361.1h.8M204.9 369.5h.8M212.3 368.8h.8M209.4 368.4h.8M207.9 369.6h.8M214.3 365.9h.8M212.8 365.8h.8M211.3 368.1h.8M216.5 369h.8M209.4 368.8h.8M211.4 362.6h.8M212.7 363.9h.8M206.9 370h.8M212 365.1h.8M207 365.1h.8M211.5 369.4h.8M204.3 367.2h.8M210.2 368.3h.8M211.1 365.5h.8M208.1 370.3h.8M210.1 371.2h.8M212.8 367.3h.8M209.2 369.2h.8M209 369.8h.8M209.8 364.7h.8M208.2 366.2h.8M217.8 369h.8M211.9 368.3h.8M204.4 368.1h.8M210.5 365.8h.8M216.2 366.3h.8M212.5 364.1h.8M213.2 366.1h.8M209.2 368h.8M210.8 369.4h.8M210.2 367.3h.8M216.9 370.9h.8M211.1 370.4h.8M204.4 363.3h.8M208.3 368.7h.8M216.7 367.1h.8M212 369.2h.8M210.2 369.3h.8M210.6 368.1h.8M209.6 369h.8M208.4 370.7h.8M211.6 369.3h.8M211.3 363.7h.8M211.7 367.2h.8M211.1 366.9h.8M210.4 369.9h.8M210.1 369.7h.8M209.8 368.9h.8M210.1 371.2h.8M213.3 367.7h.8M212.7 368.8h.8M208.2 363.8h.8M212.4 368.4h.8M208.8 367.6h.8M209 366.3h.8M215.4 364.7h.8M211.1 367.6h.8M208.9 367.3h.8M208.3 368.7h.8M211.2 367.1h.8M205.1 362.7h.8M209.9 366h.8M212.4 369.8h.8M207.2 366.7h.8M209.7 366.6h.8M207 363.9h.8M214.6 368h.8M210.5 370.1h.8M212.3 370h.8M209.8 366.2h.8M209.2 367.6h.8M211.7 369.4h.8M213.4 369.3h.8M208.8 367.4h.8M211.9 370.9h.8M210.9 369.1h.8M209.7 365.8h.8M209.7 368.3h.8M212.7 365.9h.8M211 370.1h.8M213.3 365.7h.8M214.3 369.3h.8M213.3 366.6h.8M206.6 370.8h.8M210.8 366.9h.8M205.1 366.9h.8M214.8 363.8h.8M212.8 371.1h.8M210.2 364.9h.8M210.4 362.1h.8" stroke="#111" stroke-width="0.85" stroke-opacity="0.9" filter="url(#bl)"/>
<path d="M210.9 353.9h.8M205.1 363.9h.8M201 363.2h.8M203 361.3h.8M202.6 356.2h.8M202.5 354.9h.8M200.3 365.5h.8M197.6 365.5h.8M212.5 354.1h.8M195.3 360.6h.8M199.6 359h.8M210.4 361.2h.8M199.1 355.7h.8M202 361.2h.8M207.6 363.5h.8M210.3 355.8h.8M200 365.7h.8M209.4 361.9h.8M207.6 368.5h.8M205.7 357h.8M206.2 368.1h.8M205.5 354.4h.8M211.6 362.9h.8M200.2 365.2h.8M203.3 361.9h.8M201.2 365.6h.8M205.9 360.7h.8M201.8 357.3h.8M197.2 363.7h.8M201.2 367h.8M201.4 364.6h.8M199.3 358.7h.8M207 368.5h.8M198 350.3h.8M204.1 365.3h.8M195.9 362.9h.8M202.8 365.2h.8M205.2 365.7h.8M205.3 358.1h.8M202.8 363.6h.8M211.2 360h.8M218.3 357.3h.8M208.9 362h.8M191.5 365.1h.8M204.4 364.9h.8M195 362.7h.8M203.6 361.3h.8M204.2 371.3h.8M206.5 358h.8M201.3 362.7h.8M211 359.2h.8M196.8 361.7h.8M207.1 367.9h.8M209 360.9h.8M208.9 355.1h.8M202.2 361h.8M190.5 359.4h.8M209.6 364.7h.8M194.1 368.3h.8M192.2 364.3h.8M207.8 358h.8M197.8 358.2h.8M201.5 360.4h.8M211.4 361.6h.8M203.1 359.3h.8M204.2 360.6h.8M205.5 360.3h.8M208.8 361.9h.8M211.1 367.4h.8M198.9 366h.8M201.4 358.6h.8M189.3 364.4h.8M224.5 364h.8M206.9 357.6h.8M198.8 362h.8M209.5 356.2h.8M199 363.1h.8M202.7 362h.8M202.3 361.1h.8M197.1 357.7h.8M201.4 363.4h.8M205 357.7h.8M205.6 360.1h.8M207.2 360.8h.8M191.4 359.3h.8M191.9 358.1h.8M200.4 365h.8M208.3 359h.8M198.3 364.5h.8M203.3 368.8h.8M201.7 363.8h.8M212 364.2h.8M213.4 367.5h.8M198.8 360.8h.8M196.8 363.6h.8M209.6 360.9h.8M198.3 360.6h.8M195.6 362.5h.8M203.9 367.3h.8M201.6 359.4h.8M201.5 369.9h.8M203 367.8h.8M198.8 355h.8M207.3 365h.8M205.5 367.4h.8M201.3 355.1h.8M213.5 363.6h.8M203.5 354h.8M198.4 362h.8M202.4 360.8h.8M210.9 352.7h.8M213.4 357.2h.8M207.4 355.8h.8M204.2 354.7h.8M204.2 364.6h.8M213.8 362h.8M197.7 357.6h.8M207.6 362.1h.8M193 369.6h.8M199.1 368.4h.8M201 352h.8M199.3 364.1h.8M186.4 362.5h.8M205.9 364.1h.8M205.6 368.5h.8M215.7 364.7h.8M213 356.9h.8M211.6 369.9h.8M201.6 365.1h.8M207 360.9h.8M204.9 355.5h.8M207.5 359.3h.8M209.4 363.7h.8M194.6 361.5h.8M189.7 359.7h.8M209.1 357.5h.8M197.4 368.2h.8M200.6 363.2h.8M202.6 353.1h.8M192.3 358.7h.8M186.7 356.6h.8M206 360.9h.8M194.8 363.4h.8M209.9 357.6h.8M204 363.8h.8M203.5 367.7h.8M201.8 360.8h.8M197.1 368h.8M205 365h.8M210.8 362.6h.8M198.4 367.4h.8M203.5 367.5h.8M205.9 359.9h.8M196.8 362.4h.8M202.5 352.3h.8M202 367.9h.8M198.1 357.9h.8M194.8 368.4h.8M200.3 350h.8M204.8 361h.8M199.3 354.6h.8M196.1 361.2h.8M204.7 360h.8M199.4 369.2h.8M198.5 370h.8M204.7 355.4h.8M201.1 358.4h.8M209.7 356.7h.8M193.5 370.7h.8M194.8 369.3h.8M193.4 359.9h.8M205.6 356.9h.8M201.3 361.1h.8M203 363.6h.8M201.3 353.5h.8M197.8 366.4h.8M212.8 365.5h.8M205.9 361.7h.8M202.8 360h.8M201.6 361h.8M208.5 367.5h.8M202.1 360.2h.8M201.2 365.1h.8M206.1 354.5h.8M207 363.7h.8M194.7 365.9h.8M211.6 353.6h.8M207.3 369.3h.8M207.5 360.1h.8M212.4 361.5h.8M194.4 357.3h.8" stroke="#3a3a3a" stroke-width="0.8" stroke-opacity="0.6" filter="url(#bl)"/>
<rect x="153.7" y="333.9" width="78.9" height="38.2" fill="none" stroke="#333" stroke-width="0.9"/>
<line x1="153.7" y1="333.9" x2="153.7" y2="372.1" stroke="#000" stroke-width="1.1"/>
<line x1="153.7" y1="372.1" x2="232.6" y2="372.1" stroke="#000" stroke-width="1.1"/>
<line x1="153.7" y1="372.1" x2="153.7" y2="374.1" stroke="#333" stroke-width="0.5"/>
<line x1="151.7" y1="372.1" x2="153.7" y2="372.1" stroke="#333" stroke-width="0.5"/>
<line x1="159.64" y1="372.1" x2="159.64" y2="373.3" stroke="#333" stroke-width="0.5"/>
<line x1="152.5" y1="369.23" x2="153.7" y2="369.23" stroke="#333" stroke-width="0.5"/>
<line x1="163.11" y1="372.1" x2="163.11" y2="373.3" stroke="#333" stroke-width="0.5"/>
<line x1="152.5" y1="367.54" x2="153.7" y2="367.54" stroke="#333" stroke-width="0.5"/>
<line x1="165.58" y1="372.1" x2="165.58" y2="373.3" stroke="#333" stroke-width="0.5"/>
<line x1="152.5" y1="366.35" x2="153.7" y2="366.35" stroke="#333" stroke-width="0.5"/>
<line x1="167.49" y1="372.1" x2="167.49" y2="373.3" stroke="#333" stroke-width="0.5"/>
<line x1="152.5" y1="365.42" x2="153.7" y2="365.42" stroke="#333" stroke-width="0.5"/>
<line x1="169.05" y1="372.1" x2="169.05" y2="373.3" stroke="#333" stroke-width="0.5"/>
<line x1="152.5" y1="364.67" x2="153.7" y2="364.67" stroke="#333" stroke-width="0.5"/>
<line x1="170.37" y1="372.1" x2="170.37" y2="373.3" stroke="#333" stroke-width="0.5"/>
<line x1="152.5" y1="364.03" x2="153.7" y2="364.03" stroke="#333" stroke-width="0.5"/>
<line x1="171.51" y1="372.1" x2="171.51" y2="373.3" stroke="#333" stroke-width="0.5"/>
<line x1="152.5" y1="363.48" x2="153.7" y2="363.48" stroke="#333" stroke-width="0.5"/>
<line x1="172.52" y1="372.1" x2="172.52" y2="373.3" stroke="#333" stroke-width="0.5"/>
<line x1="152.5" y1="362.99" x2="153.7" y2="362.99" stroke="#333" stroke-width="0.5"/>
<line x1="173.42" y1="372.1" x2="173.42" y2="374.1" stroke="#333" stroke-width="0.5"/>
<line x1="151.7" y1="362.55" x2="153.7" y2="362.55" stroke="#333" stroke-width="0.5"/>
<line x1="179.36" y1="372.1" x2="179.36" y2="373.3" stroke="#333" stroke-width="0.5"/>
<line x1="152.5" y1="359.68" x2="153.7" y2="359.68" stroke="#333" stroke-width="0.5"/>
<line x1="182.84" y1="372.1" x2="182.84" y2="373.3" stroke="#333" stroke-width="0.5"/>
<line x1="152.5" y1="357.99" x2="153.7" y2="357.99" stroke="#333" stroke-width="0.5"/>
<line x1="185.3" y1="372.1" x2="185.3" y2="373.3" stroke="#333" stroke-width="0.5"/>
<line x1="152.5" y1="356.8" x2="153.7" y2="356.8" stroke="#333" stroke-width="0.5"/>
<line x1="187.21" y1="372.1" x2="187.21" y2="373.3" stroke="#333" stroke-width="0.5"/>
<line x1="152.5" y1="355.87" x2="153.7" y2="355.87" stroke="#333" stroke-width="0.5"/>
<line x1="188.77" y1="372.1" x2="188.77" y2="373.3" stroke="#333" stroke-width="0.5"/>
<line x1="152.5" y1="355.12" x2="153.7" y2="355.12" stroke="#333" stroke-width="0.5"/>
<line x1="190.09" y1="372.1" x2="190.09" y2="373.3" stroke="#333" stroke-width="0.5"/>
<line x1="152.5" y1="354.48" x2="153.7" y2="354.48" stroke="#333" stroke-width="0.5"/>
<line x1="191.24" y1="372.1" x2="191.24" y2="373.3" stroke="#333" stroke-width="0.5"/>
<line x1="152.5" y1="353.93" x2="153.7" y2="353.93" stroke="#333" stroke-width="0.5"/>
<line x1="192.25" y1="372.1" x2="192.25" y2="373.3" stroke="#333" stroke-width="0.5"/>
<line x1="152.5" y1="353.44" x2="153.7" y2="353.44" stroke="#333" stroke-width="0.5"/>
<line x1="193.15" y1="372.1" x2="193.15" y2="374.1" stroke="#333" stroke-width="0.5"/>
<line x1="151.7" y1="353" x2="153.7" y2="353" stroke="#333" stroke-width="0.5"/>
<line x1="199.09" y1="372.1" x2="199.09" y2="373.3" stroke="#333" stroke-width="0.5"/>
<line x1="152.5" y1="350.13" x2="153.7" y2="350.13" stroke="#333" stroke-width="0.5"/>
<line x1="202.56" y1="372.1" x2="202.56" y2="373.3" stroke="#333" stroke-width="0.5"/>
<line x1="152.5" y1="348.44" x2="153.7" y2="348.44" stroke="#333" stroke-width="0.5"/>
<line x1="205.03" y1="372.1" x2="205.03" y2="373.3" stroke="#333" stroke-width="0.5"/>
<line x1="152.5" y1="347.25" x2="153.7" y2="347.25" stroke="#333" stroke-width="0.5"/>
<line x1="206.94" y1="372.1" x2="206.94" y2="373.3" stroke="#333" stroke-width="0.5"/>
<line x1="152.5" y1="346.32" x2="153.7" y2="346.32" stroke="#333" stroke-width="0.5"/>
<line x1="208.5" y1="372.1" x2="208.5" y2="373.3" stroke="#333" stroke-width="0.5"/>
<line x1="152.5" y1="345.57" x2="153.7" y2="345.57" stroke="#333" stroke-width="0.5"/>
<line x1="209.82" y1="372.1" x2="209.82" y2="373.3" stroke="#333" stroke-width="0.5"/>
<line x1="152.5" y1="344.93" x2="153.7" y2="344.93" stroke="#333" stroke-width="0.5"/>
<line x1="210.96" y1="372.1" x2="210.96" y2="373.3" stroke="#333" stroke-width="0.5"/>
<line x1="152.5" y1="344.38" x2="153.7" y2="344.38" stroke="#333" stroke-width="0.5"/>
<line x1="211.97" y1="372.1" x2="211.97" y2="373.3" stroke="#333" stroke-width="0.5"/>
<line x1="152.5" y1="343.89" x2="153.7" y2="343.89" stroke="#333" stroke-width="0.5"/>
<line x1="212.88" y1="372.1" x2="212.88" y2="374.1" stroke="#333" stroke-width="0.5"/>
<line x1="151.7" y1="343.45" x2="153.7" y2="343.45" stroke="#333" stroke-width="0.5"/>
<line x1="218.81" y1="372.1" x2="218.81" y2="373.3" stroke="#333" stroke-width="0.5"/>
<line x1="152.5" y1="340.58" x2="153.7" y2="340.58" stroke="#333" stroke-width="0.5"/>
<line x1="222.29" y1="372.1" x2="222.29" y2="373.3" stroke="#333" stroke-width="0.5"/>
<line x1="152.5" y1="338.89" x2="153.7" y2="338.89" stroke="#333" stroke-width="0.5"/>
<line x1="224.75" y1="372.1" x2="224.75" y2="373.3" stroke="#333" stroke-width="0.5"/>
<line x1="152.5" y1="337.7" x2="153.7" y2="337.7" stroke="#333" stroke-width="0.5"/>
<line x1="226.66" y1="372.1" x2="226.66" y2="373.3" stroke="#333" stroke-width="0.5"/>
<line x1="152.5" y1="336.77" x2="153.7" y2="336.77" stroke="#333" stroke-width="0.5"/>
<line x1="228.22" y1="372.1" x2="228.22" y2="373.3" stroke="#333" stroke-width="0.5"/>
<line x1="152.5" y1="336.02" x2="153.7" y2="336.02" stroke="#333" stroke-width="0.5"/>
<line x1="229.54" y1="372.1" x2="229.54" y2="373.3" stroke="#333" stroke-width="0.5"/>
<line x1="152.5" y1="335.38" x2="153.7" y2="335.38" stroke="#333" stroke-width="0.5"/>
<line x1="230.69" y1="372.1" x2="230.69" y2="373.3" stroke="#333" stroke-width="0.5"/>
<line x1="152.5" y1="334.83" x2="153.7" y2="334.83" stroke="#333" stroke-width="0.5"/>
<line x1="231.7" y1="372.1" x2="231.7" y2="373.3" stroke="#333" stroke-width="0.5"/>
<line x1="152.5" y1="334.34" x2="153.7" y2="334.34" stroke="#333" stroke-width="0.5"/>
<text x="154.6" y="379.2" font-size="5.6" text-anchor="middle" fill="#444">10<tspan font-size="4.5" dy="-2.2">0</tspan></text>
<text x="174.32" y="379.2" font-size="5.6" text-anchor="middle" fill="#444">10<tspan font-size="4.5" dy="-2.2">1</tspan></text>
<text x="194.05" y="379.2" font-size="5.6" text-anchor="middle" fill="#444">10<tspan font-size="4.5" dy="-2.2">2</tspan></text>
<text x="213.78" y="379.2" font-size="5.6" text-anchor="middle" fill="#444">10<tspan font-size="4.5" dy="-2.2">3</tspan></text>
<text x="233.5" y="379.2" font-size="5.6" text-anchor="middle" fill="#444">10<tspan font-size="4.5" dy="-2.2">4</tspan></text>
<ellipse cx="211.6" cy="342.6" rx="8.7" ry="5.3" fill="none" stroke="#000" stroke-width="0.7"/>
<path d="M192.3 349 L200.1 345.6 L210.7 350.8 L208.8 357.3 L196.9 356.3 Z" fill="none" stroke="#000" stroke-width="0.7"/>
<path d="M210 352 L217 352 L217.3 358.2 L211 358.8 Z" fill="none" stroke="#000" stroke-width="0.7"/>
<text x="212.8" y="347.3" font-size="3.6" fill="#333">R2</text>
<path d="M96.2 405.1h.8M75.8 417.9h.8M97 406.1h.8M63.4 428.7h.8M78.9 406.4h.8M73.7 424.1h.8M73.1 422h.8M89.7 422h.8M74.2 423.3h.8M81.9 412.6h.8M78.9 427.9h.8M64.4 418.4h.8M82.7 422.2h.8M88.7 406.8h.8M95.6 399.1h.8M98.4 423.6h.8M82.3 410.4h.8M77 413.7h.8M96.2 425.8h.8M68.3 419.5h.8M85.8 413.6h.8M72.6 425.1h.8M77.8 412.1h.8M102.9 426.9h.8M89.1 424.1h.8M79.3 413.4h.8M98.7 427.6h.8M89.4 412.5h.8M106.4 405.6h.8M82.4 426.4h.8M66.6 427.9h.8M72.6 415.3h.8M87.3 409.7h.8M82.4 417.6h.8M66.6 424.1h.8M66.9 424.8h.8M100.4 427.2h.8M84.1 414.2h.8M99.5 424.6h.8M125.5 398.2h.8M76.4 417.8h.8M63.7 422.4h.8M80 426.6h.8M73.4 425.5h.8M67.2 418.4h.8M67.3 409.5h.8M66.2 421.4h.8M76.2 418.7h.8M78.3 424.8h.8M106.8 425.7h.8M80.4 410h.8M98.4 406.3h.8M74.9 422.1h.8M87.8 428.5h.8M69.6 422.7h.8M99.5 424.9h.8M95.3 419h.8M90.8 407.3h.8M84.1 416.4h.8M109.2 423.7h.8M114 396.9h.8M90.9 408.2h.8M66.9 415.3h.8M111.6 398.9h.8M109.5 406h.8M67.8 419.9h.8M105.2 427.1h.8M87.9 408.4h.8M80.7 409.5h.8M100.9 427.1h.8M63.5 422.2h.8M88.8 405.7h.8M96.7 425.8h.8M88.7 417.6h.8M106.2 422.4h.8M98.7 422h.8M67.7 417.5h.8M91.1 404.4h.8M90.5 404.1h.8M110.2 397.8h.8M88.9 428h.8M89.1 420.9h.8M109.8 396.1h.8M68.4 412.7h.8M64.9 423.1h.8M95.2 397.5h.8M88.8 400.4h.8M64.9 423.5h.8M82.2 415.6h.8M74.7 422.8h.8M81.2 420.3h.8M103.5 422.4h.8M69.2 411.1h.8M84.5 403.5h.8M72.9 422.9h.8M91.1 407.8h.8M96.7 422h.8M104.9 428.3h.8M112.7 407.8h.8M85.5 419h.8M92.1 419.6h.8M89.3 420.2h.8M73.1 425.1h.8M94 413.5h.8M106.1 402.9h.8M81.1 421.1h.8M95.4 417.3h.8M90.7 412.9h.8M70.5 424.2h.8M94.9 419.4h.8M100.8 416.9h.8M111.1 395.7h.8M103 423h.8M96.6 403.2h.8M92.9 423.3h.8M79.2 416.1h.8M114.6 400.2h.8M84.5 419h.8M66.9 400.1h.8M72.2 419.1h.8M72.3 426.2h.8M111.5 402.9h.8M94.5 427.8h.8M79.9 422.4h.8M105.5 404.8h.8M88.1 417.8h.8M94.6 421.2h.8M96.7 423.3h.8M106.3 403.4h.8M97.8 424.3h.8M70.2 414.8h.8M67.8 422.4h.8M84.3 417h.8M85.8 423.5h.8M87.9 422.9h.8M84.7 424.9h.8M75.4 417.2h.8M99.4 427.6h.8M98.4 420.8h.8M96.8 400.7h.8M86.6 411h.8M83.9 417h.8M115.8 404.8h.8M91.1 420.6h.8M76.7 415.5h.8M63.4 425.4h.8M113.7 427.4h.8M65.6 425.4h.8M75.3 422.8h.8M79.1 425.2h.8M96.3 422.9h.8M79 415.2h.8M112.2 399.7h.8M90.8 420.1h.8M89.6 411.4h.8M91.2 421.2h.8M93.3 412h.8M64.2 425h.8M105.5 397.5h.8M71.1 427.6h.8M80.5 409.4h.8M77.9 405.9h.8M86.7 427.9h.8M86.6 424h.8M102.6 425.9h.8M108.3 403.3h.8M89.2 427.1h.8M85.7 413.1h.8M88.3 410.9h.8M74.9 423.6h.8M70.1 418.4h.8M87.5 400.9h.8M78.4 426.5h.8M69.3 422.3h.8M80.5 426.7h.8M92.4 418.3h.8M71.2 415.4h.8M93.5 408.2h.8M118.1 425.2h.8M82.2 420.6h.8M93.4 403.7h.8M92.5 427.8h.8M94.4 426.6h.8M72.9 412.6h.8M88.4 416.7h.8M76.2 409.6h.8M76.8 425.1h.8M96.6 419h.8M91.5 408.2h.8M86.4 412.2h.8M76.2 418.1h.8M83.4 424.5h.8M93 410.5h.8M75.4 413.2h.8M88 421.4h.8M89.6 398.9h.8M98.8 412.9h.8M75.4 411.2h.8M83.6 421h.8M88.1 425.1h.8M95 419.2h.8M91.1 421.9h.8M104.6 421.7h.8M96.2 415.3h.8M91.3 407.9h.8M85 397.6h.8M94.9 412.5h.8M64.1 417.7h.8M104.3 423h.8M89.3 425h.8M63.3 427.1h.8M97.6 401.5h.8M74.1 420.8h.8M72 400.9h.8M80.3 427.6h.8M96.6 412h.8M74.3 426h.8M91.8 423.6h.8M69.5 422.9h.8M99.3 420.5h.8M76.5 420h.8M86.7 415.2h.8M103.4 417.9h.8M101.4 428.6h.8M77.3 404.7h.8M107.5 403.5h.8M84.6 423.9h.8M72.6 412.1h.8M79.5 421.4h.8M106.8 426.8h.8M87.2 406.6h.8M107.4 422.8h.8M70.6 425.7h.8M68.1 421.6h.8M92.3 426.9h.8M87.7 419.7h.8M98.1 407.1h.8M102.2 422.4h.8M90.9 418.3h.8M96.2 421.2h.8M93.1 426.6h.8M77.5 415.8h.8M72 422.8h.8M103.3 428.3h.8M72.3 425h.8M73.2 422.9h.8M82.5 424.2h.8M106.4 396h.8M67.5 411.6h.8M99.8 428.5h.8M87.9 407.5h.8M102.1 421.1h.8M80.3 403.2h.8M68.2 426.8h.8M110.8 418.4h.8M103 401.6h.8M64.8 424.7h.8M89.6 402.8h.8M70.1 422.9h.8M83.5 409.3h.8M92 421h.8M103.4 422.1h.8M72.5 428.7h.8M82.7 418.2h.8M77 418.7h.8M72.5 422.5h.8M124 404.1h.8M87.9 426.9h.8M101.4 399.4h.8M66.2 421.7h.8M79.5 427.7h.8M72.4 413.3h.8M82.2 425.7h.8M81.8 428.4h.8M73.8 420.7h.8M68 424h.8M90 403.6h.8M92.8 410.2h.8M84 427.9h.8M70.7 423.8h.8M87.5 413.4h.8M95 422.3h.8M68.4 422.6h.8M90.2 409.7h.8M68.3 420.4h.8M80.4 422.4h.8M95.3 418h.8M105.3 409.6h.8M70.8 403.3h.8M102.7 425.4h.8M107.8 404.4h.8M108.9 409.4h.8M109.6 396.4h.8M110.1 426.5h.8M72.8 417.1h.8M103.3 400h.8M87.9 423h.8M74.3 427.7h.8M71 420.8h.8M107.7 425.5h.8M96 427.5h.8M66.7 423.5h.8M79.4 423.9h.8M105.6 398.5h.8M97.6 411.8h.8M73.5 411.8h.8M103 412.2h.8M73.7 418.1h.8M92.2 422.6h.8M106.6 401.4h.8M102.7 415.3h.8M106.2 428h.8M93.3 428.4h.8M96.3 421.6h.8M84.1 422.9h.8M98.6 428.6h.8M74.2 421.6h.8M84.3 423.4h.8M111.2 409.5h.8M97.4 426.6h.8M88.1 421.6h.8M69.3 424.4h.8M71.7 427.5h.8M79.9 426.7h.8M106.9 426.5h.8M93.7 401.3h.8M67.4 412h.8M78.8 408.6h.8M83.5 410.9h.8M83.5 415.9h.8M75.7 416.1h.8M87 408.1h.8M75.1 407.9h.8M84 403.6h.8M73.2 427.4h.8M79.6 418.8h.8M86.1 411.2h.8M67.5 419.2h.8M77.7 423.4h.8M91.5 423.4h.8M81.6 421.5h.8M95.5 416.5h.8M84.7 423.5h.8M118.4 402.1h.8M80.9 421.2h.8M72.9 416.9h.8M100.4 399h.8M92.7 405.1h.8M67.2 425.7h.8M76.7 414h.8M77.6 423.2h.8M92.7 426.7h.8M96.2 396.2h.8M89.8 414.3h.8M89 412.2h.8M105 424.8h.8M86.8 417.4h.8M73.4 428h.8M74.5 412.5h.8M94.2 426.7h.8M110.5 396.7h.8M66.4 408.5h.8M93 428.6h.8M100.2 419.8h.8M103.9 410.1h.8M71.8 419.5h.8M87.2 417.6h.8M82 416.1h.8M67.4 423.3h.8M68.6 422.1h.8M103.8 403h.8M86.5 427.1h.8M74.2 419.8h.8M73.3 401.9h.8M76.4 418.9h.8M88.1 398h.8M72 425.9h.8M67 425.1h.8M97.8 427.6h.8M108.5 398.8h.8M93.8 414h.8M74.3 426.6h.8M102.3 426.6h.8M63.5 424.1h.8M85 412.1h.8M63.9 418.8h.8M94.8 411.9h.8M70.7 418.4h.8M110.8 412.9h.8M101.7 428.1h.8M83 418.2h.8M101.7 416h.8M65 417h.8M102.3 399.1h.8M122.5 400.6h.8M68.1 422.3h.8M67.2 427.8h.8M100.9 425.7h.8M70.5 415.1h.8M99.8 424.2h.8M72.2 423.8h.8M71.4 413h.8M79.6 421h.8M90.2 424.3h.8M100.1 407.4h.8M91.2 416.9h.8M74.3 420.6h.8M98.4 399.2h.8M92.7 411.7h.8M106.2 424.4h.8M83.1 422.2h.8M81.8 423.4h.8M92.4 414.5h.8M103.9 417.8h.8M91.8 396.4h.8M67.2 415.8h.8M99 425.8h.8M103.4 425.6h.8M101.8 419.5h.8M83.6 421.1h.8M107.1 405.8h.8M90.9 422.4h.8M107.7 396.5h.8M76 422.9h.8M78.7 425.9h.8M82.2 411h.8M94.8 425.2h.8M78.6 411.7h.8M86.2 414.2h.8M88.6 424.7h.8M94.7 402.4h.8M71.1 417.2h.8M88 412.4h.8M92.3 417.2h.8M91.7 407.7h.8M82.2 411.7h.8M75.1 426.6h.8M106.7 403.2h.8M65.6 415.2h.8M74.2 428.3h.8M86.1 423.5h.8M76.6 417.7h.8M112.4 394.5h.8M102.2 423.6h.8M81.1 410.4h.8M83.6 427.2h.8M79 406.6h.8M77.2 425.1h.8M65.6 428.4h.8M86.6 425.7h.8M83.9 422.2h.8M67.1 425.9h.8M97 422.9h.8M97.8 421.4h.8M86.9 421.8h.8M80.5 415.3h.8M110.2 417.3h.8M104.5 427.9h.8M87.8 408.7h.8M99.3 404h.8M93.6 426h.8M81.3 415.2h.8M83.1 413h.8M80 422.4h.8M69.8 404.7h.8M80.5 428.7h.8M98.9 418h.8M70.1 410.8h.8M64.1 426.9h.8M86.6 424.2h.8M66.1 419.7h.8M91.9 415.6h.8M65 409.8h.8M66.2 426.8h.8M103.7 406h.8M78.1 411.1h.8M74.1 418.3h.8M115.9 398.2h.8M91.2 418.6h.8M85.2 426.6h.8M66.2 419.8h.8M84.1 426h.8M99.7 422.1h.8M98.6 426.6h.8M64.8 418.5h.8M81.6 423.6h.8M68 421.9h.8M89.8 402.8h.8M103.8 428.4h.8M88.8 419.9h.8M66.3 420.8h.8M71.4 405.1h.8M73.6 421.3h.8M100.7 426.7h.8M97.3 426.7h.8M65.9 418.1h.8M97.7 405.2h.8M67.4 413.2h.8M69.6 416.5h.8M75.2 424.4h.8M96.4 426.5h.8M87.6 419.1h.8M77.4 422.6h.8M65.7 425.2h.8" stroke="#4a4a4a" stroke-width="0.8" stroke-opacity="0.75" filter="url(#bl)"/>
<path d="M100.6 424.2h.9M68 418.3h.9M81.8 420.3h.9M99.1 420.1h.9M87.9 418.9h.9M103.3 423.8h.9M67.9 421.1h.9M98.4 422.8h.9M76.9 419.5h.9M104 425.8h.9M97.5 422.6h.9M91.1 415.9h.9M99.9 419h.9M68.5 418.7h.9M95.3 420.3h.9M74.3 422.3h.9M102.2 425.1h.9M66.3 422.9h.9M85.3 420.8h.9M64.3 421.7h.9M72.5 419.5h.9M81 419.6h.9M64 421.4h.9M97.4 418.3h.9M92 421.1h.9M86 418.6h.9M78.1 421.7h.9M87.1 421.4h.9M71.2 420.6h.9M104.6 423.4h.9M84.6 419.6h.9M66.8 420.2h.9M75.4 422.4h.9M65 422.1h.9M76.3 419.4h.9M99.3 419.3h.9M85.5 420.1h.9M73.1 417.6h.9M100 423.2h.9M95.8 420.9h.9M82 420.9h.9M104.7 426.1h.9M63.7 421.7h.9M97.1 422.3h.9M64.4 422.5h.9M90.2 420.5h.9M66.7 423.1h.9M105.6 427.1h.9M73.2 419.7h.9M85.3 419.9h.9M96.8 422.4h.9M99.6 422.2h.9M78.5 418.2h.9M67.6 419.9h.9M68.6 423.5h.9M64.1 425h.9M104.8 427.6h.9M66 421.4h.9M88.5 418.4h.9M90.5 420.4h.9M94.9 419.4h.9M65 419.1h.9M100.7 421.7h.9M72.7 421.9h.9M105.1 426.7h.9M69 419.6h.9M70.7 419.4h.9M78.3 419.9h.9M98.9 418h.9M85.6 419.7h.9M100.8 419.7h.9M76.1 420.6h.9M91.6 420.7h.9M63.8 422.6h.9M105.8 425.8h.9M103.9 425.7h.9M102.1 424.1h.9M64.5 421.9h.9M85.2 419.2h.9M66.7 423.1h.9M68.3 421h.9M81.5 417.9h.9M98.6 422.1h.9M77 418.2h.9M98.9 421.4h.9M78.4 417.6h.9M96.6 422.8h.9M66.3 424.1h.9M91.2 417.8h.9M78.8 421.7h.9M72.4 421h.9M84.9 422.1h.9M89.2 421.6h.9M68.2 421.8h.9M76.9 420.2h.9M80.4 418.7h.9M78.9 419.6h.9M100.3 422h.9M79.5 420.7h.9M88.9 420.4h.9M88.9 418.5h.9M102.1 422.9h.9M78.5 417.9h.9M71.4 421.9h.9M93 421.4h.9M90.1 412.4h.9M67 422.6h.9M68.7 420.9h.9M78.3 422.4h.9M80.4 421.2h.9M77.6 420.9h.9M65.5 420.6h.9M82.4 420h.9M70.8 418.8h.9M78.8 422h.9M63.5 420.9h.9M70.5 420.1h.9M85.1 417.3h.9M68.6 423.1h.9M78.2 420.6h.9M72.4 421.9h.9M72.1 420.9h.9M65 422.9h.9M64 419.3h.9M89.3 419.4h.9M78.3 421h.9M90.8 419.9h.9M70.6 423.6h.9M74.9 421.5h.9M77.7 420.2h.9M80.9 418.6h.9M80.9 421h.9M95.1 422.7h.9M70.2 423h.9M103 424.7h.9M87 421.9h.9M98.6 420.5h.9M69 420.7h.9M72 421h.9M90.2 415.1h.9M82.9 417.8h.9M101.9 424.1h.9M67.7 416h.9M79.5 419.5h.9M75.7 419.5h.9M64.5 424.3h.9M79.6 419.8h.9M72.4 421.3h.9M104 422h.9M93.2 417.6h.9M93 421.4h.9M74.5 418.2h.9M80.4 418.2h.9M96.7 419.5h.9M77.1 417.7h.9M95.9 418h.9M100.4 423.5h.9M96.8 422.9h.9M96.5 418.2h.9M80 421.5h.9M63.2 421h.9M77.2 421.3h.9M73.6 421.9h.9M66.7 419.4h.9M99.4 421.3h.9M96 421.4h.9M85.2 419.3h.9M66.9 423.9h.9M82.8 416.5h.9M85.6 420.9h.9M70.6 420.5h.9M74.9 422.3h.9M71.6 422.4h.9M90.9 417h.9M90 418.8h.9M103.4 423.8h.9M78.6 418.8h.9M104 424.9h.9M73.1 420.8h.9M79.1 418.7h.9M102.1 422.2h.9M87.3 418.6h.9M85.1 420.2h.9M77 416.6h.9M92 417.3h.9M100.8 423.3h.9M87.6 420.6h.9M69.6 423.6h.9M77.7 417.6h.9M68.7 420.6h.9M99.9 424.6h.9M99.1 422.7h.9M95.2 421.9h.9M98.9 422h.9M89.5 416h.9M86.6 417.9h.9M104.8 427.6h.9M64.4 424h.9M90.9 415.2h.9M68.5 423h.9M99.2 422.5h.9M94.8 420.8h.9M93.9 415h.9M71.2 418.1h.9M92.9 421.4h.9M79 418.5h.9M80.6 420.3h.9M96.8 419.5h.9M95 422.8h.9M105.9 425.9h.9M92.4 419.5h.9M98.4 422.4h.9M99.8 419h.9M94.7 421.4h.9M85.6 418.9h.9M90.4 420.7h.9M80.1 421.2h.9M87.5 420h.9M80.4 420.8h.9M96.9 421h.9M76.7 422h.9M88.4 421.6h.9M70.5 423.5h.9M73.7 418.6h.9M100.7 420.4h.9M104.7 427.1h.9M97.7 422.6h.9M67 423.6h.9M105.1 426.7h.9M93 421h.9M92.5 422.6h.9M89.2 420.6h.9M79.6 418.4h.9M94.1 418.8h.9M87.4 417.9h.9M101.7 421.8h.9M85.8 419.9h.9M96.4 421.9h.9M90.7 420.9h.9M99.2 423.4h.9M65.1 422.3h.9M71.5 421.2h.9M95.2 420h.9M65.9 421.6h.9M101.8 422.8h.9M85.3 418.5h.9M87.8 416.9h.9M105.6 427.4h.9M66.6 423.2h.9M76.9 420.3h.9M97.2 420.9h.9M65.5 422.7h.9M74.2 421.2h.9M78.8 417.6h.9M90.3 421.1h.9M87.8 422.8h.9M91.3 422.3h.9M78.3 421.1h.9M86.4 421.4h.9M75.4 423.2h.9M80.1 419.3h.9M76.2 421.2h.9M85.4 412.8h.9M82.6 418.8h.9M90.2 416.5h.9M91.9 419.2h.9M101 420.7h.9M74 417h.9M80.1 415.6h.9M105.9 425.7h.9M83.4 421.4h.9M82.2 420.4h.9M102.6 423.4h.9M70.9 418.1h.9M79.7 420.2h.9M77.2 416.9h.9M86.8 420.7h.9M68.4 420.1h.9M78.6 421.8h.9M95.6 420.8h.9M78.3 418h.9M102.4 424.6h.9M78.3 418.9h.9M96.6 423.6h.9M85.3 417.6h.9M82.3 420.1h.9M96 419.6h.9M74.8 419.8h.9M98.1 423.1h.9M70.9 423.8h.9M81.8 417.2h.9M94.5 420.9h.9M70 420.8h.9M64.8 423.1h.9M96.9 418.1h.9M69.2 421.6h.9M94.1 422.8h.9M92.4 420h.9M81.1 419.2h.9M99.9 423.2h.9M104.3 427.5h.9M80.5 422.1h.9M100.2 422.8h.9M77.6 417.5h.9M96.2 420.9h.9M103.2 425.9h.9M84.7 420.1h.9M87.6 419.2h.9M84.8 420.1h.9M80.4 420.5h.9M101.7 424.2h.9M97.6 421.2h.9M76.6 418.4h.9M99.2 418.6h.9M76.8 419h.9M95.6 422.2h.9M81.3 421.2h.9M99.8 421.2h.9M76.7 421h.9M103.3 423.3h.9M67.9 419.8h.9M63.1 425.5h.9M99.7 420.3h.9M75.7 419.1h.9M77.8 419.9h.9M92.1 417.4h.9M94.1 422h.9M81.9 418.1h.9M105.6 421.8h.9M68.2 423.2h.9M88.1 420.6h.9M96.9 421.9h.9M96.1 421.3h.9M105.2 428.4h.9M64.6 418.1h.9M84.2 418.2h.9M85.2 418.8h.9M80.3 419.9h.9M67.4 420.3h.9M80.3 418.1h.9M93.2 420h.9M64.9 421.8h.9M66.6 420.9h.9M63.2 420.6h.9M76.3 422.6h.9M87 415.8h.9M103.3 423.8h.9M104.5 424.5h.9M87.5 419.3h.9M66.8 424.1h.9M97 422.7h.9M75.2 419.4h.9M99.2 422.9h.9M80.6 421h.9M90.3 421.6h.9M94.1 418.8h.9M66.7 424.4h.9M102 423.1h.9M99.4 420.6h.9M98.4 420.3h.9M77.3 421.7h.9M65.9 421.1h.9M89.2 421h.9M73.1 421.3h.9M86.9 422.2h.9M95.2 421h.9M91.1 419.7h.9M103.7 425.7h.9M64.7 420.3h.9M63.2 425h.9M100 422.7h.9M100.7 424.3h.9M89.1 418.7h.9M94.7 413.6h.9M88.7 420.9h.9M95.2 418.3h.9M66.7 422.9h.9M74.4 420.3h.9M67.7 422h.9M68 421h.9M91.8 418.5h.9M65.6 421.8h.9M86.7 419.6h.9M79.8 419.8h.9M92.3 420.1h.9M81.8 418.7h.9M67.1 418.6h.9M65 421.6h.9M77.5 423.2h.9M87.6 418.3h.9M75 422.3h.9M102.4 424.7h.9M75.7 420.6h.9M69 422.3h.9M94.3 418.9h.9M86.4 418.2h.9M76.2 420.9h.9M93.7 419.6h.9M89.9 417.1h.9M77.5 419.3h.9M92.6 415.7h.9M100.9 424.3h.9M88 417.4h.9M73 421.2h.9M63.8 421.5h.9M66.7 418.5h.9M85 421.3h.9M82.2 419.2h.9M102.6 420.5h.9M70.4 418h.9M82.3 420.5h.9M78.4 420.5h.9M67.4 420h.9M66.3 417.2h.9M68.3 422.2h.9M104.2 421.7h.9M93 419h.9M76.6 420.7h.9M83.1 418.9h.9M100.2 420.7h.9M71.8 419.1h.9M86.6 421.7h.9M75.3 421.4h.9M100.1 424h.9M93.6 421.5h.9M99.1 419.8h.9M104.8 427.6h.9M99.5 420.4h.9M105.6 428.2h.9M105.1 428.7h.9M89 419.3h.9M68.5 419.6h.9M103 426.5h.9M104.2 427.8h.9M94.2 416.2h.9M92.7 417.7h.9M104.6 428.2h.9M66.6 423.2h.9M69.9 421.6h.9M64.4 420.1h.9M72.7 416h.9M80.8 422.3h.9M90.6 421.7h.9M91.5 422.5h.9M78.9 419.8h.9M87 419.9h.9M100.4 423.3h.9M100.1 422.3h.9M105.4 427h.9M86.3 420.3h.9M70.2 422.3h.9M72.5 417.5h.9M92.4 419.7h.9M99.9 420.4h.9M64.1 423.9h.9M63.7 423.5h.9M65.7 422.4h.9M92.3 422.3h.9M89.2 418.6h.9M105.6 425.2h.9M68.2 420.9h.9M87.9 419h.9M77.2 420.2h.9M67.7 422.1h.9M91 415.4h.9M74 419.6h.9M85.4 418.6h.9M85.2 419h.9M95.2 420.5h.9M105.3 425.9h.9M64.4 421.9h.9M67.7 422.6h.9M79.9 419.8h.9M81.8 414.3h.9M80 421.1h.9M102 423h.9M70.7 423h.9M65.7 424h.9M90.1 419.6h.9M71.4 419.6h.9M78.2 418h.9M66.3 421h.9M101.8 424.3h.9M88.7 418.9h.9M67.5 423.7h.9M68.3 421h.9M89.7 418h.9M96.4 418.4h.9M87.6 421.5h.9M89.7 416.3h.9M88.3 420.3h.9M83.8 421.4h.9M94.4 422.6h.9" stroke="#111" stroke-width="0.9" stroke-opacity="0.85" filter="url(#bl)"/>
<path d="M62.7 422.45 L63.53 423.6 L64.35 422.5 L65.17 421.88 L66 421.19 L66.75 421.73 L67.5 421.12 L68.25 421.85 L69 421.64 L69.75 421.4 L70.5 420.37 L71.25 420.44 L72 421.65 L72.73 420.85 L73.45 420.95 L74.18 421.12 L74.91 420.19 L75.64 419.89 L76.36 421.04 L77.09 419.78 L77.82 420.17 L78.55 419.76 L79.27 420.26 L80 419.48 L80.71 420.62 L81.43 419.62 L82.14 420.46 L82.86 419.68 L83.57 420.86 L84.29 420.66 L85 420.81 L85.71 419.98 L86.43 419.74 L87.14 420.65 L87.86 421.03 L88.57 420.98 L89.29 421.03 L90 419.45 L90.75 421.05 L91.5 419.71 L92.25 419.92 L93 420.08 L93.75 420.14 L94.5 421.47 L95.25 421.78 L96 421.74 L96.8 421.1 L97.6 421.92 L98.4 421.06 L99.2 422.49 L100 422.88 L100.75 423.51 L101.5 423.21 L102.25 424.08 L103 425.09 L104 425.49 L105 426.63 L105.75 427.87 L106.5 429.7 L62.7 429.7 Z" fill="#3c3c3c" fill-opacity="1"/>
<path d="M102.4 424.6h1M72.2 428.1h1M91.2 428.3h1M65.6 427.2h1M98 428.7h1M83.6 426.3h1M65.2 425.2h1M79.4 425.3h1M68.3 424.8h1M69.8 425.5h1M89.1 422h1M88.7 422h1M82.5 427.5h1M103.3 425.6h1M95 426.7h1M95.7 428h1M65.6 422.9h1M96.7 427.3h1M79.8 426.6h1M69.7 424.7h1M71.7 424.6h1M78 425.5h1M97.6 422.3h1M87.3 423.7h1M102.6 425.3h1M77.1 421.2h1M89.4 421h1M77.9 425.7h1M71.2 421.9h1M65.7 426.5h1M84 422.3h1M95.6 426.1h1M80.2 426.7h1M72.8 428.1h1M63.4 424.8h1M102.8 427.9h1M98.9 424.2h1M104.6 428h1M83.4 423.7h1M78.7 422.2h1M104.7 428.1h1M98.1 424.8h1M93.5 426.2h1M105.2 428.5h1M66 423.9h1M70.7 423.2h1M98 425.3h1M80 423.5h1M92.5 426.3h1M79.6 425.3h1M96.8 424.9h1M78.3 427h1M79.5 422.1h1M101.6 427.9h1M70.8 424.6h1M69.5 424.1h1M69.8 422.3h1M81.3 426.9h1M97.5 425.7h1M93.8 427.4h1M87.1 425.9h1M70 428.4h1M76.4 425.8h1M67.7 425.2h1M77.1 425.2h1M70.8 423.8h1M89.2 425h1M75.4 428.5h1M91 421.8h1M71.9 424.3h1M95.9 428.3h1M95.4 428.2h1M75.5 425.4h1M62.8 426.7h1M102.4 426.1h1M84.1 424.3h1M99.2 424.9h1M89.5 422.5h1M78.9 421.2h1M97.8 427.3h1M67.5 423.9h1M78.3 426.6h1M69.3 426.2h1M82.7 422.5h1M63.9 426.4h1M81.1 424.1h1M67.4 428.3h1M93.9 427.2h1M89.3 427.2h1M68.9 424h1M84.6 428.4h1M99 425.3h1M82.3 421.1h1M100.6 425.1h1M76.9 428.3h1M72.2 427.7h1M78.3 424.5h1M81.4 428.4h1M82.4 428.6h1M101.4 425.6h1M94.5 424h1M73.2 427.6h1M86.4 426h1M83.3 428.7h1M65.9 423h1M63.4 426h1M97.3 427.8h1M78.5 425.5h1M63.1 426.6h1M95.8 422.4h1M89.6 425.9h1M73.6 426.2h1M70.3 425.6h1M86.5 421.7h1M78.9 425.5h1M65.4 423.2h1M97 426.2h1M87.1 424.4h1M69.5 424.7h1M63.4 424.5h1M98.2 424.8h1M91.9 421.8h1M97.8 422.7h1M85.6 423.8h1M64.7 428h1M103 428.5h1M75 427.1h1M85.3 424.9h1M102.2 425.3h1M75 425.9h1M73.1 426.3h1M104.5 427.4h1M81.4 422.8h1M84.8 425.7h1M103.3 427.4h1M105.4 428.5h1M104.7 428.3h1M88.7 423.1h1M69.8 428.2h1M70.6 424.7h1M98.5 424.3h1M97.7 422.7h1M68.4 422.4h1M76.1 422.3h1M76.9 426.3h1M79.2 424.7h1M68.2 423.3h1M98.1 424.9h1M101.9 426.1h1M99.3 423.2h1M74.4 424.6h1M69.5 428h1M104.6 428.3h1M75 421.8h1M64.4 428.6h1M63.8 427h1M82.8 423h1M70 423h1M87.3 427.2h1M84.6 425.4h1M65 426.3h1M102.5 424.7h1M86.9 424h1M69.3 427.1h1M78.2 421.9h1M73.6 428.1h1M67.5 423.6h1M64.2 423.9h1M104.1 426.8h1M87.5 424.1h1M69.5 424.5h1M76 424.1h1M98 426.4h1M91 421.5h1M80.7 422.1h1M76.4 423.7h1M78 425.2h1M88 426.3h1M100.6 425.5h1M94 425.8h1M96.8 422.3h1M104.9 428.2h1M72.1 425.7h1M70.4 425.1h1M87.4 421.5h1M96.5 423.2h1M92 421.7h1M88.9 428.4h1M95.4 423.8h1M100.6 423.2h1M94.6 423.3h1M73.9 426.4h1M85 422.5h1M99.4 428h1M91.3 421.6h1M63.7 427.3h1M78.6 421.3h1M103.7 428.2h1M95.5 422.6h1M75.2 423.6h1M95.5 422.5h1M87.9 423.8h1M93.5 425.4h1M77.6 422.8h1M83.5 425.2h1M86.5 424.9h1M100.4 427.6h1M78.9 427.5h1M81.3 426.1h1M67.4 423.8h1M104.6 428.2h1M86.1 421.9h1M80.5 428h1M73.9 426.6h1M91.7 424.2h1M96.5 426.1h1M93.1 421.3h1M89 422.9h1M66.6 426h1M88.7 425.9h1M69.9 428.5h1M103.5 428.4h1M93 424.6h1M88.7 422.2h1M99.5 426h1M103.1 426.2h1M93.1 427.1h1M77.7 424.3h1M89.5 423.5h1M62.9 425.9h1M89.7 421h1M63 426.1h1M100.4 426.1h1M94.4 421.5h1M92.6 427.9h1M103.7 428.3h1M64.3 424.5h1M85.5 422.6h1M92.4 428.7h1M90 424.9h1M98.8 423.4h1M73.2 421.6h1M78.1 428.2h1M78.8 423.8h1M78.2 427.8h1M86 424.8h1M77.4 424.8h1M88.5 428.1h1M71.4 426.6h1M80.6 423.4h1M101.8 428h1M98.1 425.7h1M80.1 421.1h1M79.5 428.4h1M94.5 423.3h1M101.4 425.5h1M77.5 426.5h1M73.6 422.7h1M77.8 425.2h1M80.2 428h1M87.2 422.6h1M76.5 422.9h1M65.7 423.3h1M102.9 425.1h1M97.7 423.2h1M73.1 422.3h1M63 427.4h1M85.6 427.1h1M85.5 428.7h1M65.9 426.3h1M96.2 423.2h1M77.4 427.7h1M67.1 428h1M102.5 427h1M87.1 422h1M81.1 421.9h1M100.7 426.5h1M87.9 423h1M95.5 428.3h1M87.4 424.9h1M91.8 426.4h1M84.5 428.4h1M104.1 427.2h1M72.2 427.7h1M77.8 423.1h1M99.2 423.4h1M94.2 421.5h1M76.7 425.1h1M65.9 425.9h1M62.8 425.1h1M93.8 421.8h1M98.8 423.7h1M97.2 427h1M83.5 421.4h1M103 428h1M71.5 428.4h1M96.5 422.7h1M78.1 428h1M75.9 425.2h1M93.7 423.8h1M63.3 425h1M89.5 425.4h1M82.8 428.4h1M85.3 422.6h1M68.9 427.8h1M101.5 427.7h1M103 426.1h1M72.6 424.9h1M90.4 424.3h1M74.7 423.4h1M74.2 422.4h1M92.3 423.7h1M75 425.3h1M69.6 422.9h1M98 424.9h1M74.9 425.7h1M73.1 422.9h1M67.2 428.5h1M80.1 424h1M77.6 426.8h1M72.6 422.5h1M71.6 422.1h1M101.1 424.3h1M87.2 425.2h1M96.4 427.3h1M88.7 425.5h1M71.9 422.2h1M89 425.8h1M64.2 427.7h1M71.5 426.8h1M86 426.6h1M72.9 426.4h1M67.3 422.7h1M99.3 423.7h1M85.7 422.8h1M99.9 424.5h1M77.9 428.3h1M78.4 423.9h1M93.3 427.7h1M101.5 426.3h1M89.1 421.6h1M95.7 422.8h1M77.2 423.1h1M67.4 427.4h1M76.9 425.2h1M64.7 427.3h1M101.7 428.2h1M70.7 424.3h1M82.7 422.8h1M64 427.1h1M66.4 424.7h1M102.4 424.8h1M66.1 424.2h1M79.8 426.2h1M94.8 424h1M64.1 425.4h1M65.6 424.1h1M76.8 424.2h1M77.7 422.5h1M78.7 424.1h1M90.5 423.2h1M104.1 428.2h1M88.2 421.9h1M87.6 425.8h1M72.7 422.7h1M103.9 427.2h1M64.3 424h1M72 421.6h1M104.6 428.2h1M104.2 428.4h1M99.5 423.3h1M66.7 423.5h1M95.3 428.1h1M82.5 422.9h1M76.8 423.7h1M86.6 424.2h1M89.3 427.3h1M94 425.2h1M97.2 423.4h1M103 427.6h1M75.6 422.1h1M93.5 425.6h1M90.2 424.5h1M76 428.1h1M94.9 424.3h1M98.5 428h1M105 428.6h1M62.8 428.6h1M98.8 424h1M85.2 425.3h1M64.8 428.3h1M84.4 425.1h1M91 422.9h1M67.4 426.7h1M71.7 428.2h1M88.1 427h1M82.5 423.5h1M92.1 424.3h1M88.2 420.9h1M63 427.8h1M100.6 427.6h1M96 423.9h1M89.2 427.2h1M88 428.7h1M76.9 424.6h1M85.5 424.6h1M97.7 426.6h1M81.1 422h1M90.4 426.2h1M86.5 428.5h1M68.5 425.9h1M86.6 424.6h1M76 428.6h1M77.2 423.7h1M98.4 426.4h1M92.5 421.6h1M78.7 426.5h1M79.7 422.4h1M72.1 421.7h1M100.7 426.2h1M83.1 427.2h1M78.5 423h1M100.8 427.3h1M65.1 423.5h1M92.9 421.4h1M87.5 424h1M81.9 424.4h1M91.4 426.3h1M97.1 424.3h1M89.9 423.3h1M90.6 425.3h1M94.4 426.2h1M93 422.6h1M102 425.6h1M94 425.8h1M68.1 427.2h1M79.9 425.9h1M87.8 424.7h1M74.2 426.7h1M100.6 428.1h1M91.7 428h1M85 422.3h1M87 425.9h1M97.2 428.6h1M88.6 427h1M84.7 422.2h1M72.9 427.4h1M68.9 426.1h1M105 428.3h1M103.4 426h1M97.4 423.4h1M105.2 428.6h1M69.3 427.3h1M85.2 426.7h1M104 428.4h1M94 422.9h1M83 421.5h1M101.6 428.2h1M103.9 427.3h1M71.4 423.3h1M105.1 428.5h1M80.5 427.1h1M70.1 426.2h1M87.6 428.2h1M73.4 427.3h1M69.7 424h1M98 425.5h1M87.6 427.8h1M104.9 427.9h1M104.3 428.2h1M80.2 422.4h1M87.7 425.9h1M66.2 425h1M87.8 427.5h1M67.3 425.6h1M87 422.6h1M98.1 428.6h1M103.8 426.9h1M87.2 425.5h1M94.9 428.2h1M71 425.7h1M87.4 423.6h1M69.3 423.9h1M94.8 427.2h1M77 427.3h1M92.4 421.1h1M101.1 425.3h1M87.8 422.6h1M72.4 421.6h1M83.6 425.5h1M67.1 425.6h1M83.9 425.9h1M63.3 426.4h1M82.2 428.2h1M102.6 427.2h1M82.4 428h1M72.8 427.8h1M67.8 428.1h1M99.1 425.5h1M75.6 423.5h1M90.2 423.1h1M73.1 423.9h1M103.4 426h1M102.4 424.6h1M63.4 423.5h1M65.9 425h1M98.4 424.6h1M70.6 428.7h1M73 425.6h1M95.1 427.7h1M104.6 427.8h1M99.8 426.8h1M80.4 422.4h1M95.5 422.4h1M104.2 428.6h1M73.9 427.8h1M69.7 426.7h1M66.6 427.9h1M91.9 421.8h1M104.5 427.6h1M71.3 423.1h1M78.7 422.6h1M73.2 422.2h1M92.6 426.7h1M96.2 423h1M78.7 425h1M72.6 426.2h1M77.9 425.5h1M92.9 427.6h1M66.6 422.4h1M91.1 421.3h1M71.3 423.4h1M93.1 421.7h1M91.1 422.7h1M99 425.7h1M69.2 423.7h1M75.9 425.7h1M98.4 425.1h1M85 422.9h1M93.7 423.6h1M66.2 426.2h1M69.4 428.6h1M72.4 423.6h1M85.6 423.3h1M86.5 425.4h1M76 424h1M95.3 422.9h1M93.2 423.2h1M81.4 428.5h1M99.2 424.9h1M90.9 422.9h1M93.5 424.3h1M65.1 424.1h1M84.8 422.8h1M76 422.8h1M98.6 426.3h1M71.5 424.3h1M78.2 424.5h1M74.8 425.1h1M65.2 428.3h1M70.2 425.9h1M69.9 428.2h1M73.9 428.1h1M71.1 426.9h1M72 424.7h1M93.9 426.5h1M89.9 428h1M90.8 428.4h1M96.1 426h1M89.6 426.6h1M74.6 428.4h1M76.4 422.9h1M93.2 427.9h1M93.4 425.4h1M92.1 426.7h1M86.9 424.7h1M89.1 427.5h1M102.1 426.4h1M81.3 426h1M76.4 427.1h1M69.6 424.1h1M100.4 424.1h1M100.6 424.4h1M105.4 428.6h1M99.7 424.6h1M82.2 426.5h1M87.6 423.8h1M64.3 426h1M99.5 423.5h1M74.4 426h1M82.3 427.4h1M94.3 423.1h1M79.4 423.1h1M94.6 427.2h1M73.7 424.4h1M68.5 426h1M92.4 421.2h1M83.2 427.6h1M93.6 427.1h1M100.8 424.2h1M98.8 425.2h1M91.8 422.3h1M73.2 422.5h1M74.3 425.9h1M83.4 425.8h1M69 424.9h1M104.2 427.4h1M79.4 421.9h1M76.6 428.3h1M101.9 424.5h1M74 421.4h1M98.8 424.9h1M99.9 428.4h1M85.8 428h1M89.7 425.1h1M87.9 425.2h1M85.8 426.5h1M91.9 424.5h1M82.9 423.8h1M83.9 421.6h1M104.3 428.1h1M100.9 427.2h1M103.6 427.4h1M105 428.1h1M100.4 426.6h1M87.4 426.6h1M86.4 425.6h1M70.6 427.3h1M84.5 427.1h1M92.4 426.7h1M96.4 426.9h1M103.3 428.6h1M84.2 421.4h1M64.6 423.8h1M66.5 423.8h1M79.7 422.6h1M78.2 425.5h1M78.9 428.3h1M67.1 427h1M97.8 427.8h1M81.6 426.9h1M99.4 423h1M80.3 420.9h1M75.7 426.8h1M100.7 425.8h1M85.3 426h1M81.8 424.6h1M69.7 424.3h1M74.4 424.5h1M81.2 423.2h1M105.2 428.7h1M74.4 424.8h1M83 428h1M74.8 423.7h1M90.5 425.3h1M69.1 428.1h1M79.6 423h1M69.5 424.4h1M73.2 427.7h1M70.8 427.4h1M94.4 421.5h1M102.8 427.4h1M96.4 425h1M65.3 426.8h1M67.1 425.1h1M95.6 422.2h1M63.3 425.8h1M70.2 424.5h1M77.3 421.3h1M80.1 426.1h1M72 428.1h1M69.1 425.4h1M88.1 428.4h1M104.4 428.2h1M74.9 422.2h1M97.2 426.1h1M81.2 421.9h1M96.2 426.7h1M81.3 425.2h1M68.9 422.1h1M105 428.6h1M85 423.9h1M65.1 425.3h1M64.7 426.8h1M76.8 423.2h1M80.8 428.3h1M94.8 423.6h1M74 425.3h1M99.9 423h1M89 427.3h1M79.1 423.6h1M95.4 424.3h1M92.6 426.4h1M102.9 427.3h1M96.3 421.9h1M103.5 427.1h1M74.9 422.4h1M78.5 426.2h1M90.4 428.3h1M80.8 422.2h1M95 424.9h1M104.7 428.4h1M75.5 428.4h1M80.8 422.8h1M64.4 425.6h1M88 428.7h1M68.8 427.6h1M94.4 427.4h1M80.2 426.7h1M76.6 426.3h1M89 422h1M86.1 421.7h1M90.8 428h1M63.5 427.6h1M88.9 420.9h1M68.4 426.4h1M75.8 427.7h1M80.5 426h1M87.1 423.8h1M73.9 422.6h1M68.3 426h1M68.7 423.6h1M68 423.1h1M104.4 427.4h1M64.5 426.8h1M70 423.2h1M104.4 427.4h1M65.9 428.3h1M81.7 428.5h1M78.2 423.9h1M93.8 421.9h1M93.8 421.9h1M92.5 426.2h1M97.4 426.1h1M78.6 426.8h1M81.2 421h1M87.9 421.7h1M93.3 424.7h1M86.4 428.5h1M87.7 427.5h1M68.1 424.1h1M92.9 423.2h1M69.1 424.6h1M95.8 425.1h1M71.2 425h1M94.6 428.4h1M65.3 423.4h1M105.5 428.6h1M81 426.8h1M76 427.7h1M90.4 422.4h1M96.2 424.7h1M97.9 426.3h1M76.3 427.3h1M76 422.2h1M89.2 421h1" stroke="#000" stroke-width="1" stroke-opacity="0.9" filter="url(#bl)"/>
<path d="M114.1 401.4h.8M115 399.6h.8M120.2 400.3h.8M113.1 401h.8M107.3 403.6h.8M104.4 400.7h.8M110.3 400.1h.8M112.7 400.4h.8M108.8 403.2h.8M109.9 400h.8M111.4 401.7h.8M118.3 401h.8M121 400.6h.8M112.3 398.7h.8M112 400h.8M119.2 400.8h.8M112 399.8h.8M119.1 402.5h.8M115.8 400.4h.8M118 401.7h.8M106.4 399.8h.8M111.8 401h.8M118.9 401.4h.8M109 403.1h.8M113.2 401.7h.8M112.5 403.1h.8M115.9 402.4h.8M112.6 399.8h.8M113.6 399.9h.8M120.5 401.5h.8M116.9 399.1h.8M111.2 401.1h.8M106.6 401.5h.8M116.7 400.9h.8M109.9 402.3h.8M121.5 399.5h.8M116.6 400.9h.8M116.5 401.3h.8M117.3 402.3h.8M117.4 402.9h.8M108.8 399.7h.8M111 400.1h.8M119.9 399.6h.8M124.9 401.2h.8M118 400.6h.8M113.2 400.4h.8M121.4 399.5h.8M114.2 399.9h.8M123.4 401.4h.8M110.9 402.3h.8M110 400.2h.8M119.5 400.6h.8M102.6 401.3h.8M114.6 400.5h.8M109.7 400.7h.8M116.4 401.1h.8M114.1 402.4h.8M117.7 399.8h.8M120.1 398h.8M116.2 400.9h.8M119.2 402.8h.8M121.6 400.3h.8M114.6 399.9h.8M115.3 398.9h.8M118.2 402.5h.8M114.2 401.5h.8M118.4 398.9h.8M112.9 401.9h.8M115.3 402.9h.8M110.3 397.1h.8M114.5 401.5h.8M119.6 402.3h.8M119.2 402.7h.8M105.8 401.9h.8M119.5 399.3h.8M113.8 399.5h.8M123 401.2h.8M112.7 401.8h.8M112 401.1h.8M121.1 401.9h.8M119.3 401.1h.8M108.8 403.6h.8M117 403.2h.8M115.6 402.7h.8M126.2 401.6h.8M111.3 401.1h.8M108.6 399.7h.8M112.2 400.1h.8M110.9 401.8h.8M107.4 400.7h.8M115.2 400.3h.8M119 402.4h.8M117.4 401h.8M114.2 400.6h.8M118.1 402.7h.8M116.7 400.8h.8M114.7 399.2h.8M110.6 401.6h.8M114.9 400.9h.8M113.7 400.5h.8M119.7 402.3h.8M120.2 401.4h.8M115.6 399.1h.8M112.9 402h.8M108.9 401.5h.8M113.8 401.5h.8M106.1 400.8h.8M112.9 403h.8M118.1 402.9h.8M117.6 401.6h.8M113.1 402.4h.8M114.6 400.7h.8M114.9 401.4h.8M117.8 400.9h.8M107.8 402.8h.8M121.5 403.2h.8M114.2 400.3h.8M118.8 403.5h.8M112.9 403.8h.8M108.6 398.3h.8M120.8 404.6h.8M109.4 402.4h.8M106.1 402.1h.8M120.5 402.4h.8M112.9 402.9h.8M114 400.5h.8M114.2 400.8h.8M120.2 401.2h.8M111.4 400.8h.8M114.7 400.7h.8M119.6 400.4h.8M115.5 400.4h.8M108.6 402.8h.8M113.7 402.7h.8M121.8 401.3h.8M109.3 401h.8M112.5 403.2h.8M108.6 400.9h.8M122.3 402.9h.8M116.4 400.7h.8M104.7 400.8h.8M117.9 402.6h.8M108.2 402.9h.8M122.1 400.6h.8M110.9 400.1h.8M113.6 399.6h.8M115.8 400.6h.8M112.5 400h.8M114.6 401.3h.8M117.5 403.1h.8M113.1 402.6h.8M106.8 404.5h.8M119.5 399.9h.8M113 400.5h.8M103.8 400.1h.8M120.9 401.1h.8M109 405.1h.8M100.8 402.1h.8M111.2 401.5h.8M114.3 400.4h.8" stroke="#444" stroke-width="0.85" stroke-opacity="0.8" filter="url(#bl)"/>
<path d="M125.2 401.7h.8M120.1 401h.8M123.7 401.6h.8M120.6 403.2h.8M121.7 400.9h.8M119.3 402.3h.8M118.7 399.8h.8M126.2 400.6h.8M124 400.5h.8M128.1 401.5h.8M116.2 400.4h.8M119 398.6h.8M117.8 400.8h.8M125.3 401h.8M123.5 399.3h.8M120.7 400.1h.8M120.6 401.1h.8M119.3 401.1h.8M120.8 400.8h.8M116.6 401.3h.8M121.4 399.4h.8M123.5 401.7h.8M124.5 400.3h.8M119.6 401.3h.8M120.8 401h.8M126.4 400.9h.8M117.6 401.6h.8M122.2 402.5h.8M118.5 401h.8M119.2 402.1h.8M119.3 400.1h.8M122.4 400.5h.8M119.2 400.7h.8M120.6 400.3h.8M117.1 400.6h.8M118.1 402.1h.8M112.1 400.9h.8M115.8 400.1h.8M116.6 400.6h.8M121.2 401h.8M120.3 401h.8M125 400.9h.8M118.4 401h.8M120.3 401.7h.8M120.8 400.8h.8M121.1 403.1h.8M123.7 399.9h.8M121.2 398.8h.8M121 400.9h.8M120 401h.8M118.1 400.4h.8M120.6 402.1h.8M116.2 400.2h.8M121.8 402.7h.8M125.5 402.3h.8M124.7 401.5h.8M121.9 400.9h.8M126.8 400.3h.8M117.6 401h.8M123.8 400.2h.8M121.8 400.6h.8M119.8 401.1h.8M117.9 400.7h.8M121 400.1h.8M120.3 399.3h.8M121.4 400.4h.8M118.9 400.9h.8M118.9 401h.8M119.9 401h.8M121.6 401.5h.8M124.8 400.8h.8M122.4 401.4h.8M125.6 400.7h.8M121.3 398.1h.8M119.9 400.8h.8M126.8 401.3h.8M125.9 400h.8M120.9 400.5h.8M124.5 401.1h.8M119.4 401.3h.8M116 399.3h.8M115.1 401.5h.8M121 400.4h.8M121.6 402.4h.8M121.2 401.4h.8M120.3 402h.8M120.3 401.3h.8M120.8 400.2h.8M118.8 401.7h.8M124.7 400.4h.8M121.9 401.9h.8M121.7 399.8h.8M121.8 401.2h.8M120.5 401.1h.8M111.5 401.2h.8M120.6 401.9h.8M121.3 401.6h.8M119.8 401.1h.8M121.9 400.9h.8M122.7 399.8h.8M124.3 400.3h.8M122.6 401.3h.8M120.6 401.1h.8M120.1 399.7h.8M116.8 401h.8M124.7 402.1h.8M117.4 401.6h.8M115.2 400.6h.8M121.6 401.4h.8M123.4 400h.8M120.9 403.2h.8M120.3 400h.8M119 401.6h.8M123.1 399.4h.8M122.2 401.3h.8M128 400.8h.8M122.5 398.8h.8M121.9 400.5h.8M119 401h.8M114.3 400.9h.8M120 400.9h.8M124.9 400.2h.8M121.7 401.2h.8M120.5 399.7h.8M125.3 401.1h.8M119.7 401.8h.8M118.5 402.8h.8M121.6 401.6h.8M117.6 400.2h.8M123.5 398.4h.8M120.2 402.4h.8M121.6 397.9h.8M119.6 401h.8M122.9 400.5h.8M118 401.2h.8M121.6 401.3h.8M122.8 401.4h.8M122.9 402h.8M125 401.6h.8M121.8 401h.8M121.8 401.1h.8M120.1 401h.8M127.3 401.1h.8M122.8 399.7h.8M122.1 401.5h.8M118.5 402.1h.8M125.5 401.6h.8M127.6 399.5h.8M117.8 402.5h.8M118.6 401.3h.8M122.9 402.2h.8M121.4 400.1h.8M123.2 400.7h.8M119.8 401.8h.8M122.5 399.2h.8M119.1 398.7h.8M122 400.3h.8M123.1 400h.8M120.7 400h.8M118.9 401h.8M120.4 401.4h.8M118.3 400.6h.8M121.9 400.6h.8M115.5 401.3h.8M122.1 401.5h.8M120.1 401.8h.8M120.1 402.1h.8M116.7 401.6h.8M123.9 401h.8M117.5 402.6h.8M121.4 402.4h.8M115.1 401.4h.8M123.1 401.6h.8M122.2 399.8h.8M118.9 401.4h.8M124.5 401.3h.8M125.6 402.5h.8M118.3 402.1h.8M122.7 401.1h.8M126.6 400.3h.8M124.7 401.1h.8M123 399.6h.8M120.8 401.3h.8M122.9 403h.8M125.1 401.5h.8M118.2 400.9h.8M122.7 400.8h.8M122.5 401h.8M124.7 400.9h.8M119.7 400.2h.8M123.2 401.9h.8M121.1 400.4h.8M120.6 399.1h.8M126.9 400.3h.8M116.6 403h.8M123 401.7h.8M126.3 402.4h.8M119 401.9h.8M119.2 400.7h.8M123.3 399.9h.8M118.7 403.1h.8M121.6 402.3h.8M123.3 400.6h.8M123 401.5h.8M117.9 402.2h.8M119.6 399.2h.8M120.5 401.1h.8M123 400.9h.8M122.4 400.5h.8M116.8 401h.8M120.1 400.8h.8M122.1 403h.8M121.1 401.8h.8M113.8 401h.8M125.1 400.5h.8M119 400.7h.8M120.3 399.8h.8M124.6 401.3h.8M121.5 399.6h.8M114.3 400.8h.8M122 401.4h.8M121.2 399.9h.8M125 402h.8M118.2 400.8h.8M118.9 400h.8M119.2 403.1h.8M117.1 401.8h.8M124.9 401.8h.8M122.5 401h.8M122.9 400.7h.8M115.7 399.6h.8M123.4 402.8h.8M114.4 402.4h.8M122.8 402.2h.8M127.4 400.9h.8M124.9 402.4h.8M123.9 401.6h.8M117.3 400h.8M119.5 400.6h.8M121.6 400h.8M122.2 400h.8M126.7 399.6h.8M124.8 400.5h.8M126.3 401.4h.8M117.6 404.2h.8M125.1 401.5h.8M123.1 400h.8M124.2 401h.8M118.7 399.8h.8M122.5 400.4h.8M121.2 401.9h.8M119.8 403.4h.8M117.3 401.5h.8M122.2 401.3h.8M118.3 399.3h.8M119.2 399.5h.8M122.3 400.5h.8M127.6 400.6h.8M122.1 400.9h.8M124.4 400.7h.8" stroke="#111" stroke-width="0.85" stroke-opacity="0.95" filter="url(#bl)"/>
<path d="M117.2 415.4h.8M111.9 417.5h.8M117.5 408.1h.8M117.7 414.2h.8M115.4 408.4h.8M121.4 411.9h.8M113 422.9h.8M114.5 408.9h.8M112.2 414.6h.8M110 414h.8M115 411.4h.8M114.5 417.8h.8M119.9 416.9h.8M114.7 413.6h.8M113.8 409h.8M110.8 407.2h.8M109.7 414.3h.8M115.4 413.9h.8M110.3 411.9h.8M117.9 414.5h.8M114.9 407.8h.8M115.4 416.6h.8M114.7 420.1h.8M116.7 407.4h.8M112.6 406.3h.8M115.5 412.2h.8M119.3 406.5h.8M107.6 411.2h.8M115.9 410.6h.8M113.7 403.4h.8M118.1 411.4h.8M109.8 414.9h.8M118.6 410.4h.8M110.5 417.2h.8M114.3 410.2h.8M115.4 412.2h.8M102.2 416.8h.8M118.3 410.1h.8M105.7 413.4h.8M114.1 412.7h.8M105.7 422.3h.8M112.7 414.1h.8M111.1 408.8h.8M113.1 418.4h.8M113.7 412h.8M109.9 408.4h.8M115.1 409.5h.8M117.4 410.3h.8M112.5 408.7h.8M113.7 407.6h.8M117.4 408.4h.8M116.1 415h.8M107.3 411.6h.8M112.5 417.7h.8M113.2 412.6h.8M124.6 411.2h.8M119.1 412h.8M115.8 409.9h.8M116.7 415.4h.8M106.5 414.5h.8M108.6 407.7h.8M114.7 414.3h.8M115.1 407.3h.8M113.8 408.6h.8M113.5 418h.8M122.2 410.2h.8M112.4 416h.8M113.3 410.2h.8M115.3 409.1h.8M116.4 413.7h.8M124.4 407.4h.8M120.4 411.3h.8M113.3 412.2h.8M112.5 409.4h.8M114.6 416.1h.8M108.4 408h.8M109.5 415.2h.8M114.6 408.5h.8M115.1 410h.8M112.5 407.2h.8M112.4 411.4h.8M123.2 411.7h.8M110.1 416.6h.8M112 402.1h.8M113.3 409.8h.8M113.3 418.4h.8M107.4 408.3h.8M111.9 408.9h.8M106.3 405.7h.8M114.6 412.3h.8M118.2 412.4h.8M110.1 411h.8M119.4 405h.8M109.8 409.9h.8M112.4 408.2h.8M106.8 407.2h.8M105.1 415.2h.8M123.7 414.6h.8M114.1 407.5h.8M119.9 409.6h.8M111.9 411.4h.8M115.1 409.7h.8M118.1 414.4h.8M117.1 408h.8M107.6 416.7h.8M110.7 409.9h.8M109.3 414.2h.8M100.6 409.6h.8M111.6 411.7h.8M111.6 405.8h.8M118.3 414.1h.8M113 407h.8M117.1 411h.8M117.2 410.5h.8M120.4 413.1h.8M115.8 416h.8M112.7 412.1h.8M117.9 408.8h.8M109.1 413.8h.8M115.6 415.2h.8M109.2 412.6h.8M118.4 415.9h.8M119.1 410.9h.8M117.9 416.3h.8M106.7 410.5h.8M118 408.6h.8M115.8 403.8h.8M118 408h.8M105 406h.8M116.9 410.5h.8M110.4 409.5h.8M119.5 412.1h.8M115.8 406.8h.8M107.3 410.6h.8M108.4 412h.8M117.2 411.3h.8M117.2 412.8h.8M113.1 406.3h.8M116 414.9h.8M117.4 412.5h.8M112.7 418.9h.8M107.7 414.2h.8M113.1 411.4h.8M111.9 410.9h.8M111.3 415.2h.8M113.6 410.6h.8M119.1 411.1h.8M120.5 418.9h.8M108.7 412.1h.8M119.9 404h.8M117.2 415.7h.8M113.5 413.5h.8M109.6 416.8h.8M119.4 409.7h.8M111 410.6h.8M114.2 410.4h.8M111.8 413.7h.8M110.5 415h.8M116.2 412.9h.8M115 416.5h.8M109.9 415.8h.8M120.7 405.2h.8M106.7 409.6h.8M110.6 410.1h.8M106.7 413h.8M108 409.1h.8M124.8 409.8h.8M121 414.1h.8M111.1 408.8h.8M104.6 410.4h.8M115.3 414.4h.8M114 412h.8M110.3 419.7h.8M127.6 416.3h.8M109.9 413.3h.8M124.5 409.6h.8M120.6 408.6h.8M112.4 413.8h.8M106.1 414.7h.8M113.2 404.3h.8M118.8 412h.8M116 412.4h.8M115.6 414.8h.8M115.8 416.4h.8M109.7 409.9h.8M108 412.2h.8M114.4 406.6h.8M119.1 413.5h.8M115.8 414.5h.8M113.3 419.8h.8M119.2 407.6h.8M112.8 417.5h.8M108.8 409.3h.8M115.5 408h.8M110.5 407.4h.8M112.2 408.6h.8M106.8 410.4h.8M113.8 412.5h.8M118.9 411.2h.8M107.8 406.4h.8M115.9 410.8h.8M120.7 410.9h.8M107.6 408.8h.8M104.2 417.8h.8M115.1 412.4h.8M113.3 411.3h.8M116.9 411.4h.8M115 412.6h.8M112.9 407.7h.8M115.9 409.7h.8M117.9 404h.8M108.5 406.4h.8M110.7 413h.8M122.9 410.5h.8M110.9 411.5h.8M116.2 408.9h.8M118.5 411h.8M109.1 411.2h.8M113.5 411h.8M109.7 411.4h.8M120.8 414.1h.8M107 405.9h.8M118.4 417.4h.8M107.1 410.8h.8M120.3 414.4h.8M108.4 412.4h.8M120.4 406.8h.8M122.4 410.5h.8M118.5 408.1h.8M116.5 406.9h.8M108.4 413.3h.8M117.3 406.8h.8M117.8 410.2h.8M114.2 417.1h.8M122.1 418.8h.8M113.4 412.8h.8M109.7 413.5h.8M116 408.7h.8M113.2 417.2h.8M115.9 405.9h.8M110.6 406.7h.8M107.5 410.2h.8M113.9 415.9h.8M119.8 409.4h.8M129.7 419.1h.8M116 416.5h.8M116.5 412.5h.8M109.7 409.8h.8M107.1 418.5h.8M114.1 407.3h.8" stroke="#3a3a3a" stroke-width="0.8" stroke-opacity="0.8" filter="url(#bl)"/>
<path d="M127.5 427.6h.8M120.7 426.3h.8M118.5 425.5h.8M126.8 426.6h.8M109.8 428.8h.8M117.4 426.2h.8M122.4 422.1h.8M105.3 421.9h.8M121.1 425.1h.8M118.1 422.4h.8M120.3 419.7h.8M116.5 419.3h.8M114.9 426.6h.8M116.9 427.2h.8M112.7 426.4h.8M114.5 427.8h.8M118.4 423.6h.8M117.7 426.7h.8M119.1 428.6h.8M118.4 423h.8M114.4 425.4h.8M112.2 423.4h.8M121.5 426.2h.8M117.9 426.9h.8M118.4 421.7h.8M115.3 426.1h.8M119.7 421.7h.8M116.1 423.1h.8M120.5 425.7h.8M117.8 425.5h.8M115.9 426.8h.8M130 424.2h.8M121.4 426.2h.8M116.6 425.5h.8M113.2 424.4h.8M116 426.7h.8M117.3 426.7h.8M120.2 424.5h.8M112.1 424.8h.8M111.6 425.2h.8M118.5 425.6h.8M117.7 426.5h.8M117.5 423.4h.8M127.9 424.5h.8M115.3 420.4h.8M108.1 420.7h.8M128.4 424.9h.8M119.9 423.1h.8M116 426.2h.8M115.9 420.3h.8M118.2 427.4h.8M115.4 424.7h.8M121.8 423.8h.8M116.3 425.8h.8M120.3 428.2h.8M119.6 427.8h.8M124.7 424.2h.8M123.8 421.6h.8M127.4 425.2h.8M121.2 423.9h.8M109.1 423.1h.8M119.9 425.8h.8M117 428.8h.8M112.1 426.2h.8M118.1 423.4h.8M123.7 421.3h.8M114.1 423.9h.8M115.7 426h.8M124.2 427.1h.8M119.7 421.2h.8M112 425.2h.8M116.9 427.8h.8M120.3 421.4h.8M119.6 428.1h.8M109.6 421.6h.8M117.8 426.6h.8M113.8 426.2h.8M117.7 423h.8M119.6 427.1h.8M118.4 424.1h.8M121.8 421.3h.8M113.1 426.5h.8M124.8 428.4h.8M117.8 426.7h.8M123.4 423.1h.8M116.7 423.4h.8M115.7 423.5h.8M119.2 424.4h.8M119 426.7h.8M107 421.7h.8M118.2 424h.8M110 422.8h.8M124.1 426.2h.8M118.6 421.8h.8M119.5 428.4h.8M121.5 427h.8M114.3 428.6h.8M118.4 424.6h.8M120.1 424.9h.8M115.6 423.3h.8M122.2 424.8h.8M119.3 427h.8M112.9 424.3h.8M117.5 425.3h.8M119.8 425h.8M129.2 422.4h.8M119.7 421.2h.8M117.5 425.9h.8M115.9 427.8h.8M120.3 423.6h.8M118.7 424.7h.8M119.7 425.5h.8M117.1 428.4h.8M117.7 426.3h.8M127.5 428.1h.8M131.3 423.2h.8M114.8 424.2h.8M115.8 420.4h.8M117.7 426.1h.8M112.3 416.4h.8M121 426.4h.8M112.8 428.2h.8M122.6 425.8h.8M110.1 421.7h.8M124.9 421.1h.8M123.8 425.7h.8M117.5 422.3h.8M113.9 425.6h.8M123.3 423.6h.8M119.9 428.6h.8M111.2 428.7h.8M110.2 419.9h.8M121.5 427.8h.8M118.2 427.3h.8M119.8 423.7h.8M119.4 425.3h.8M114.8 423.6h.8M119 428.8h.8M121.2 425.1h.8M118.3 422.7h.8M122.3 422.9h.8M124.9 424.3h.8M115.5 421.4h.8M127.1 422.9h.8M115.7 425.2h.8M118 425.3h.8M118.5 425.3h.8M118.8 427.3h.8M121.5 424.4h.8M125.3 424.5h.8M120 424h.8M112.6 426.8h.8M119.1 425.6h.8M125.5 422.5h.8M108.4 423.7h.8M113.4 423.1h.8M117.3 426.1h.8M121.3 424.2h.8M124.2 425.6h.8M114.2 427.7h.8M107.9 422.7h.8M114.4 420.2h.8M116.3 423.8h.8M117.6 426.3h.8M116.7 421.5h.8M116.7 427h.8M116 424.2h.8M113.8 424.5h.8M111.4 419h.8M108.3 421.6h.8M123.3 423.7h.8M108.6 425.6h.8M115.1 428.6h.8M117.6 421.6h.8M125.4 426h.8M119.6 425.5h.8M123.2 422.9h.8M117.6 428.3h.8M130 428.3h.8M118 421.4h.8M124.3 426.7h.8M116.7 422.6h.8M114.9 425.1h.8M120.1 423.3h.8M122 422.4h.8M118.2 424.6h.8M117.8 424.8h.8M121.9 428.7h.8M128 427.8h.8M122 428.8h.8M117.1 425.2h.8M116.1 420.9h.8M116.8 418.6h.8M123.1 424.5h.8M120 426.5h.8M116 426h.8M116.2 425.9h.8M115.8 427.2h.8M118.9 423h.8M121.7 426.4h.8M133.2 422.8h.8M120.2 425.1h.8M122.4 427.9h.8M122.1 423.4h.8M115 426.2h.8M120.4 425.1h.8M112.3 422.3h.8M119.3 427.7h.8M118 425.2h.8M117.4 425.7h.8M113.2 423.5h.8M117.2 425.5h.8M121.8 423.9h.8M124.4 425.4h.8M119.1 426.4h.8M119.1 420h.8M113.1 424.9h.8M118.1 425.3h.8M123.2 425.7h.8M99.4 428h.8M113.8 423.7h.8M109.5 425.9h.8M124.1 428.8h.8M119.9 426.6h.8M118 423h.8M113.8 427.7h.8M117.6 425.5h.8M115.5 421h.8M119.1 422.2h.8M119.7 425.2h.8M123 426.1h.8M126.1 423.5h.8M122.9 426h.8M118.1 425.3h.8M121.1 426.1h.8M121.7 423.7h.8M125.6 422h.8M114.4 422.3h.8M117.9 423.2h.8M114.4 425.3h.8" stroke="#222" stroke-width="0.85" stroke-opacity="0.85" filter="url(#bl)"/>
<path d="M114.2 424.9h.8M108.4 415.3h.8M104.8 423.3h.8M107.9 422.2h.8M105.8 423.9h.8M108.4 421.8h.8M111.3 416.8h.8M108 419.4h.8M102.5 425.7h.8M102.9 423h.8M108.5 421.8h.8M110 422h.8M101.3 414.9h.8M98.2 414.9h.8M109.8 420.1h.8M104 421.4h.8M104 420.7h.8M101.9 414.9h.8M112.3 424.8h.8M112.6 417.5h.8M102.6 418.7h.8M111 422.7h.8M105.9 418.5h.8M108.6 411.6h.8M104.7 421.3h.8M113.9 424h.8M105.9 425.8h.8M101.7 424h.8M105.3 423.6h.8M102.2 424.4h.8M98.1 427.8h.8M102.4 419.8h.8M109 422.2h.8M110.4 424.6h.8M109 418.2h.8M104.7 423.5h.8M105.5 427.6h.8M99.3 420.6h.8M109 416h.8M112.4 428h.8M108.3 421.9h.8M101.6 417.3h.8M108.1 417.9h.8M111.4 422.3h.8M103.8 424.4h.8M103.5 425.3h.8M106.5 425.3h.8M104.7 418.3h.8M104.6 425h.8M101.9 419.2h.8M114.4 422.2h.8M112.8 419.8h.8M108.5 424h.8M105.5 427.6h.8M102.9 424.4h.8M108.9 421.4h.8M101 413.9h.8M111.7 421h.8M109.9 419.5h.8M111.3 420.8h.8M101.8 424.5h.8M104.2 424.7h.8M109 420.3h.8M106 424h.8M106.4 423.1h.8M107.8 417.8h.8M105.4 421.8h.8M111.1 420.3h.8M110.9 421.6h.8M104 424.8h.8M112.8 422.8h.8M112.2 426.7h.8M107.5 423.1h.8M107.6 423h.8M102.6 413.7h.8M103.6 427h.8M103.6 423.6h.8M108.3 423.1h.8M103.7 426h.8M104.9 424.2h.8M108.8 417.9h.8M112.2 419.7h.8M102.7 423.1h.8M108 417.9h.8M112.1 415.5h.8M109.5 423.2h.8M107.3 420.2h.8M109.1 423.2h.8M107.8 423.9h.8M100.1 426.9h.8M112.3 420.6h.8M108.1 424.7h.8M101.3 425.2h.8M109.4 417.2h.8M110.3 427.3h.8M103.1 427.8h.8M102.5 419.7h.8M107.7 416.9h.8M109.7 427.8h.8M108.4 415.6h.8M104.5 419.8h.8M104.5 423.8h.8M106.4 421.4h.8M104.1 423.9h.8M103.7 424.9h.8M107.3 424.6h.8M103.9 418h.8M108.4 427.9h.8M105.3 418.2h.8M102.8 417.7h.8M104.5 427.9h.8M104.6 420.9h.8M107.3 423.8h.8M101.3 425.1h.8M99.1 420.1h.8M98.6 421.9h.8M106.9 417.2h.8M111.2 418.2h.8M110 424.5h.8M98.1 419.3h.8M108.5 426.9h.8M110 416.9h.8M98.7 423.2h.8M98.1 419.4h.8M104.3 418.9h.8M109.6 422.9h.8M115.2 417.5h.8M114.8 421.4h.8M106.1 419.6h.8M109.4 416.3h.8M107.6 420h.8M110.8 417.3h.8M105.1 424.5h.8M106.6 420.2h.8M107.5 418.9h.8M107.5 424h.8M106.1 425.3h.8M101.8 419.2h.8M106 425.5h.8M109 418.2h.8M103.3 423h.8" stroke="#3a3a3a" stroke-width="0.8" stroke-opacity="0.7" filter="url(#bl)"/>
<rect x="62.7" y="393.4" width="78.6" height="36.3" fill="none" stroke="#333" stroke-width="0.9"/>
<line x1="62.7" y1="393.4" x2="62.7" y2="429.7" stroke="#000" stroke-width="1.1"/>
<line x1="62.7" y1="429.7" x2="141.3" y2="429.7" stroke="#000" stroke-width="1.1"/>
<line x1="62.7" y1="429.7" x2="62.7" y2="431.7" stroke="#333" stroke-width="0.5"/>
<line x1="60.7" y1="429.7" x2="62.7" y2="429.7" stroke="#333" stroke-width="0.5"/>
<line x1="68.62" y1="429.7" x2="68.62" y2="430.9" stroke="#333" stroke-width="0.5"/>
<line x1="61.5" y1="426.97" x2="62.7" y2="426.97" stroke="#333" stroke-width="0.5"/>
<line x1="72.08" y1="429.7" x2="72.08" y2="430.9" stroke="#333" stroke-width="0.5"/>
<line x1="61.5" y1="425.37" x2="62.7" y2="425.37" stroke="#333" stroke-width="0.5"/>
<line x1="74.53" y1="429.7" x2="74.53" y2="430.9" stroke="#333" stroke-width="0.5"/>
<line x1="61.5" y1="424.24" x2="62.7" y2="424.24" stroke="#333" stroke-width="0.5"/>
<line x1="76.43" y1="429.7" x2="76.43" y2="430.9" stroke="#333" stroke-width="0.5"/>
<line x1="61.5" y1="423.36" x2="62.7" y2="423.36" stroke="#333" stroke-width="0.5"/>
<line x1="77.99" y1="429.7" x2="77.99" y2="430.9" stroke="#333" stroke-width="0.5"/>
<line x1="61.5" y1="422.64" x2="62.7" y2="422.64" stroke="#333" stroke-width="0.5"/>
<line x1="79.31" y1="429.7" x2="79.31" y2="430.9" stroke="#333" stroke-width="0.5"/>
<line x1="61.5" y1="422.03" x2="62.7" y2="422.03" stroke="#333" stroke-width="0.5"/>
<line x1="80.45" y1="429.7" x2="80.45" y2="430.9" stroke="#333" stroke-width="0.5"/>
<line x1="61.5" y1="421.5" x2="62.7" y2="421.5" stroke="#333" stroke-width="0.5"/>
<line x1="81.45" y1="429.7" x2="81.45" y2="430.9" stroke="#333" stroke-width="0.5"/>
<line x1="61.5" y1="421.04" x2="62.7" y2="421.04" stroke="#333" stroke-width="0.5"/>
<line x1="82.35" y1="429.7" x2="82.35" y2="431.7" stroke="#333" stroke-width="0.5"/>
<line x1="60.7" y1="420.62" x2="62.7" y2="420.62" stroke="#333" stroke-width="0.5"/>
<line x1="88.27" y1="429.7" x2="88.27" y2="430.9" stroke="#333" stroke-width="0.5"/>
<line x1="61.5" y1="417.89" x2="62.7" y2="417.89" stroke="#333" stroke-width="0.5"/>
<line x1="91.73" y1="429.7" x2="91.73" y2="430.9" stroke="#333" stroke-width="0.5"/>
<line x1="61.5" y1="416.3" x2="62.7" y2="416.3" stroke="#333" stroke-width="0.5"/>
<line x1="94.18" y1="429.7" x2="94.18" y2="430.9" stroke="#333" stroke-width="0.5"/>
<line x1="61.5" y1="415.16" x2="62.7" y2="415.16" stroke="#333" stroke-width="0.5"/>
<line x1="96.08" y1="429.7" x2="96.08" y2="430.9" stroke="#333" stroke-width="0.5"/>
<line x1="61.5" y1="414.28" x2="62.7" y2="414.28" stroke="#333" stroke-width="0.5"/>
<line x1="97.64" y1="429.7" x2="97.64" y2="430.9" stroke="#333" stroke-width="0.5"/>
<line x1="61.5" y1="413.56" x2="62.7" y2="413.56" stroke="#333" stroke-width="0.5"/>
<line x1="98.96" y1="429.7" x2="98.96" y2="430.9" stroke="#333" stroke-width="0.5"/>
<line x1="61.5" y1="412.96" x2="62.7" y2="412.96" stroke="#333" stroke-width="0.5"/>
<line x1="100.1" y1="429.7" x2="100.1" y2="430.9" stroke="#333" stroke-width="0.5"/>
<line x1="61.5" y1="412.43" x2="62.7" y2="412.43" stroke="#333" stroke-width="0.5"/>
<line x1="101.1" y1="429.7" x2="101.1" y2="430.9" stroke="#333" stroke-width="0.5"/>
<line x1="61.5" y1="411.97" x2="62.7" y2="411.97" stroke="#333" stroke-width="0.5"/>
<line x1="102" y1="429.7" x2="102" y2="431.7" stroke="#333" stroke-width="0.5"/>
<line x1="60.7" y1="411.55" x2="62.7" y2="411.55" stroke="#333" stroke-width="0.5"/>
<line x1="107.92" y1="429.7" x2="107.92" y2="430.9" stroke="#333" stroke-width="0.5"/>
<line x1="61.5" y1="408.82" x2="62.7" y2="408.82" stroke="#333" stroke-width="0.5"/>
<line x1="111.38" y1="429.7" x2="111.38" y2="430.9" stroke="#333" stroke-width="0.5"/>
<line x1="61.5" y1="407.22" x2="62.7" y2="407.22" stroke="#333" stroke-width="0.5"/>
<line x1="113.83" y1="429.7" x2="113.83" y2="430.9" stroke="#333" stroke-width="0.5"/>
<line x1="61.5" y1="406.09" x2="62.7" y2="406.09" stroke="#333" stroke-width="0.5"/>
<line x1="115.73" y1="429.7" x2="115.73" y2="430.9" stroke="#333" stroke-width="0.5"/>
<line x1="61.5" y1="405.21" x2="62.7" y2="405.21" stroke="#333" stroke-width="0.5"/>
<line x1="117.29" y1="429.7" x2="117.29" y2="430.9" stroke="#333" stroke-width="0.5"/>
<line x1="61.5" y1="404.49" x2="62.7" y2="404.49" stroke="#333" stroke-width="0.5"/>
<line x1="118.61" y1="429.7" x2="118.61" y2="430.9" stroke="#333" stroke-width="0.5"/>
<line x1="61.5" y1="403.88" x2="62.7" y2="403.88" stroke="#333" stroke-width="0.5"/>
<line x1="119.75" y1="429.7" x2="119.75" y2="430.9" stroke="#333" stroke-width="0.5"/>
<line x1="61.5" y1="403.35" x2="62.7" y2="403.35" stroke="#333" stroke-width="0.5"/>
<line x1="120.75" y1="429.7" x2="120.75" y2="430.9" stroke="#333" stroke-width="0.5"/>
<line x1="61.5" y1="402.89" x2="62.7" y2="402.89" stroke="#333" stroke-width="0.5"/>
<line x1="121.65" y1="429.7" x2="121.65" y2="431.7" stroke="#333" stroke-width="0.5"/>
<line x1="60.7" y1="402.47" x2="62.7" y2="402.47" stroke="#333" stroke-width="0.5"/>
<line x1="127.57" y1="429.7" x2="127.57" y2="430.9" stroke="#333" stroke-width="0.5"/>
<line x1="61.5" y1="399.74" x2="62.7" y2="399.74" stroke="#333" stroke-width="0.5"/>
<line x1="131.03" y1="429.7" x2="131.03" y2="430.9" stroke="#333" stroke-width="0.5"/>
<line x1="61.5" y1="398.15" x2="62.7" y2="398.15" stroke="#333" stroke-width="0.5"/>
<line x1="133.48" y1="429.7" x2="133.48" y2="430.9" stroke="#333" stroke-width="0.5"/>
<line x1="61.5" y1="397.01" x2="62.7" y2="397.01" stroke="#333" stroke-width="0.5"/>
<line x1="135.38" y1="429.7" x2="135.38" y2="430.9" stroke="#333" stroke-width="0.5"/>
<line x1="61.5" y1="396.13" x2="62.7" y2="396.13" stroke="#333" stroke-width="0.5"/>
<line x1="136.94" y1="429.7" x2="136.94" y2="430.9" stroke="#333" stroke-width="0.5"/>
<line x1="61.5" y1="395.41" x2="62.7" y2="395.41" stroke="#333" stroke-width="0.5"/>
<line x1="138.26" y1="429.7" x2="138.26" y2="430.9" stroke="#333" stroke-width="0.5"/>
<line x1="61.5" y1="394.81" x2="62.7" y2="394.81" stroke="#333" stroke-width="0.5"/>
<line x1="139.4" y1="429.7" x2="139.4" y2="430.9" stroke="#333" stroke-width="0.5"/>
<line x1="61.5" y1="394.28" x2="62.7" y2="394.28" stroke="#333" stroke-width="0.5"/>
<line x1="140.4" y1="429.7" x2="140.4" y2="430.9" stroke="#333" stroke-width="0.5"/>
<line x1="61.5" y1="393.82" x2="62.7" y2="393.82" stroke="#333" stroke-width="0.5"/>
<text x="63.6" y="438.4" font-size="5.6" text-anchor="middle" fill="#444">10<tspan font-size="4.5" dy="-2.2">0</tspan></text>
<text x="83.25" y="438.4" font-size="5.6" text-anchor="middle" fill="#444">10<tspan font-size="4.5" dy="-2.2">1</tspan></text>
<text x="102.9" y="438.4" font-size="5.6" text-anchor="middle" fill="#444">10<tspan font-size="4.5" dy="-2.2">2</tspan></text>
<text x="122.55" y="438.4" font-size="5.6" text-anchor="middle" fill="#444">10<tspan font-size="4.5" dy="-2.2">3</tspan></text>
<text x="142.2" y="438.4" font-size="5.6" text-anchor="middle" fill="#444">10<tspan font-size="4.5" dy="-2.2">4</tspan></text>
<rect x="103.7" y="395.1" width="26.2" height="9.8" fill="none" stroke="#000" stroke-width="0.85"/>
<rect x="103.7" y="404.9" width="26.2" height="13.6" fill="none" stroke="#000" stroke-width="0.85"/>
<rect x="112.2" y="419.8" width="20.3" height="9.9" fill="none" stroke="#000" stroke-width="0.85"/>
<text x="132.3" y="402.6" font-size="5.2" fill="#222">R2</text>
<text x="132.3" y="415.5" font-size="5.2" fill="#222">R3</text>
<text x="133.2" y="429.2" font-size="5.2" fill="#222">R4</text>
<path d="M155.8 420.1h.8M173.5 407.8h.8M169.2 418.4h.8M183.1 414.8h.8M153.6 429h.8M180.5 426.9h.8M155.4 411.9h.8M162.5 423.9h.8M159.9 420.2h.8M156.7 410h.8M163.3 416.6h.8M176.7 426.7h.8M155.2 424h.8M154.7 416.6h.8M193.3 428.9h.8M179.5 427.4h.8M185.7 422.9h.8M194.9 428.1h.8M165.2 421.4h.8M159.5 425.1h.8M158.1 418.9h.8M172.1 423.7h.8M159.1 427h.8M180.2 410.2h.8M163.6 426.4h.8M183.2 425.4h.8M168.6 418.6h.8M180 424.4h.8M168.5 409.8h.8M194 403.2h.8M167.5 426.4h.8M191.3 396.9h.8M183.7 425h.8M165.9 420h.8M179.1 399.6h.8M166.1 417.5h.8M168.2 415.2h.8M159.7 424h.8M164.2 426.7h.8M195.3 402.9h.8M178.9 419.6h.8M163.7 419.4h.8M159 414.6h.8M175.5 420h.8M158 423.8h.8M188.3 423.7h.8M185.5 421.3h.8M157.3 410.2h.8M191.3 427.8h.8M172.7 418h.8M166.1 420.1h.8M168.9 421.5h.8M184.5 427.3h.8M192.9 427.7h.8M172.9 401.8h.8M172 415.8h.8M191.8 423.4h.8M157.6 413h.8M175.3 420.5h.8M197.3 403.9h.8M163.9 422h.8M177.2 428h.8M177.4 421.5h.8M179.1 424.6h.8M181.1 405.3h.8M164.6 426.3h.8M172.3 417.4h.8M156.9 426.7h.8M187.4 420h.8M181 424.9h.8M178.8 421h.8M171.4 401.6h.8M187.6 425.5h.8M158 409.2h.8M156.7 427h.8M189 407.9h.8M188 412.4h.8M158.1 424.5h.8M165 419.4h.8M200.1 425.7h.8M185.2 409.9h.8M179.2 405h.8M179.9 420.6h.8M176.7 403.8h.8M177.1 415.4h.8M164.9 425.7h.8M177.6 424.6h.8M158.9 412.2h.8M155.5 427h.8M186.6 424.4h.8M155.6 421.3h.8M163.6 411.8h.8M156.4 423h.8M167.7 413.8h.8M153.9 414.4h.8M174.5 424.7h.8M191.4 394.5h.8M156.7 420.6h.8M180.5 428.9h.8M180 402.5h.8M189.4 423.3h.8M175.1 421.9h.8M169.4 413.4h.8M158.7 404.2h.8M169.2 420.7h.8M186.3 422.6h.8M186.8 406.9h.8M163.6 420.2h.8M176.7 427.1h.8M158.2 425.3h.8M185.7 404.9h.8M184.8 424.4h.8M177.5 410.7h.8M165 421.3h.8M182.7 419.3h.8M157.1 419.7h.8M182.8 427.8h.8M199.4 398.3h.8M162.6 395.7h.8M171.7 427.8h.8M161.7 425.1h.8M154 422.7h.8M158.4 413.9h.8M188.4 405.6h.8M187.1 398.6h.8M183.5 406.6h.8M168.5 416.5h.8M159.6 419.2h.8M155.9 425.5h.8M189.6 402.6h.8M167.6 411.4h.8M158.3 419.1h.8M196.9 400.3h.8M177.5 419.6h.8M172.7 424.4h.8M178.9 423.9h.8M185.4 412.6h.8M169.2 423.1h.8M176.1 425.5h.8M175.4 399.8h.8M195.3 424.5h.8M190.4 408.9h.8M167.6 408.7h.8M182.1 426.6h.8M184.5 413h.8M164.9 406h.8M170.5 420.6h.8M195.4 421.5h.8M164.2 425h.8M181.3 421.5h.8M188.5 396.5h.8M176.7 423.4h.8M169.6 420h.8M210.8 394.6h.8M204.5 422.4h.8M173.7 423h.8M158.3 412.5h.8M189.8 423.3h.8M192.4 422h.8M169.3 414.3h.8M166.2 406.4h.8M173.2 412.4h.8M175.7 427.2h.8M168.8 414.8h.8M161.8 424.5h.8M166 416.7h.8M187.7 412.7h.8M170.3 406.2h.8M177.9 427.6h.8M177.2 407.2h.8M179.1 428.5h.8M164.8 416.6h.8M179.3 423.7h.8M154.2 422.1h.8M162 411.8h.8M172.4 422.7h.8M183.5 423h.8M157.8 426h.8M177.7 407.6h.8M163.4 414.9h.8M157.7 420.2h.8M156.5 428.2h.8M180.5 427.5h.8M169.3 417.7h.8M185.3 428.8h.8M201.7 398.5h.8M181.8 425.3h.8M155 422.5h.8M173 422.8h.8M189.6 425.1h.8M190 418.7h.8M199.5 403.3h.8M163.3 425h.8M185.7 425.9h.8M201.9 404.9h.8M155.3 425.1h.8M155 406.9h.8M161.9 419.6h.8M160.6 426h.8M155.1 414.2h.8M178.8 417.9h.8M188.4 424.5h.8M183.4 425.9h.8M170.5 428.9h.8M191.8 402h.8M185.6 402.7h.8M187.2 424.9h.8M198.2 402.1h.8M154.6 425.1h.8M157.8 423.3h.8M166.3 408.8h.8M159 424.9h.8M168.6 413.6h.8M165.8 420.5h.8M176.4 414.5h.8M194.7 427.6h.8M163.9 423h.8M183.9 402.4h.8M163.1 424.6h.8M178.2 420.1h.8M157.2 424.1h.8M199.3 401.2h.8M160.3 416.4h.8M156.5 425.2h.8M174.6 421.8h.8M182.6 419.4h.8M182.1 418.8h.8M166.1 422.9h.8M163 425.5h.8M198.1 420.7h.8M168.7 418.1h.8M174.9 421.4h.8M173.8 418.8h.8M171.3 420.5h.8M170.8 425.7h.8M162.8 426.5h.8M199.7 402h.8M162.5 417.8h.8M174.1 425.7h.8M169.3 412.2h.8M180.2 428.4h.8M185 420.8h.8M175.9 404.8h.8M159.2 423.6h.8M172.3 421.7h.8M184.6 410.3h.8M172 423.9h.8M188.8 426.7h.8M169 428h.8M175.4 410.8h.8M165.3 424.2h.8M171.3 422.6h.8M177.8 425.4h.8M171.4 427.3h.8M181.4 414.5h.8M167.7 426.3h.8M180.8 429.1h.8M165.3 429h.8M196.9 397.8h.8M169.5 422h.8M161.4 421.7h.8M156.6 428h.8M171.2 428.1h.8M168.1 422.8h.8M180.9 428.5h.8M158.5 422.7h.8M179.7 402.8h.8M170.5 421.7h.8M193.1 408.2h.8M155.7 416.6h.8M172.4 428.1h.8M173.9 427.1h.8M183.1 417.7h.8M157.9 424.5h.8M156.9 424.5h.8M188.5 424.4h.8M171.3 411.3h.8M166.6 424.3h.8M165.2 423.2h.8M183.8 426.5h.8M200.5 398.7h.8M161.9 420.6h.8M153.9 425.3h.8M168.5 428.6h.8M170.5 427.7h.8M158.6 419.1h.8M175.3 420.5h.8M168 424.4h.8M158.8 416.3h.8M155.8 423.2h.8M162.6 421.3h.8M181.1 427.8h.8M178.2 425.2h.8M157.2 423.1h.8M176.7 406.8h.8M182.4 423.1h.8M162.2 419.9h.8M174.8 415h.8M164.3 423.7h.8M198 412.1h.8M164.8 424.3h.8M160.6 421.9h.8M173.6 421.6h.8M179.9 425h.8M174.1 428.9h.8M167.9 421.7h.8M198.3 403.9h.8M164 422.6h.8M189.4 396.9h.8M176.2 409.9h.8M169.8 423.4h.8M192.5 398.6h.8M186.5 426.2h.8M156.4 417h.8M186.1 421.7h.8M187 402.9h.8M169.4 421.3h.8M184.9 405.3h.8M178.1 420.8h.8M195.7 405.1h.8M192.3 411.9h.8M160.1 416.5h.8M190.1 426.4h.8M158.2 401.1h.8M182.3 407.7h.8M199.9 405.2h.8M154.6 408.3h.8M184.8 425.1h.8M178.3 400.7h.8M180 424.9h.8M181.6 419h.8M160.4 406.3h.8M190.6 427.8h.8M166 424.6h.8M159.4 425.9h.8M167.4 418.2h.8M164.8 424.2h.8M161.6 424h.8M166.2 411.8h.8M156.4 426.1h.8M183.4 396.7h.8M180.9 422.7h.8M169.8 413.9h.8M190.7 424h.8M179.6 425.7h.8M157 424.1h.8M179 404.5h.8M166.4 414.3h.8M196.2 394.6h.8M157.1 425h.8M180.9 422.8h.8M192.5 426.4h.8M169.1 422.5h.8M168.5 428.6h.8M174.1 397.2h.8M177 419.1h.8M171.2 414.3h.8M175.6 402.4h.8M185.3 399.6h.8M176.3 426.4h.8M155.1 426.1h.8M181.3 423.9h.8M177.4 428.3h.8M168 408.9h.8M161.4 407.9h.8M158.1 417.4h.8M155.5 426.2h.8M189.5 402.2h.8M187.1 426.8h.8M188.9 398.4h.8" stroke="#4a4a4a" stroke-width="0.8" stroke-opacity="0.75" filter="url(#bl)"/>
<path d="M182.2 422.4h.9M164 422.6h.9M183.3 424.9h.9M163.9 422.4h.9M156 421.9h.9M161.2 423.9h.9M165.2 422.4h.9M176.2 419.2h.9M167.7 422.3h.9M178 420.8h.9M162.4 418.7h.9M172.5 419.9h.9M190.7 426.3h.9M171.2 422.8h.9M184.6 423.1h.9M178.1 422.5h.9M187.7 426.4h.9M175.5 423.3h.9M164.2 420.5h.9M176.9 422.4h.9M176.2 422h.9M165.2 422.1h.9M160.2 422.1h.9M154 422.4h.9M170.4 424.2h.9M155.6 423.7h.9M173.5 422.8h.9M187.6 425.2h.9M174.1 421.5h.9M188.6 428.3h.9M169.1 421h.9M163.2 422.2h.9M182.2 421.5h.9M170.5 422.8h.9M169.8 420.8h.9M188.5 426.6h.9M160.4 423.7h.9M179.8 424.1h.9M174.7 421.6h.9M190.2 424.4h.9M169.1 421.2h.9M168.1 420.2h.9M190.3 426.4h.9M185.5 426.2h.9M172.6 420.6h.9M171.4 420.8h.9M169.7 423.9h.9M171.2 421.3h.9M172.1 422.1h.9M153.6 419.8h.9M182.3 424.5h.9M159.2 422.2h.9M165.7 419.6h.9M185.1 423.5h.9M168 416.7h.9M173.6 422.6h.9M189.4 426.9h.9M183.6 423h.9M173.6 422.9h.9M180 423.4h.9M190.1 425.8h.9M176.6 423.3h.9M155.2 420.4h.9M159.2 424h.9M184.4 423.6h.9M160.4 421.2h.9M163.2 421.7h.9M157.8 424.2h.9M167.1 423.8h.9M188.6 427.9h.9M175.8 423.2h.9M183.7 424.3h.9M190.5 427.2h.9M184 424h.9M163 421.9h.9M170.4 423.5h.9M165.4 422.2h.9M182.7 421.9h.9M158.4 421.9h.9M180.7 422.5h.9M160.5 420.8h.9M163.1 420.5h.9M180.2 420.5h.9M160.2 416.6h.9M181.1 420.1h.9M173.5 422.2h.9M185.4 426.8h.9M177.8 422.9h.9M178.6 422.4h.9M169.7 420.3h.9M178.4 420h.9M177.8 423.7h.9M176 423.8h.9M179.4 423.2h.9M185.8 424.9h.9M186 426.7h.9M181 424.5h.9M178 424.5h.9M181.7 423.5h.9M169.4 422.6h.9M177.8 423.3h.9M166.7 421.4h.9M178.2 422.4h.9M155.7 422.5h.9M155.1 423.3h.9M161 421.3h.9M171.3 424.3h.9M186.1 423.2h.9M180.9 422.8h.9M154.1 422.6h.9M159 416.8h.9M188.9 423.8h.9M175.8 422.9h.9M183.8 423.1h.9M188.5 426.7h.9M189.1 424.7h.9M159.4 420.3h.9M169.7 420h.9M168.4 420h.9M172.1 419.5h.9M181.1 421.6h.9M166.6 420.9h.9M161.3 422.3h.9M175.8 425h.9M184.5 424.6h.9M169.5 422.4h.9M191.2 429.1h.9M165 422.6h.9M164.7 420.1h.9M169.9 420.9h.9M172.8 423.5h.9M156 418.9h.9M158.8 422.2h.9M184.3 423.8h.9M187.7 425.5h.9M174.1 424h.9M161.3 423.7h.9M157.6 423.7h.9M159 422.6h.9M173 421.8h.9M171.5 417.1h.9M180.5 421.8h.9M182.4 422.8h.9M163.1 421.2h.9M173.8 420.9h.9M171.5 423.6h.9M191.4 427.8h.9M164.5 423.2h.9M157.1 423.7h.9M166.4 422.9h.9M183.7 424.5h.9M174.4 422.3h.9M171.2 423.2h.9M160.8 419.2h.9M186.3 421.7h.9M159.5 419.9h.9M189.9 426.4h.9M155.5 422.1h.9M188.4 423.4h.9M185.7 422.2h.9M176.7 420.9h.9M190.7 428.5h.9M181.4 425.7h.9M190.1 426.5h.9M191 428.4h.9M164.4 422.4h.9M187.7 425.6h.9M190.5 426.9h.9M170.6 421.8h.9M155.2 423.5h.9M181.7 425.4h.9M169.4 422.9h.9M178.5 422.2h.9M174.5 422.5h.9M157.7 419h.9M161.4 421.3h.9M165 416.8h.9M160.8 419.5h.9M187.4 425.8h.9M166 422.3h.9M163 422.7h.9M191.4 429.1h.9M175.1 422.8h.9M158.9 422.7h.9M188.9 427.1h.9M156.5 421h.9M183.4 422.4h.9M162.1 421.7h.9M154.1 423.3h.9M189.9 427.7h.9M154 424.1h.9M155.2 425.4h.9M154.7 425.9h.9M162.5 423h.9M187.2 422.3h.9M163.9 420.5h.9M177.4 422.4h.9M189.6 424.8h.9M158.6 419.1h.9M184.1 424.2h.9M156.7 421.9h.9M154.8 422.7h.9M162.2 420.2h.9M156.2 419.2h.9M171.6 422.4h.9M183 419.7h.9M187.6 426.1h.9M179.3 422.8h.9M185.1 422.2h.9M188.1 425.9h.9M189.8 423.9h.9M190.3 428.1h.9M184.1 422.7h.9M171.7 421.2h.9M178.4 422.7h.9M187.5 423.4h.9M163.4 423.2h.9M169.2 424.1h.9M161 424.5h.9M158.3 421.8h.9M186 421.4h.9M190.9 428.9h.9M156.6 424.1h.9M185.8 426h.9M157.3 423.5h.9M171.9 422h.9M166.3 420.3h.9M158.9 423.4h.9M165.1 421.4h.9M159.4 422.2h.9M165.5 421.3h.9M177.9 421.1h.9M183.4 422.8h.9M166.8 420.7h.9M182.5 423.3h.9M166.8 423.5h.9M181.4 423.3h.9M158.1 417.6h.9M187.4 425.6h.9M156.8 421.6h.9M157.6 423.5h.9M160.4 421h.9M186.8 425h.9M157.4 420.8h.9M156.6 420.9h.9M153.6 424h.9M154.5 425.3h.9M160.5 422.2h.9M155.6 422.5h.9M182.4 423.5h.9M179 419.6h.9M163.8 422.3h.9M181.1 422h.9M174.6 421.5h.9M191.5 426.8h.9M185.9 424h.9M163.6 419.3h.9M180.1 420.7h.9M159.7 423h.9M163.2 420.3h.9M153.8 425.2h.9M159.5 421.3h.9M181.5 422h.9M191.8 428.1h.9M155.8 419.1h.9M169.1 424.3h.9M175.7 421.7h.9M178.2 420.4h.9M163.5 421.3h.9M157.9 421.8h.9M181 422h.9M167.1 421.7h.9M155.5 422.4h.9M189.9 425.5h.9M183.4 425.2h.9M161.5 422.5h.9M169.8 418.7h.9M168.9 421.1h.9M183.5 424.9h.9M186.6 426.3h.9M167.3 423.4h.9M181.6 423.4h.9M160.6 423.7h.9M175.9 422.8h.9M160.2 419.5h.9M169 423.2h.9M166 421.8h.9M159.1 422.6h.9M161.9 423.3h.9M185.3 422.8h.9M179.8 422.9h.9M158.5 421h.9M169.1 420.7h.9M158.1 424.2h.9M183.7 422.9h.9M171.5 423.1h.9M160.8 424.1h.9M157.3 420.8h.9M169.3 424.1h.9M167.4 420h.9M177.7 422.9h.9M191 426.9h.9M189.3 427.5h.9M163.5 422.8h.9M155.5 424.5h.9M190 427.3h.9M175.2 422.2h.9M191 429h.9M167.2 423.2h.9M185.8 425.6h.9M173.4 424.1h.9M185.6 424.6h.9M170.8 421.9h.9M184 425.6h.9M170.8 422.9h.9M170.5 421.7h.9M177.2 423.6h.9M175.9 423.1h.9M167.8 421.5h.9M184.1 419.8h.9M166.7 419.8h.9M160.3 419.1h.9M187.1 420.3h.9M190.7 426.5h.9M158.5 421.2h.9M157.4 420.8h.9M178.7 425h.9M157.2 425h.9M167 421.8h.9M157.3 421.2h.9M191.1 428.1h.9M172.1 422h.9M179.3 420.9h.9M155.4 423.7h.9M182.3 423.8h.9M182.2 419.5h.9M165.2 421.8h.9M158.7 422.5h.9M160.8 424.6h.9M185.8 424.6h.9M162.2 421.8h.9M185.6 421.7h.9M166.4 423.1h.9M168.8 422.9h.9M161.9 419.7h.9M169.2 421.2h.9M180.5 423.1h.9M170.2 424.2h.9M163 420.9h.9M165.5 422.8h.9M159.2 423h.9M154.9 422.3h.9M154.9 423.5h.9M189.8 427.8h.9M185.9 424.3h.9M161 423h.9M178.5 423.2h.9M153.7 422.2h.9M185.6 422.3h.9M190.3 426.8h.9M181.7 422.4h.9M186.6 425.9h.9M180.9 422.8h.9M166.8 423.8h.9M156.9 425.7h.9M185.2 424.5h.9M160.4 421.5h.9M177.2 424.1h.9M165.7 424.2h.9M191.5 426.5h.9M187.4 425.3h.9M164.6 422.2h.9M166.2 419.9h.9M161.1 422.1h.9M190.9 428.3h.9M190.2 428.2h.9M161.1 421.3h.9M162.7 420.9h.9M186.5 424.3h.9M187.6 427.3h.9M178.5 417.7h.9M180.4 422.6h.9M161.5 424.2h.9M167.5 423.6h.9M170.9 418.9h.9M178.2 423.8h.9M154.4 423.8h.9M185.1 421.6h.9M178.4 423.2h.9M173.6 420.7h.9M170.6 419.6h.9M159.1 420.7h.9M170.6 423h.9M173.9 420.9h.9M156.6 423.3h.9M172.2 421.3h.9M189.8 428.2h.9M179.9 422.6h.9M174.2 421.3h.9M170.5 424.4h.9M165.2 422h.9M155.6 422.1h.9M183.4 424.1h.9M159.8 422.1h.9M185.6 424.7h.9M156.7 422.5h.9M161.6 422.3h.9M191.1 428.9h.9M163.2 421.2h.9M158.7 423.7h.9M160.8 421.8h.9M182.4 422.1h.9M173.3 417.4h.9M176 424.6h.9" stroke="#111" stroke-width="0.9" stroke-opacity="0.85" filter="url(#bl)"/>
<path d="M153.1 424.39 L153.8 423.3 L154.5 422.94 L155.2 424.04 L155.9 423.04 L156.6 423.43 L157.3 422.56 L158 423.05 L158.7 423.11 L159.4 422.99 L160.1 422.03 L160.8 422.91 L161.5 423.08 L162.2 422.88 L162.9 422.84 L163.6 421.7 L164.3 421.55 L165 421.98 L165.7 422.29 L166.4 421.63 L167.1 422.15 L167.8 421.76 L168.5 421.63 L169.2 421.92 L169.9 421.44 L170.6 421.39 L171.3 421.24 L172 422.43 L172.73 422.19 L173.45 421.54 L174.18 423.01 L174.91 421.53 L175.64 423.02 L176.36 422.52 L177.09 423.36 L177.82 422.77 L178.55 423.05 L179.27 422.84 L180 422.44 L180.75 423.22 L181.5 423.41 L182.25 422.66 L183 423.02 L183.75 423.26 L184.5 424.16 L185.25 423.38 L186 423.54 L186.8 425.08 L187.6 425.91 L188.4 424.91 L189.2 425.88 L190 427.59 L190.83 427.35 L191.67 428.45 L192.5 430 L153.1 430 Z" fill="#4a4a4a" fill-opacity="1"/>
<path d="M183.1 427.7h1M168.9 426.9h1M166.7 428.2h1M158.4 428.3h1M189.2 427.6h1M171.3 428.3h1M159 426.7h1M185.5 426.6h1M185.8 427.3h1M161.4 424.5h1M171.7 424.4h1M165.9 425.7h1M169.4 425.4h1M157.7 425.9h1M157.8 427.5h1M182.2 425.6h1M167.5 423.1h1M170.1 427h1M184 427.7h1M170 424h1M178.8 426.5h1M169.2 423.7h1M159.9 427.1h1M162.9 425.2h1M185.9 425.1h1M189.7 427.1h1M190.1 428.6h1M174.4 428.3h1M190 428.9h1M183.8 426.7h1M177.9 424.3h1M187.6 428.7h1M166.1 425h1M159.7 424.6h1M176.5 425.7h1M180 425h1M169.5 428.3h1M186.9 428.3h1M182.5 427.4h1M168 424.3h1M175.4 428.9h1M170.3 425.4h1M164.7 425.3h1M159.5 423.2h1M159.1 426.3h1M164.4 425h1M183.7 426.8h1M173.1 423.6h1M190 427.8h1M188.7 426.5h1M156.2 426h1M170.7 423h1M181.2 425.8h1M179 424.1h1M176.5 427.7h1M159.3 426.7h1M181.4 424.4h1M185 428.7h1M182 427.2h1M153.3 424.7h1M177.9 424.3h1M159.2 426h1M168.4 426h1M166.9 426.4h1M175.6 425.1h1M180.4 427.8h1M174.8 427.1h1M172.8 423.4h1M163.8 424.3h1M164.9 428.1h1M154.3 426.7h1M170.1 426.2h1M183.4 424.6h1M176.2 425.3h1M156.5 425.5h1M178.8 429h1M171.4 428.4h1M191.4 429h1M164.9 427.6h1M170 424.7h1M188 427.5h1M167.5 427.6h1M157.2 428h1M171.3 425.2h1M186.3 426.2h1M168.6 426.8h1M172.8 424.7h1M164.7 425.5h1M154 424.6h1M159.3 426.7h1M169.1 427.7h1M161.3 427h1M173.7 426.1h1M159.5 426.8h1M153.5 424.6h1M158.8 424h1M172 427.8h1M183.3 426.5h1M186.3 428.9h1M168.5 427.4h1M162.1 426.6h1M163.5 425.3h1M161 426.6h1M168.4 423.3h1M168.3 424.4h1M168.6 427.7h1M165.5 428.8h1M165.8 425.1h1M189.8 427.4h1M162.8 427.8h1M178.7 423.2h1M166.4 427.2h1M183.1 428.9h1M177.2 428.4h1M181.9 428.8h1M161.1 425.5h1M181 424.6h1M184 424.5h1M153.4 425.6h1M176.4 428.5h1M163 426.7h1M164.6 423.5h1M155.1 429h1M186.5 428.3h1M187.9 426.5h1M172.9 423.8h1M185 427.8h1M163 428.3h1M175.8 427.7h1M185.8 427.7h1M178.3 427.7h1M158.8 425.5h1M168 425.1h1M180.7 423.6h1M176.3 429h1M171.9 424.2h1M187.3 427.7h1M169.9 427.8h1M188.9 427.8h1M155.9 424.1h1M183.2 428.6h1M168.3 422.8h1M188.8 427.3h1M163.2 423.5h1M162.3 426.1h1M176.2 423.6h1M161.1 426.1h1M163.5 425.9h1M159.2 424.7h1M167.8 425.6h1M162.7 428.2h1M171 428.9h1M183.9 425h1M157.5 428.8h1M176.9 423.5h1M167.5 426.4h1M178.8 424.6h1M167.7 422.9h1M175.2 422.8h1M155.2 428.8h1M154.6 427.1h1M190.6 428.5h1M154.8 426h1M161.1 425.6h1M188.6 426.7h1M154.4 425.2h1M181.1 425h1M179.1 424.8h1M171.8 423h1M191.1 428.8h1M170.6 425.3h1M154.1 424.5h1M163.4 427.5h1M185.4 424.8h1M187.7 428h1M161.3 423.2h1M186.5 426.4h1M166.8 423.2h1M170.8 423.3h1M168.9 423.6h1M176.4 428.3h1M162.4 425.4h1M177.7 428.3h1M181 427.9h1M189.4 429h1M166 427.7h1M160.8 427.2h1M166.7 424.9h1M164.9 423.6h1M173.5 426.7h1M187 428.2h1M174.4 423.8h1M166 428.8h1M183.4 425.3h1M183.1 427.8h1M167.8 426h1M163.4 426.7h1M162 424.9h1M182.3 425.1h1M183.9 428.2h1M173.1 426.1h1M167.1 426.5h1M191.5 429.1h1M163.4 424h1M155.6 426.7h1M169.9 422.6h1M158.5 425.1h1M189.6 428.8h1M189.9 427.6h1M179.4 426.1h1M184.3 427.3h1M159.8 427.6h1M187.3 427.1h1M168.8 424.7h1M167.8 423.7h1M165.2 425.5h1M166.5 428.6h1M163.7 428.1h1M184.1 428.5h1M165.3 425.3h1M167.1 424.7h1M162.2 425.4h1M176.7 424.7h1M177.4 423.2h1M160.8 423.2h1M174.8 424.7h1M163.6 424.8h1M190.8 428.7h1M160.8 425.9h1M163.4 428.4h1M156.6 427.8h1M172.5 423h1M191.3 429h1M181.8 426.2h1M174.1 425.3h1M173.3 424.2h1M155.9 426.4h1M184.1 426.5h1M164.8 427.9h1M156.6 427.1h1M173.9 428.4h1M158.4 428.3h1M170.7 423.2h1M183.6 428.4h1M166.4 427h1M183.4 426.7h1M158.2 426.5h1M178.6 427.1h1M178.3 428.6h1M177.3 423.9h1M162.1 427.4h1M190.9 428.5h1M186.7 428.7h1M165.3 425.3h1M173.4 423.6h1M186.7 426.7h1M188.4 427.6h1M169.6 428.4h1M165.7 426.9h1M182.6 426.7h1M159.6 425.9h1M157 428h1M187.2 428.9h1M154.6 425.3h1M167.1 425.1h1M164.2 424.4h1M157.5 428.9h1M155.6 428.3h1M162.7 427.3h1M173.7 424.1h1M170.4 423.6h1M177 423.7h1M159.1 427.5h1M166.6 425.2h1M187.2 426.7h1M173.6 425.7h1M162.6 428.5h1M168.8 425.9h1M190.7 428.9h1M157.9 424h1M189.6 427.5h1M178.6 428h1M174.8 426.4h1M172.3 424.9h1M155.8 426h1M170.3 422.8h1M170.7 426.1h1M162.8 424.7h1M164 425.8h1M185.7 425h1M176.1 425h1M173.6 423.9h1M187.4 426.5h1M162.9 428.9h1M178 428.9h1M169.5 423.2h1M189.9 427.8h1M160.7 428.5h1M160.8 428.7h1M170.5 428.7h1M172.3 422.9h1M173.4 428.3h1M178.2 423.7h1M160.6 423.6h1M168.2 427.6h1M159.3 425.6h1M182.9 427.3h1M160.6 428h1M159.1 425h1M182.7 426.6h1M155.1 424.6h1M153.2 425.9h1M189 426.7h1M191 429h1M174.8 423.2h1M156.7 425.6h1M161.3 426.1h1M157.2 425.2h1M184.6 427.6h1M169.2 427.5h1M164.1 426.7h1M167.2 427.7h1M168.1 428.8h1M157 423.6h1M178.1 428.5h1M185.9 425.2h1M170.5 428h1M190.8 428.7h1M172.8 428.7h1M187.1 427.7h1M163.3 428.1h1M159.1 427.2h1M156.1 428.6h1M176.5 428.8h1M179.4 423.5h1M153.3 428.9h1M181.1 426.1h1M161 426.7h1M157.4 423.6h1M177.9 427.2h1M183.5 428.3h1M179.1 426.5h1M180.4 426.5h1M190.6 428.9h1M158 425.3h1M154.8 428.8h1M160.6 427.2h1M159.3 427.8h1M157.8 424.3h1M185.7 425.5h1M162.4 428.6h1M189.6 427.2h1M177.4 425.1h1M169.8 427h1M163.1 423.7h1M161.8 425.3h1M158.7 425.4h1M182.4 425.4h1M174.8 425.3h1M153.4 425.9h1M176.1 424.1h1M155.8 423.6h1M187.9 428.8h1M156.4 426.1h1M160.5 425.6h1M166 427.6h1M171.3 424.8h1M180.1 427.8h1M162.2 424.4h1M172.6 423.9h1M156.6 424.3h1M180.4 425.9h1M171.9 424.2h1M158.5 426.8h1M176.9 423.4h1M183.7 427.5h1M168.6 427.3h1M163.7 423.5h1M162.9 428.1h1M173.7 426.4h1M177.6 427.1h1M188.8 427.3h1M166.8 423.1h1M154.3 423.9h1M161.4 428.8h1M171.6 427.9h1M176.5 425h1M187.8 427.9h1M169.4 424.9h1M171.3 428.3h1M189.7 428.3h1M173.4 427.7h1M178.4 429h1M171.4 428.1h1M174 425h1M186.7 425.6h1M178.6 425.3h1M178.2 426.1h1M169.7 422.6h1M159.2 425.7h1M164.8 424.7h1M162.9 426.4h1M160.3 425.7h1M173.5 423.4h1M182.2 425.9h1M179.9 424.2h1M184.5 426.7h1M186 428.9h1M162 426.6h1M185.4 428.6h1M174.3 428.8h1M173.4 423.1h1M191 428.9h1M160.1 426.4h1M191 428.9h1M168.5 426h1M184.5 428.6h1M157.8 425.1h1M159.3 425.2h1M155 427.2h1M177.3 423.3h1M171.5 428.4h1M165.6 425.7h1M186.8 426.5h1M176.3 425.5h1M182 426.7h1M173.8 428.6h1M176.7 425.7h1M158.7 424.6h1M175.4 425.3h1M180 424h1M179.5 424.3h1M161.5 428.5h1M166 427.9h1M161.4 427.2h1M155.3 427.5h1M154.3 426.1h1M154.4 424.5h1M177.6 423.9h1M157 425.8h1M177.2 423.1h1M176.3 427.7h1M191 428.7h1M186.6 426.6h1M181 427.7h1M184.9 427.9h1M189.9 427.9h1M169.2 428.9h1M181.3 426h1M156.9 428.3h1M179.5 427.7h1M174.4 426.8h1M187.4 426.9h1M173.4 426.6h1M190.5 428.9h1M178.5 428.2h1M162.8 427.1h1M179 427.4h1M159.3 427h1M176.9 428.4h1M169.2 424h1M175.2 423.4h1M176.4 424.8h1M180.4 427.8h1M174.3 424.4h1M175.8 426.9h1M174.8 428.1h1M172.8 425.4h1M180.4 423.4h1M179 426.8h1M188.2 428.9h1M189.9 428.4h1M167.2 425.3h1M171.1 425.1h1M164 424.1h1M180.2 424.5h1M184.4 424.8h1M153.7 427.9h1M168.8 426.1h1M157.5 424.5h1M182.9 426h1M186.1 427.5h1M187.8 428.6h1M166.4 427h1M165.8 428.5h1M169.8 424.5h1M178.8 425.8h1M175.4 427.7h1M176 424.7h1M155 426.9h1M186.2 426.3h1M170.9 422.8h1M155 426.2h1M184.4 424.5h1M190.8 428.6h1M174.6 426.1h1M158.4 426.8h1M156.8 427.7h1M185 428h1M167.8 423.1h1M160.4 423.8h1M157.8 424.8h1M170.8 428.4h1M186.3 425.9h1M190.6 428.8h1M172.5 428.1h1M169.2 423.2h1M179.4 426.3h1M182 426h1M189.4 427.5h1M177.6 426.5h1M165.4 427.9h1M161.2 427.2h1M188.5 428.9h1M163.4 423.3h1M155.2 424.1h1M183.7 424.6h1M181.5 425.8h1M176.9 425.6h1M166.8 425.4h1M181.1 427.3h1M156.5 424.6h1M160.6 427.7h1M154.3 425.4h1M184.9 424.6h1M165.3 424.8h1M176.9 426.7h1M157.6 428.4h1M168.2 423.9h1M161.6 426h1M162.9 424.8h1M166.8 423.7h1M179 424.6h1M190 428.1h1M154 426.2h1M188.1 428.6h1M184.3 424.4h1M170.6 425.7h1M186 426.3h1M181.4 426.3h1M157 428h1M170 424.5h1M177 428.7h1M177.2 425.9h1M190.9 428.4h1M185.3 426.9h1M179.2 423.4h1M183 425.3h1M160 425.7h1M155.8 426.2h1M178.1 424.1h1M160.6 424.1h1M153.1 426.6h1M183.8 426.2h1M182.8 426.8h1M185.9 425.2h1M162.9 428.5h1M174.4 425.9h1M165.6 427.3h1M172.2 424.8h1M158.9 428.5h1M183.5 425.5h1M185.8 426.2h1M153.4 424.6h1M163.2 423.3h1M168.4 428.8h1M174 425.9h1" stroke="#000" stroke-width="1" stroke-opacity="0.9" filter="url(#bl)"/>
<path d="M214.7 403.1h.8M202.6 401.8h.8M208.2 402.9h.8M210.6 402.6h.8M207 403.5h.8M209.3 401.9h.8M214.5 398.5h.8M201.8 404h.8M216.5 402.4h.8M201.6 398.7h.8M211.5 403.3h.8M206.3 401.8h.8M207.9 402.2h.8M207.5 401.7h.8M207.6 400.5h.8M202.9 403.9h.8M211.6 399.8h.8M204.3 399.6h.8M208.1 402.5h.8M214.5 403.7h.8M212.9 401.7h.8M212.6 399.4h.8M207.7 400.9h.8M211.2 400.7h.8M205.5 400h.8M206.3 401.4h.8M208.1 403.2h.8M212.8 400.3h.8M207.5 398.8h.8M210 400.3h.8M211.2 400.4h.8M204.7 403.3h.8M216 402.3h.8M208.5 402.7h.8M207.9 401.5h.8M196.3 401.4h.8M197.1 401.6h.8M203.8 401.6h.8M207.1 399.6h.8M212 401.6h.8M208.5 401.2h.8M203.6 399.9h.8M207.5 403.7h.8M212.4 401.2h.8M207.9 400.1h.8M203 402.1h.8M211.1 398.9h.8M209.8 400.3h.8M209.9 401h.8M202.7 403h.8M211 400.8h.8M204.9 401.2h.8M205.9 400.5h.8M204.2 399.4h.8M208.2 402.4h.8M211.6 404.2h.8M203.1 398.8h.8M204.9 401.6h.8M206.6 398.7h.8M211.4 399.7h.8M205.9 400.1h.8M200.5 402h.8M209.5 400.2h.8M207.3 400.5h.8M207.3 400.4h.8M207.9 400.8h.8M209.7 403h.8M207.8 401.9h.8M208.2 401.7h.8M205.2 401.2h.8M205.2 399.8h.8M204.5 402h.8M207.2 402.2h.8M210.9 400.3h.8M206.6 403.7h.8M206.4 404.2h.8M205 399.9h.8M205.1 399.6h.8M205.2 402.4h.8M209.8 404h.8M211 403h.8M212.8 401.3h.8M198.9 400.9h.8M211.3 401.9h.8M206.9 401.3h.8M205.5 402.1h.8M208.3 401.3h.8M207.4 402.2h.8M208.4 402.1h.8M210.4 401.2h.8M212.7 399.8h.8M209.4 401.8h.8M213.7 401.8h.8M211.8 403.2h.8M208.6 402.2h.8M204.6 402.9h.8M205 402.1h.8M205.4 401.7h.8M210 402.4h.8M206.3 402.6h.8M198.9 401.2h.8M206.1 401.3h.8M210.7 400.8h.8M205.6 403h.8M203.7 401.6h.8M198.6 401.2h.8M207.7 398.5h.8M206.4 401h.8M210.2 400.1h.8M194.6 401.7h.8M202 403.2h.8M209.7 398.7h.8M199.1 400.3h.8M209.2 404.7h.8M206.2 401.7h.8M203.1 401.9h.8M205 402.4h.8M209.6 399.6h.8M207 402.1h.8M203.6 402.9h.8M199.6 400.6h.8M206.4 401.7h.8M205.5 402.5h.8M209 401.8h.8M205.6 401.9h.8M202.6 401h.8M204.7 399.8h.8M209.3 402h.8M205.9 398.9h.8M207.3 400h.8M214.5 401.5h.8M207.5 399.9h.8M210 400.5h.8M219.1 401.9h.8M204 400h.8M206.2 400.3h.8M204.2 401.8h.8M206.1 400.3h.8M203.1 400.7h.8M210.8 400.3h.8M208.7 403.1h.8M206.5 400.7h.8M211.7 401.4h.8M201.3 400.2h.8M211 399h.8M204.2 402.7h.8M202.1 402h.8M203 400.3h.8M199.6 402.6h.8M208.9 399.1h.8M206.9 400.2h.8M213.9 400.7h.8M210.1 400.4h.8M194.5 401.1h.8M197.6 401.2h.8M207.1 402.1h.8M213.3 402.3h.8M201.9 402.6h.8M205.9 400.8h.8M202.7 400.2h.8M212 400.4h.8M204.9 402.1h.8M209.9 403.2h.8M212.5 402.4h.8M213.8 404.2h.8M205.9 402.3h.8M206.6 401.2h.8M203.1 401.6h.8M203.8 402h.8M212.1 401h.8M194.8 404.8h.8M208.9 400.4h.8M205.5 401.1h.8M205.4 403.4h.8M200.6 401.4h.8M197 402.2h.8M206.9 402.2h.8M208.9 402.4h.8M196.5 399.7h.8M205.1 398.7h.8M206 401.1h.8M198.8 402.6h.8M200.1 400.1h.8M202 402.6h.8M206.7 401.5h.8M215.1 400h.8M204.2 400h.8M209.2 402.3h.8M209.2 400h.8M203 400.3h.8M204.7 400.5h.8M211.7 398h.8M205.2 400.4h.8M213.8 400h.8M201.6 401.2h.8M207.5 402.6h.8M208.3 401.6h.8M207.1 400.6h.8M210.3 400.1h.8M202.5 400.9h.8M205.2 401.1h.8M202.3 399.8h.8M202.2 401.3h.8M215.8 403.4h.8M213.1 401.4h.8M212.5 403.3h.8M204 400.5h.8M202.9 399.5h.8M204.8 400.5h.8M208.9 399.6h.8M205 399.4h.8M210.2 401.2h.8M216.7 401.3h.8M211.3 401.4h.8M199.8 400.3h.8M201.4 399.6h.8M213.7 399.5h.8M203.3 402.5h.8M201.6 400.6h.8M207.5 398.6h.8M215.6 402.4h.8M213.9 402.5h.8M199 401.3h.8M202.5 398.3h.8M195.3 399h.8M197.9 402.5h.8M204.6 398.8h.8M202 402.1h.8M195.4 401.2h.8M207.1 399.6h.8M202.1 402.6h.8M202.5 398.6h.8M199.5 401.6h.8M203 401.8h.8M210.5 401.8h.8M199.2 402.4h.8M212 402.2h.8M213 403.1h.8M207.4 402.2h.8M209.4 400.3h.8M208.9 401.9h.8M208 399.6h.8M211.1 399h.8M197.6 400.5h.8M219.1 400h.8M213.9 400.5h.8M201.9 399.4h.8M199.3 401.5h.8M205.3 403.4h.8M210.1 400.6h.8" stroke="#222" stroke-width="0.85" stroke-opacity="0.9" filter="url(#bl)"/>
<path d="M205.3 400.1h.8M214.1 402.3h.8M206.6 400.8h.8M213.5 400.7h.8M214.7 400.5h.8M211.6 400.9h.8M206.9 399.5h.8M205.5 400.9h.8M211.4 402.2h.8M206.7 400.6h.8M213.1 401.6h.8M215.8 400.8h.8M210.8 399.9h.8M208.2 400.8h.8M208 402.2h.8M208.1 400.6h.8M206 400.3h.8M209.9 400.3h.8M213.8 400.9h.8M214.3 401.8h.8M211.1 401.5h.8M207.1 400.9h.8M208.8 401.5h.8M208.2 402.4h.8M211.6 399.3h.8M211.1 398.7h.8M209.3 399.9h.8M210.1 401.1h.8M209.6 402.1h.8M204.7 400.2h.8M208.7 400.3h.8M208.6 402.7h.8M214.1 402.9h.8M205.3 400.8h.8M213.7 401h.8M210.6 403.1h.8M211.6 401.8h.8M212.6 399.3h.8M215.3 402h.8M206.4 400.3h.8M209.6 399.9h.8M212.7 400.5h.8M210.3 400.7h.8M207.6 401h.8M206.5 401.3h.8M210.7 400.1h.8M206.8 402.1h.8M209.6 403.3h.8M216.6 399.2h.8M209.3 402.3h.8M206.4 400.1h.8M207.7 399.7h.8M211.6 400.2h.8M209 400.8h.8M213.3 399.8h.8M215 400.7h.8M215.6 401h.8M209.6 402.2h.8M212.4 400.8h.8M209 400.3h.8M213.1 399.4h.8M209.7 401.1h.8M210.1 400.3h.8M212 399.2h.8M211.7 402.1h.8M210.9 399.1h.8M210.6 400.9h.8M208.6 401.1h.8M207.5 399.7h.8M211.3 399.9h.8M209.4 401.3h.8M207.7 400h.8M208.8 399.5h.8M212.1 399.2h.8M211.6 402h.8M213 400.8h.8M208.2 400.9h.8M208.2 400.3h.8M211.2 399.1h.8M212.9 400.7h.8M211.8 400.6h.8M210.5 400.6h.8M208.4 400.4h.8M214.2 400.5h.8M211.4 401.8h.8M210.8 402.3h.8M210 402.1h.8M211.2 400h.8M210.7 402.3h.8M210.8 399.3h.8M205.1 401.4h.8M213.1 400.3h.8M209.6 401.4h.8M206.3 401.9h.8M209.6 401.5h.8M209.7 400.4h.8M207.9 399.8h.8M211.9 399.7h.8M211.7 399.4h.8M208.4 400.5h.8M209.3 400.1h.8M215.9 401.8h.8M213.6 400h.8M208.4 401h.8M211.3 400.2h.8M203.7 401.3h.8M211.2 400.8h.8M211.2 400.2h.8M210.3 401.4h.8M217.4 400.3h.8M207.3 399.4h.8M208.5 400.1h.8M214.1 399.3h.8M202.9 400.9h.8M209.6 400.9h.8M207.3 399.7h.8M216.5 399.6h.8M209.9 400.8h.8M209.9 401.7h.8M211 403h.8M211.7 400.6h.8M212.1 398.9h.8M204.7 400h.8M209.7 400.9h.8M212.7 400.1h.8M211.9 400h.8M212.8 400.2h.8M210.6 403h.8M213.2 400.1h.8M209.8 400h.8M208.2 400.4h.8M208.8 399.8h.8M210.3 402.1h.8M207.5 400.7h.8M212.4 399.8h.8M214.2 401.9h.8M210.5 400.2h.8M210.5 400.5h.8M211.3 402.1h.8M209.6 399.2h.8" stroke="#111" stroke-width="0.85" stroke-opacity="0.95" filter="url(#bl)"/>
<path d="M200 409.2h.8M197.4 407.1h.8M201 411.7h.8M195.3 403.9h.8M200.9 413.8h.8M201.1 418.2h.8M205.6 411.7h.8M204.8 409.6h.8M202.8 409.3h.8M191.8 409.2h.8M197.8 409.5h.8M193.9 406.4h.8M198.7 405.6h.8M206.8 411.2h.8M196.4 410.6h.8M197.6 411.7h.8M203.4 412.2h.8M200.5 412.9h.8M193.6 415.2h.8M200.7 408.7h.8M206.6 415.2h.8M204.4 414.7h.8M203.7 409.2h.8M198.2 414.3h.8M194.6 411.3h.8M191.8 411.3h.8M202.3 410.8h.8M196.1 409.3h.8M201.9 411.7h.8M202.5 405.6h.8M203.7 410.6h.8M202.7 411.9h.8M200.8 408.8h.8M201.6 409.7h.8M201.6 412.4h.8M206.5 411.9h.8M199 412.1h.8M200.1 414h.8M200.6 410.9h.8M192.7 411.2h.8M196.3 410h.8M203.7 411.8h.8M205.6 409.9h.8M197.2 408.7h.8M201.4 412.7h.8M204.8 410.9h.8M195.7 411.5h.8M198.9 413h.8M208.3 411.2h.8M203.8 417.4h.8M203.2 404h.8M206.2 416.6h.8M201.2 411.9h.8M196.2 413.7h.8M193.4 414.9h.8M200.5 416.9h.8M200.1 412.1h.8M197.5 412.1h.8M207.3 411.1h.8M200.5 414.8h.8M203 408.3h.8M192.9 408.6h.8M203.1 410.5h.8M200.9 413.3h.8M203.7 408.4h.8M200 410.2h.8M202.9 412.2h.8M203.6 412.6h.8M201.5 413.6h.8M203.7 416.5h.8M201.2 410h.8M200 413.8h.8M198.5 415.2h.8M206.7 408h.8M197.2 408.6h.8M203.5 414.3h.8M195.3 409.5h.8M201 413.7h.8M200.2 415.9h.8M195.5 414.5h.8M200.6 412.5h.8M205.9 410.8h.8M194.6 408.6h.8M203.4 415.3h.8M203.1 410.6h.8M199 412.2h.8M199.9 414.9h.8M198.5 412.9h.8M203.1 409.8h.8M198.3 408.4h.8M198.2 410.4h.8M206.5 410.2h.8M198.3 410.1h.8M199.7 409.5h.8M194.6 411.2h.8M200 406.6h.8M206.6 411.4h.8M203 413.2h.8M197.2 414.2h.8M198 409.8h.8M210 415.5h.8M202.6 406.4h.8M202.8 404.1h.8M200.4 415.3h.8M202.8 413.7h.8M200.6 416.5h.8M200.3 416.6h.8M198.1 415.3h.8M202 407.5h.8M192.5 410.3h.8M200 413.2h.8M201.4 419.7h.8M199.4 410.6h.8M196.4 415.2h.8M200.9 413.1h.8M201.2 414.4h.8M201 411.6h.8M198.6 411.6h.8M200.6 416.8h.8M206.4 411.4h.8M203.9 409.2h.8M202.8 409.8h.8M209.8 412.7h.8M205.1 416.3h.8M206.3 408.6h.8M200.5 412.3h.8M203.7 411.3h.8M203.5 415.3h.8M198.4 412.1h.8M196.2 408.1h.8M200.2 409.5h.8M200.4 418.1h.8M196.9 409.2h.8M199.1 408.9h.8M198.3 416.2h.8M194.6 413.7h.8M196.5 411.7h.8M204.4 412.4h.8M204.2 405.7h.8M194.5 410.5h.8M202 409.4h.8M196.3 402.8h.8M204.6 410.3h.8M203.7 413.5h.8M198.2 410h.8M197.5 410.1h.8M201.6 407.1h.8M196.3 410.4h.8M201.2 410.1h.8M202.5 409.5h.8M192.2 409.1h.8M205 410h.8M200.7 414.2h.8M194 412.5h.8M205.9 411.6h.8M196.2 412.5h.8M204.8 408.9h.8M200.8 405.4h.8M202 413.3h.8M202.3 407.6h.8M205.3 413.9h.8M194.8 413.5h.8M199.8 412.1h.8M203.4 411.6h.8M199.6 410.4h.8M200.2 414.1h.8M202.1 406.9h.8M202 414.3h.8M197.2 407.5h.8M204 415h.8M202.7 411.2h.8M196 411.8h.8M201.9 410.7h.8M204.9 408.4h.8M205.3 409.4h.8M201.7 410.3h.8M196.3 407.7h.8M203.4 413h.8M199.3 406.4h.8M198 408.6h.8M203.8 411.7h.8M201.1 411.1h.8M206.8 405.8h.8M207.9 416.7h.8M199.7 408.5h.8M195.6 413h.8M197.6 416.6h.8M202.3 413.9h.8M197.5 405.9h.8M199.5 411.2h.8M205.5 412.5h.8M203.6 414.7h.8M208.6 410.1h.8M200.9 413.2h.8M200.5 415.8h.8M209 414.7h.8M196.2 407.3h.8M196.1 406.4h.8M203.4 410.5h.8M202.3 407.6h.8" stroke="#3a3a3a" stroke-width="0.8" stroke-opacity="0.8" filter="url(#bl)"/>
<path d="M210.4 422h.8M213.1 424.6h.8M206.5 424.7h.8M196.1 427.5h.8M219.4 420.3h.8M219.5 423.1h.8M212.4 423.5h.8M212 425.3h.8M212.1 426.9h.8M208 425.1h.8M205.4 429h.8M207.6 424.3h.8M202.3 426.4h.8M211.3 423.2h.8M209.1 424.3h.8M204.3 427.7h.8M210.9 428.7h.8M207.5 427.7h.8M205.9 424.3h.8M214.9 427.7h.8M214.2 426.4h.8M209.6 425.4h.8M213.8 423h.8M217 423.5h.8M206.5 419.9h.8M209.4 416.9h.8M212.1 428.7h.8M203 420.7h.8M214.7 423.3h.8M210.8 424.9h.8M213.4 422h.8M212.9 428.6h.8M207.1 426.6h.8M210.8 427h.8M214.1 426.9h.8M206.4 427.7h.8M217.1 418.8h.8M212.5 423.5h.8M218.6 426.8h.8M208.9 422.8h.8M207.1 422.8h.8M203.7 423.1h.8M217.5 428.4h.8M215.9 426.9h.8M219.1 421.5h.8M204.1 427.3h.8M205.6 428.2h.8M199.8 424.4h.8M208.3 427h.8M210.4 426.8h.8M210.2 426.8h.8M220.2 428.1h.8M213.7 424.1h.8M208.9 426.2h.8M214.3 428h.8M213.8 424.7h.8M203.9 425h.8M213 423.7h.8M208.7 422h.8M212.9 422.3h.8M211.8 422h.8M208.3 427.1h.8M209 424.7h.8M214.4 422.6h.8M215.2 426.6h.8M209.4 426.8h.8M211.3 426.9h.8M201.3 424.8h.8M210.8 425.4h.8M218.7 426.1h.8M214.4 427.2h.8M214.4 425.5h.8M212.1 425.4h.8M207.1 425.5h.8M203.7 428.7h.8M213.3 424.6h.8M209.6 428.9h.8M209.1 428h.8M210.6 421.9h.8" stroke="#3a3a3a" stroke-width="0.8" stroke-opacity="0.7" filter="url(#bl)"/>
<path d="M197.4 420.2h.8M192.6 420.1h.8M199.5 427.3h.8M191.9 413.3h.8M188.6 416.9h.8M200.8 422.5h.8M193.8 423h.8M195.8 421.5h.8M195.7 419.8h.8M200.5 417.4h.8M197.6 424h.8M194.9 423.2h.8M199.1 427h.8M199.2 428.9h.8M188.4 420.1h.8M195.9 418.9h.8M190.9 422.4h.8M204.3 426h.8M192.6 427h.8M195.7 420.8h.8M194.8 423.2h.8M198.9 426.6h.8M204.8 424.4h.8M197.9 420.6h.8M195 415.9h.8M202.3 417.2h.8M195.3 423.2h.8M193.1 415.3h.8M193.6 424.2h.8M194.3 421.5h.8M200.6 418.6h.8M200 421h.8M189.9 424.8h.8M193.5 421.8h.8M193.4 418.8h.8M193.3 421.2h.8M196.4 424.1h.8M197.5 419.7h.8M196.9 421.1h.8M200 425.5h.8M200.2 421.1h.8M192.2 424.7h.8M193.6 426.1h.8M193.7 419h.8M191.6 425.4h.8M191 427h.8M191.6 421.5h.8M193.8 417.5h.8M196.7 415.7h.8M194.9 427.3h.8M195.1 428.1h.8M192 424.9h.8M203.2 424.7h.8M197 416.9h.8M195.7 424.3h.8M200.1 420.7h.8M201.9 424.2h.8M196.7 422.1h.8M192.6 427.5h.8M200.6 425.1h.8M195.4 422h.8M197.1 425h.8M193.3 420.2h.8M191.2 421.9h.8M194.8 417.4h.8M195.7 420.4h.8M201.1 423.3h.8M199.2 422.4h.8M195.1 424.3h.8M195.5 413.5h.8M194.6 428.6h.8M201.3 418h.8M193.1 421.1h.8M199.7 421.3h.8M196.8 419.5h.8M197.5 425.7h.8M194.4 416.8h.8M198.1 425.2h.8M195.1 413.9h.8M196.1 420.2h.8M195.6 426.3h.8M197.5 422.2h.8M188.3 423.4h.8M190.9 427.9h.8M200.5 421.6h.8M196.3 420h.8M198.3 418.9h.8M194 421.7h.8M194.2 415.6h.8M189.4 421.1h.8M194.9 420.5h.8M195.4 422.8h.8M196.2 420.7h.8M195.2 422h.8M192.7 426.9h.8M190.8 421.2h.8M192.7 419.6h.8M198.9 423.2h.8M198.2 425.1h.8M191.6 425h.8M192.1 418.2h.8M186.9 423.3h.8M195.8 420.4h.8M186.7 428h.8M192.2 426.5h.8M198.2 422.8h.8M193.9 421.9h.8M198 423h.8M196.9 421h.8M190.6 423.2h.8M193.3 420h.8M194.7 427.5h.8M191.8 422.1h.8M188.8 427.2h.8" stroke="#3a3a3a" stroke-width="0.8" stroke-opacity="0.6" filter="url(#bl)"/>
<rect x="153.1" y="393.4" width="79.5" height="36.6" fill="none" stroke="#333" stroke-width="0.9"/>
<line x1="153.1" y1="393.4" x2="153.1" y2="430" stroke="#000" stroke-width="1.1"/>
<line x1="153.1" y1="430" x2="232.6" y2="430" stroke="#000" stroke-width="1.1"/>
<line x1="153.1" y1="430" x2="153.1" y2="432" stroke="#333" stroke-width="0.5"/>
<line x1="151.1" y1="430" x2="153.1" y2="430" stroke="#333" stroke-width="0.5"/>
<line x1="159.08" y1="430" x2="159.08" y2="431.2" stroke="#333" stroke-width="0.5"/>
<line x1="151.9" y1="427.25" x2="153.1" y2="427.25" stroke="#333" stroke-width="0.5"/>
<line x1="162.58" y1="430" x2="162.58" y2="431.2" stroke="#333" stroke-width="0.5"/>
<line x1="151.9" y1="425.63" x2="153.1" y2="425.63" stroke="#333" stroke-width="0.5"/>
<line x1="165.07" y1="430" x2="165.07" y2="431.2" stroke="#333" stroke-width="0.5"/>
<line x1="151.9" y1="424.49" x2="153.1" y2="424.49" stroke="#333" stroke-width="0.5"/>
<line x1="166.99" y1="430" x2="166.99" y2="431.2" stroke="#333" stroke-width="0.5"/>
<line x1="151.9" y1="423.6" x2="153.1" y2="423.6" stroke="#333" stroke-width="0.5"/>
<line x1="168.57" y1="430" x2="168.57" y2="431.2" stroke="#333" stroke-width="0.5"/>
<line x1="151.9" y1="422.88" x2="153.1" y2="422.88" stroke="#333" stroke-width="0.5"/>
<line x1="169.9" y1="430" x2="169.9" y2="431.2" stroke="#333" stroke-width="0.5"/>
<line x1="151.9" y1="422.27" x2="153.1" y2="422.27" stroke="#333" stroke-width="0.5"/>
<line x1="171.05" y1="430" x2="171.05" y2="431.2" stroke="#333" stroke-width="0.5"/>
<line x1="151.9" y1="421.74" x2="153.1" y2="421.74" stroke="#333" stroke-width="0.5"/>
<line x1="172.07" y1="430" x2="172.07" y2="431.2" stroke="#333" stroke-width="0.5"/>
<line x1="151.9" y1="421.27" x2="153.1" y2="421.27" stroke="#333" stroke-width="0.5"/>
<line x1="172.97" y1="430" x2="172.97" y2="432" stroke="#333" stroke-width="0.5"/>
<line x1="151.1" y1="420.85" x2="153.1" y2="420.85" stroke="#333" stroke-width="0.5"/>
<line x1="178.96" y1="430" x2="178.96" y2="431.2" stroke="#333" stroke-width="0.5"/>
<line x1="151.9" y1="418.1" x2="153.1" y2="418.1" stroke="#333" stroke-width="0.5"/>
<line x1="182.46" y1="430" x2="182.46" y2="431.2" stroke="#333" stroke-width="0.5"/>
<line x1="151.9" y1="416.48" x2="153.1" y2="416.48" stroke="#333" stroke-width="0.5"/>
<line x1="184.94" y1="430" x2="184.94" y2="431.2" stroke="#333" stroke-width="0.5"/>
<line x1="151.9" y1="415.34" x2="153.1" y2="415.34" stroke="#333" stroke-width="0.5"/>
<line x1="186.87" y1="430" x2="186.87" y2="431.2" stroke="#333" stroke-width="0.5"/>
<line x1="151.9" y1="414.45" x2="153.1" y2="414.45" stroke="#333" stroke-width="0.5"/>
<line x1="188.44" y1="430" x2="188.44" y2="431.2" stroke="#333" stroke-width="0.5"/>
<line x1="151.9" y1="413.73" x2="153.1" y2="413.73" stroke="#333" stroke-width="0.5"/>
<line x1="189.77" y1="430" x2="189.77" y2="431.2" stroke="#333" stroke-width="0.5"/>
<line x1="151.9" y1="413.12" x2="153.1" y2="413.12" stroke="#333" stroke-width="0.5"/>
<line x1="190.92" y1="430" x2="190.92" y2="431.2" stroke="#333" stroke-width="0.5"/>
<line x1="151.9" y1="412.59" x2="153.1" y2="412.59" stroke="#333" stroke-width="0.5"/>
<line x1="191.94" y1="430" x2="191.94" y2="431.2" stroke="#333" stroke-width="0.5"/>
<line x1="151.9" y1="412.12" x2="153.1" y2="412.12" stroke="#333" stroke-width="0.5"/>
<line x1="192.85" y1="430" x2="192.85" y2="432" stroke="#333" stroke-width="0.5"/>
<line x1="151.1" y1="411.7" x2="153.1" y2="411.7" stroke="#333" stroke-width="0.5"/>
<line x1="198.83" y1="430" x2="198.83" y2="431.2" stroke="#333" stroke-width="0.5"/>
<line x1="151.9" y1="408.95" x2="153.1" y2="408.95" stroke="#333" stroke-width="0.5"/>
<line x1="202.33" y1="430" x2="202.33" y2="431.2" stroke="#333" stroke-width="0.5"/>
<line x1="151.9" y1="407.33" x2="153.1" y2="407.33" stroke="#333" stroke-width="0.5"/>
<line x1="204.82" y1="430" x2="204.82" y2="431.2" stroke="#333" stroke-width="0.5"/>
<line x1="151.9" y1="406.19" x2="153.1" y2="406.19" stroke="#333" stroke-width="0.5"/>
<line x1="206.74" y1="430" x2="206.74" y2="431.2" stroke="#333" stroke-width="0.5"/>
<line x1="151.9" y1="405.3" x2="153.1" y2="405.3" stroke="#333" stroke-width="0.5"/>
<line x1="208.32" y1="430" x2="208.32" y2="431.2" stroke="#333" stroke-width="0.5"/>
<line x1="151.9" y1="404.58" x2="153.1" y2="404.58" stroke="#333" stroke-width="0.5"/>
<line x1="209.65" y1="430" x2="209.65" y2="431.2" stroke="#333" stroke-width="0.5"/>
<line x1="151.9" y1="403.97" x2="153.1" y2="403.97" stroke="#333" stroke-width="0.5"/>
<line x1="210.8" y1="430" x2="210.8" y2="431.2" stroke="#333" stroke-width="0.5"/>
<line x1="151.9" y1="403.44" x2="153.1" y2="403.44" stroke="#333" stroke-width="0.5"/>
<line x1="211.82" y1="430" x2="211.82" y2="431.2" stroke="#333" stroke-width="0.5"/>
<line x1="151.9" y1="402.97" x2="153.1" y2="402.97" stroke="#333" stroke-width="0.5"/>
<line x1="212.72" y1="430" x2="212.72" y2="432" stroke="#333" stroke-width="0.5"/>
<line x1="151.1" y1="402.55" x2="153.1" y2="402.55" stroke="#333" stroke-width="0.5"/>
<line x1="218.71" y1="430" x2="218.71" y2="431.2" stroke="#333" stroke-width="0.5"/>
<line x1="151.9" y1="399.8" x2="153.1" y2="399.8" stroke="#333" stroke-width="0.5"/>
<line x1="222.21" y1="430" x2="222.21" y2="431.2" stroke="#333" stroke-width="0.5"/>
<line x1="151.9" y1="398.18" x2="153.1" y2="398.18" stroke="#333" stroke-width="0.5"/>
<line x1="224.69" y1="430" x2="224.69" y2="431.2" stroke="#333" stroke-width="0.5"/>
<line x1="151.9" y1="397.04" x2="153.1" y2="397.04" stroke="#333" stroke-width="0.5"/>
<line x1="226.62" y1="430" x2="226.62" y2="431.2" stroke="#333" stroke-width="0.5"/>
<line x1="151.9" y1="396.15" x2="153.1" y2="396.15" stroke="#333" stroke-width="0.5"/>
<line x1="228.19" y1="430" x2="228.19" y2="431.2" stroke="#333" stroke-width="0.5"/>
<line x1="151.9" y1="395.43" x2="153.1" y2="395.43" stroke="#333" stroke-width="0.5"/>
<line x1="229.52" y1="430" x2="229.52" y2="431.2" stroke="#333" stroke-width="0.5"/>
<line x1="151.9" y1="394.82" x2="153.1" y2="394.82" stroke="#333" stroke-width="0.5"/>
<line x1="230.67" y1="430" x2="230.67" y2="431.2" stroke="#333" stroke-width="0.5"/>
<line x1="151.9" y1="394.29" x2="153.1" y2="394.29" stroke="#333" stroke-width="0.5"/>
<line x1="231.69" y1="430" x2="231.69" y2="431.2" stroke="#333" stroke-width="0.5"/>
<line x1="151.9" y1="393.82" x2="153.1" y2="393.82" stroke="#333" stroke-width="0.5"/>
<text x="154" y="438.4" font-size="5.6" text-anchor="middle" fill="#444">10<tspan font-size="4.5" dy="-2.2">0</tspan></text>
<text x="173.88" y="438.4" font-size="5.6" text-anchor="middle" fill="#444">10<tspan font-size="4.5" dy="-2.2">1</tspan></text>
<text x="193.75" y="438.4" font-size="5.6" text-anchor="middle" fill="#444">10<tspan font-size="4.5" dy="-2.2">2</tspan></text>
<text x="213.62" y="438.4" font-size="5.6" text-anchor="middle" fill="#444">10<tspan font-size="4.5" dy="-2.2">3</tspan></text>
<text x="233.5" y="438.4" font-size="5.6" text-anchor="middle" fill="#444">10<tspan font-size="4.5" dy="-2.2">4</tspan></text>
<rect x="192.8" y="395.6" width="26.3" height="9.7" fill="none" stroke="#000" stroke-width="0.85"/>
<rect x="192.8" y="405.3" width="25.4" height="12.8" fill="none" stroke="#000" stroke-width="0.85"/>
<rect x="202.5" y="420.2" width="19.1" height="9.8" fill="none" stroke="#000" stroke-width="0.85"/>
<text x="213.2" y="429.5" font-size="5" fill="#222">R4</text>
<line x1="279.4" y1="327.3" x2="279.4" y2="396.9" stroke="#000" stroke-width="1"/>
<line x1="278.9" y1="396.4" x2="331.6" y2="396.4" stroke="#000" stroke-width="1"/>
<line x1="277.4" y1="327.3" x2="279.4" y2="327.3" stroke="#000" stroke-width="0.9"/>
<text x="277" y="329.21" font-size="5.3" font-weight="bold" text-anchor="end" fill="#222">1.5</text>
<line x1="277.4" y1="350.5" x2="279.4" y2="350.5" stroke="#000" stroke-width="0.9"/>
<text x="277" y="352.41" font-size="5.3" font-weight="bold" text-anchor="end" fill="#222">1.0</text>
<line x1="277.4" y1="373.5" x2="279.4" y2="373.5" stroke="#000" stroke-width="0.9"/>
<text x="277" y="375.41" font-size="5.3" font-weight="bold" text-anchor="end" fill="#222">0.5</text>
<line x1="277.4" y1="396.4" x2="279.4" y2="396.4" stroke="#000" stroke-width="0.9"/>
<text x="277" y="398.31" font-size="5.3" font-weight="bold" text-anchor="end" fill="#222">0.0</text>
<line x1="292.75" y1="351.5" x2="292.75" y2="338.7" stroke="#000" stroke-width="0.9"/>
<line x1="287.89" y1="338.7" x2="297.61" y2="338.7" stroke="#000" stroke-width="0.9"/>
<rect x="283.9" y="352" width="17.7" height="44.4" fill="#fff" stroke="#000" stroke-width="1"/>
<line x1="292.75" y1="396.4" x2="292.75" y2="397.9" stroke="#000" stroke-width="0.8"/>
<line x1="320.75" y1="389.9" x2="320.75" y2="386.5" stroke="#000" stroke-width="0.9"/>
<line x1="315.94" y1="386.5" x2="325.56" y2="386.5" stroke="#000" stroke-width="0.9"/>
<rect x="312" y="390.4" width="17.5" height="6" fill="#000" stroke="#000" stroke-width="1"/>
<line x1="320.75" y1="396.4" x2="320.75" y2="397.9" stroke="#000" stroke-width="0.8"/>
<text x="292.9" y="403.4" font-size="5.2" font-weight="bold" text-anchor="middle" fill="#111">Control</text>
<text x="320.2" y="403.4" font-size="5.2" font-weight="bold" text-anchor="middle" fill="#111">M279</text>
<text x="260.2" y="361.4" font-size="7.05" font-weight="normal" text-anchor="middle" fill="#111" stroke="#111" stroke-width="0.25" transform="rotate(-90 260.2 361.4)" dominant-baseline="central">% GFP+F4/80<tspan font-size="4.3" dy="-2.6">high</tspan><tspan dy="2.6"> in PB</tspan></text>
<line x1="292.2" y1="333.4" x2="320.8" y2="333.4" stroke="#000" stroke-width="1"/>
<text x="306.4" y="333.3" font-size="9" font-weight="bold" text-anchor="middle" fill="#000">*</text>
<line x1="366.5" y1="326.9" x2="366.5" y2="396.7" stroke="#000" stroke-width="1"/>
<line x1="366" y1="396.2" x2="420" y2="396.2" stroke="#000" stroke-width="1"/>
<line x1="364.5" y1="336.7" x2="366.5" y2="336.7" stroke="#000" stroke-width="0.9"/>
<text x="364.1" y="338.61" font-size="5.3" font-weight="bold" text-anchor="end" fill="#222">6</text>
<line x1="364.5" y1="356.4" x2="366.5" y2="356.4" stroke="#000" stroke-width="0.9"/>
<text x="364.1" y="358.31" font-size="5.3" font-weight="bold" text-anchor="end" fill="#222">4</text>
<line x1="364.5" y1="376.5" x2="366.5" y2="376.5" stroke="#000" stroke-width="0.9"/>
<text x="364.1" y="378.41" font-size="5.3" font-weight="bold" text-anchor="end" fill="#222">2</text>
<line x1="364.5" y1="396.2" x2="366.5" y2="396.2" stroke="#000" stroke-width="0.9"/>
<text x="364.1" y="398.11" font-size="5.3" font-weight="bold" text-anchor="end" fill="#222">0</text>
<line x1="380.75" y1="365.9" x2="380.75" y2="362.3" stroke="#000" stroke-width="0.9"/>
<line x1="375.89" y1="362.3" x2="385.61" y2="362.3" stroke="#000" stroke-width="0.9"/>
<rect x="371.9" y="366.4" width="17.7" height="29.8" fill="#fff" stroke="#000" stroke-width="1"/>
<line x1="380.75" y1="396.2" x2="380.75" y2="397.7" stroke="#000" stroke-width="0.8"/>
<line x1="408.55" y1="344.2" x2="408.55" y2="334.8" stroke="#000" stroke-width="0.9"/>
<line x1="403.79" y1="334.8" x2="413.31" y2="334.8" stroke="#000" stroke-width="0.9"/>
<rect x="399.9" y="344.7" width="17.3" height="51.5" fill="#000" stroke="#000" stroke-width="1"/>
<line x1="408.55" y1="396.2" x2="408.55" y2="397.7" stroke="#000" stroke-width="0.8"/>
<text x="380.8" y="403.4" font-size="5.2" font-weight="bold" text-anchor="middle" fill="#111">Control</text>
<text x="408.6" y="403.4" font-size="5.2" font-weight="bold" text-anchor="middle" fill="#111">M279</text>
<text x="349.6" y="362" font-size="7.05" font-weight="normal" text-anchor="middle" fill="#111" stroke="#111" stroke-width="0.25" transform="rotate(-90 349.6 362)" dominant-baseline="central">% GFP+F4/80<tspan font-size="4.3" dy="-2.6">int</tspan><tspan dy="2.6"> in PB</tspan></text>
<line x1="454.4" y1="326.5" x2="454.4" y2="396.3" stroke="#000" stroke-width="1"/>
<line x1="453.9" y1="395.8" x2="506.6" y2="395.8" stroke="#000" stroke-width="1"/>
<line x1="452.4" y1="326.5" x2="454.4" y2="326.5" stroke="#000" stroke-width="0.9"/>
<text x="452" y="328.41" font-size="5.3" font-weight="bold" text-anchor="end" fill="#222">4</text>
<line x1="452.4" y1="344" x2="454.4" y2="344" stroke="#000" stroke-width="0.9"/>
<text x="452" y="345.91" font-size="5.3" font-weight="bold" text-anchor="end" fill="#222">3</text>
<line x1="452.4" y1="361.3" x2="454.4" y2="361.3" stroke="#000" stroke-width="0.9"/>
<text x="452" y="363.21" font-size="5.3" font-weight="bold" text-anchor="end" fill="#222">2</text>
<line x1="452.4" y1="378.7" x2="454.4" y2="378.7" stroke="#000" stroke-width="0.9"/>
<text x="452" y="380.61" font-size="5.3" font-weight="bold" text-anchor="end" fill="#222">1</text>
<line x1="452.4" y1="395.8" x2="454.4" y2="395.8" stroke="#000" stroke-width="0.9"/>
<text x="452" y="397.71" font-size="5.3" font-weight="bold" text-anchor="end" fill="#222">0</text>
<line x1="468.15" y1="345.2" x2="468.15" y2="338.7" stroke="#000" stroke-width="0.9"/>
<line x1="463.29" y1="338.7" x2="473.01" y2="338.7" stroke="#000" stroke-width="0.9"/>
<rect x="459.3" y="345.7" width="17.7" height="50.1" fill="#fff" stroke="#000" stroke-width="1"/>
<line x1="468.15" y1="395.8" x2="468.15" y2="397.3" stroke="#000" stroke-width="0.8"/>
<line x1="495.65" y1="387.3" x2="495.65" y2="382.6" stroke="#000" stroke-width="0.9"/>
<line x1="490.79" y1="382.6" x2="500.51" y2="382.6" stroke="#000" stroke-width="0.9"/>
<rect x="486.8" y="387.8" width="17.7" height="8" fill="#000" stroke="#000" stroke-width="1"/>
<line x1="495.65" y1="395.8" x2="495.65" y2="397.3" stroke="#000" stroke-width="0.8"/>
<text x="468.2" y="403.4" font-size="5.2" font-weight="bold" text-anchor="middle" fill="#111">Control</text>
<text x="495.7" y="403.4" font-size="5.2" font-weight="bold" text-anchor="middle" fill="#111">M279</text>
<text x="439.1" y="364.3" font-size="6.75" font-weight="normal" text-anchor="middle" fill="#111" stroke="#111" stroke-width="0.25" transform="rotate(-90 439.1 364.3)" dominant-baseline="central">% GFP+Gr-1<tspan font-size="4.1" dy="-2.6">neg</tspan><tspan dy="2.6"> in PB</tspan></text>
<line x1="466.9" y1="334.2" x2="494.4" y2="334.2" stroke="#000" stroke-width="1"/>
<text x="479.4" y="334.1" font-size="9" font-weight="bold" text-anchor="middle" fill="#000">*</text>
</svg>
</body></html>
